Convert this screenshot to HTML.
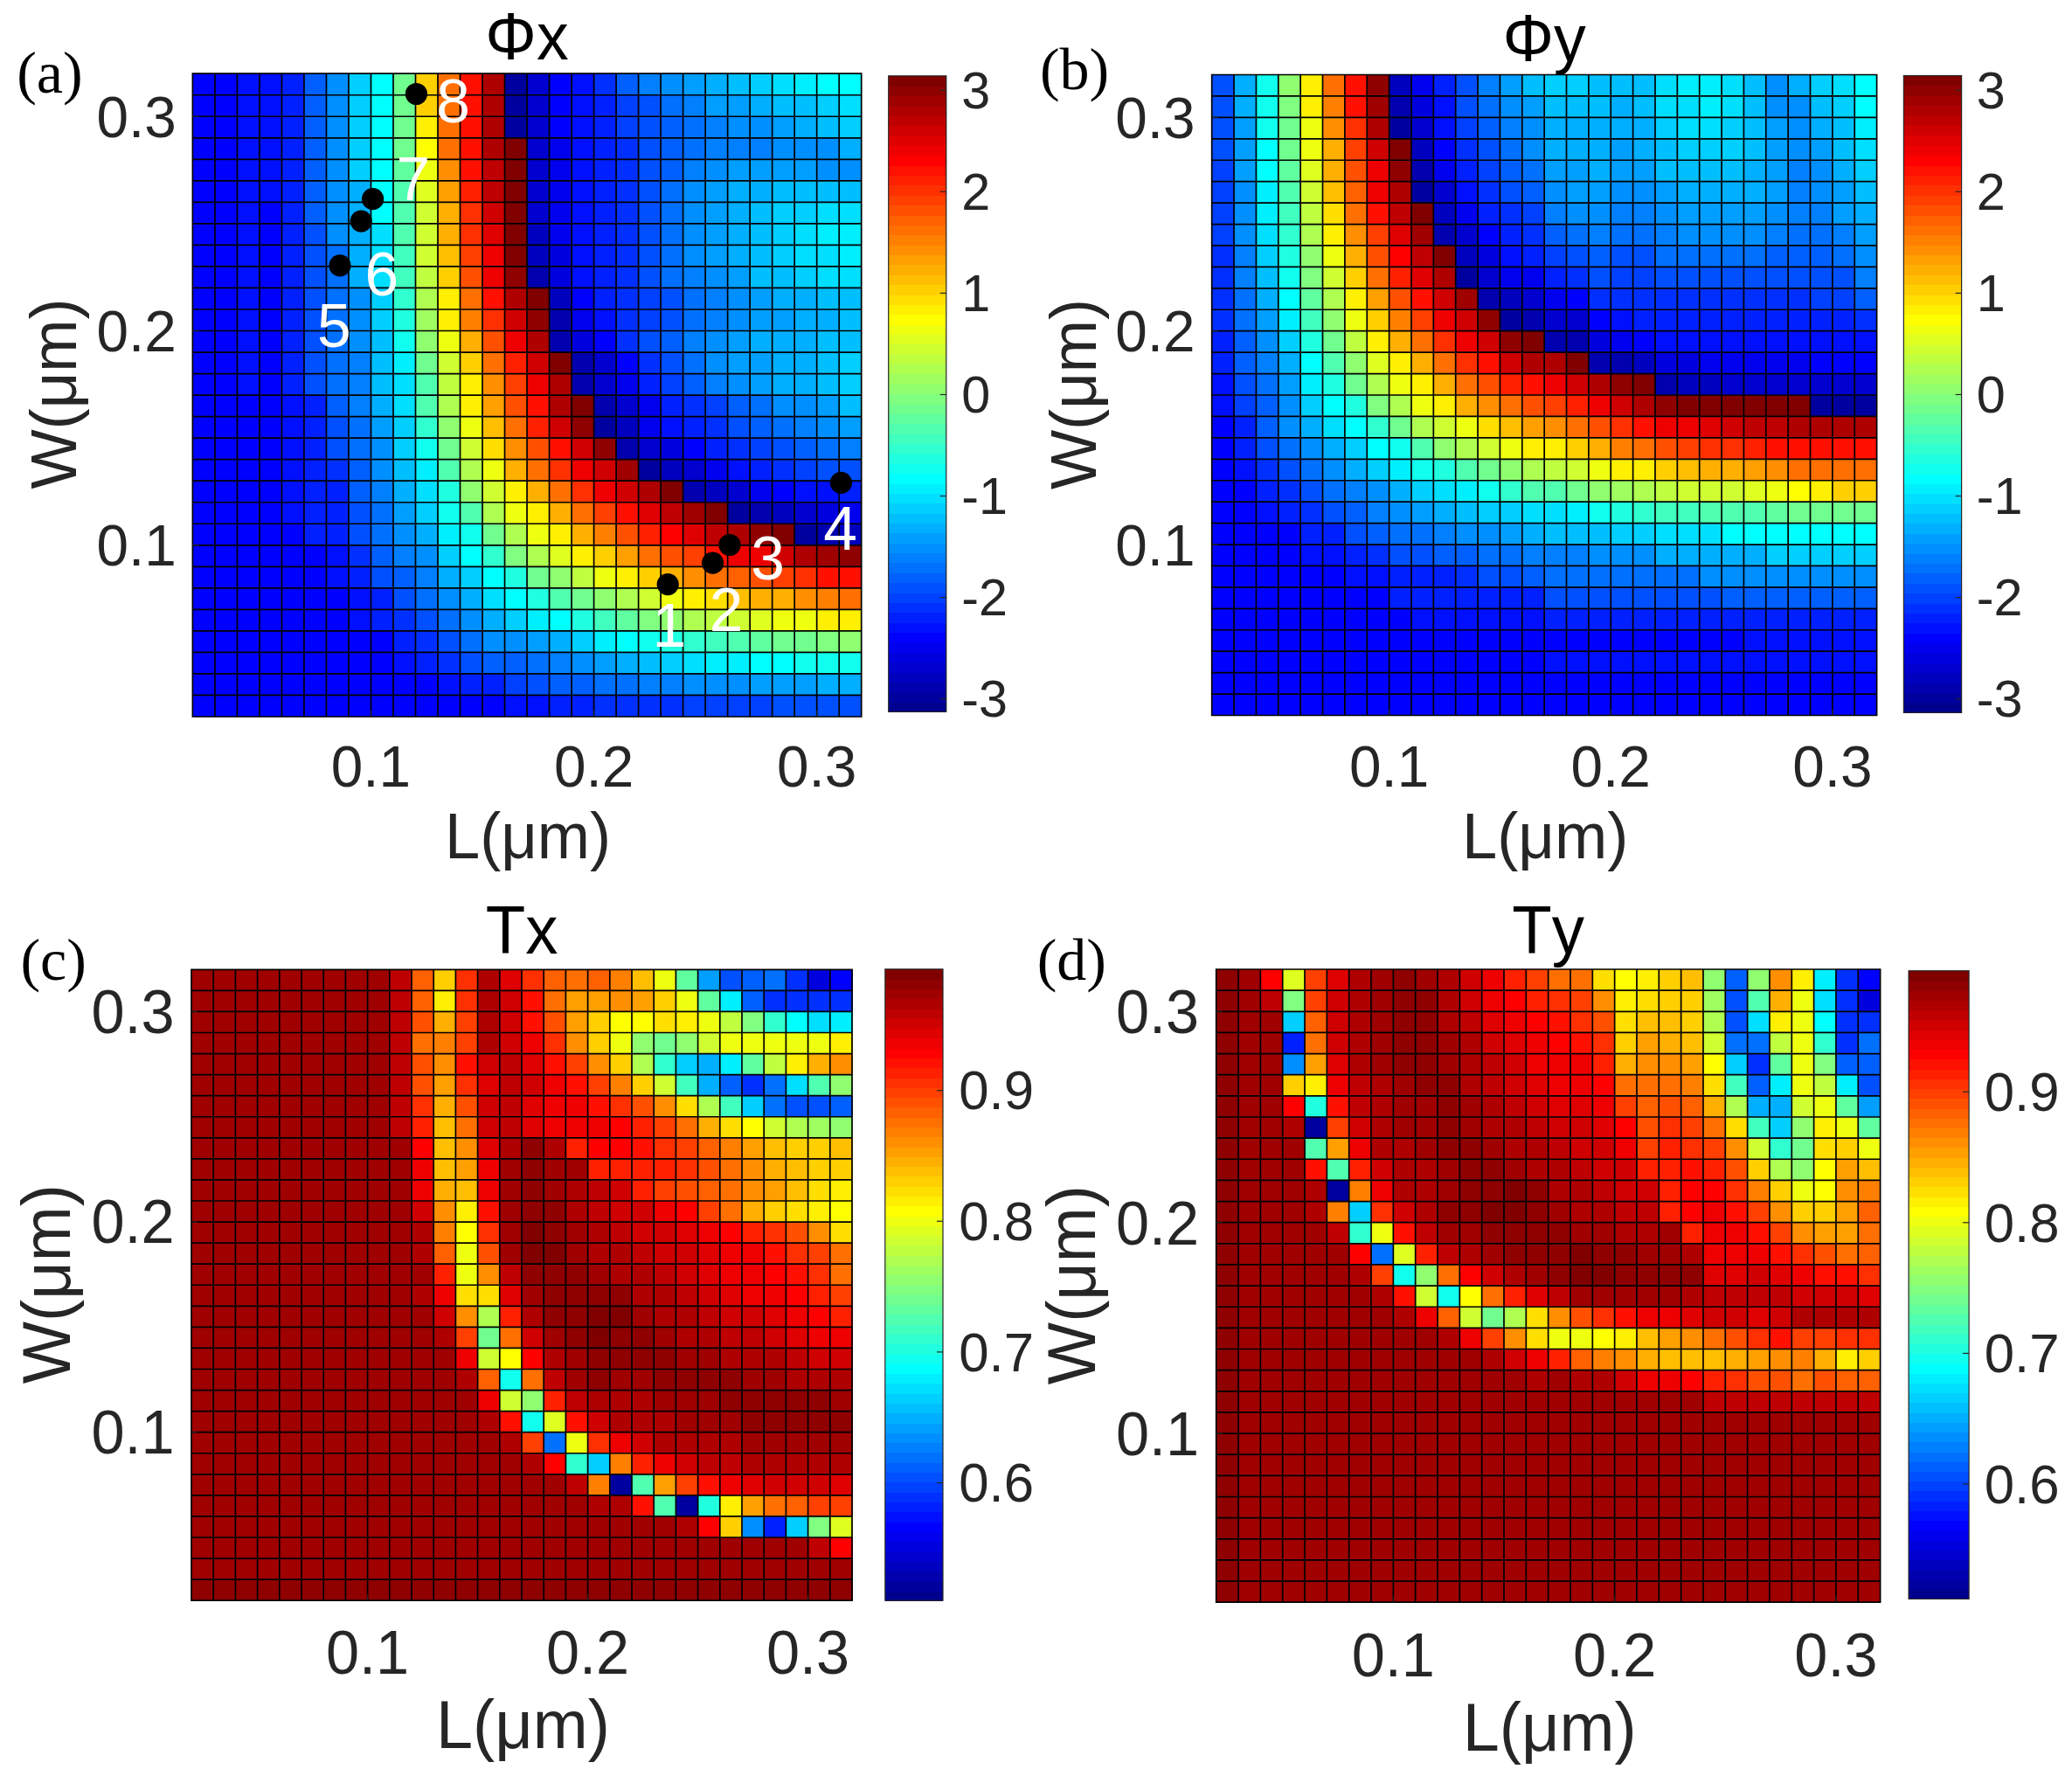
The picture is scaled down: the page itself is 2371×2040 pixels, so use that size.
<!DOCTYPE html><html><head><meta charset="utf-8"><title>Figure</title><style>html,body{margin:0;padding:0;background:#fff}svg{display:block}text{font-kerning:none}</style></head><body>
<svg width="2371" height="2040" viewBox="0 0 2371 2040">
<rect width="2371" height="2040" fill="#fff"/>
<g shape-rendering="crispEdges">
<g transform="translate(0,84.20)">
<rect x="220.40" width="51.52" height="25.03" fill="#0000ff"/>
<rect x="271.42" width="51.52" height="25.03" fill="#0010ff"/>
<rect x="322.44" width="26.01" height="25.03" fill="#0020ff"/>
<rect x="347.95" width="26.01" height="25.03" fill="#0060ff"/>
<rect x="373.46" width="26.01" height="25.03" fill="#008fff"/>
<rect x="398.97" width="26.01" height="25.03" fill="#00cfff"/>
<rect x="424.48" width="26.01" height="25.03" fill="#00ffff"/>
<rect x="449.99" width="26.01" height="25.03" fill="#70ff8f"/>
<rect x="475.50" width="26.01" height="25.03" fill="#ffcf00"/>
<rect x="501.01" width="26.01" height="25.03" fill="#ff7000"/>
<rect x="526.52" width="26.01" height="25.03" fill="#ff1000"/>
<rect x="552.03" width="26.01" height="25.03" fill="#af0000"/>
<rect x="577.54" width="26.01" height="25.03" fill="#00009f"/>
<rect x="603.05" width="26.01" height="25.03" fill="#0000cf"/>
<rect x="628.56" width="26.01" height="25.03" fill="#0000ff"/>
<rect x="654.07" width="26.01" height="25.03" fill="#0010ff"/>
<rect x="679.58" width="26.01" height="25.03" fill="#0030ff"/>
<rect x="705.09" width="26.01" height="25.03" fill="#0060ff"/>
<rect x="730.60" width="26.01" height="25.03" fill="#0080ff"/>
<rect x="756.11" width="26.01" height="25.03" fill="#008fff"/>
<rect x="781.62" width="26.01" height="25.03" fill="#009fff"/>
<rect x="807.13" width="26.01" height="25.03" fill="#00afff"/>
<rect x="832.64" width="26.01" height="25.03" fill="#00bfff"/>
<rect x="858.15" width="26.01" height="25.03" fill="#00cfff"/>
<rect x="883.66" width="26.01" height="25.03" fill="#00dfff"/>
<rect x="909.17" width="26.01" height="25.03" fill="#00efff"/>
<rect x="934.68" width="51.52" height="25.03" fill="#00ffff"/>
</g>
<g transform="translate(0,108.73)">
<rect x="220.40" width="51.52" height="25.03" fill="#0000ff"/>
<rect x="271.42" width="51.52" height="25.03" fill="#0010ff"/>
<rect x="322.44" width="26.01" height="25.03" fill="#0020ff"/>
<rect x="347.95" width="26.01" height="25.03" fill="#0060ff"/>
<rect x="373.46" width="26.01" height="25.03" fill="#008fff"/>
<rect x="398.97" width="26.01" height="25.03" fill="#00cfff"/>
<rect x="424.48" width="26.01" height="25.03" fill="#00ffff"/>
<rect x="449.99" width="26.01" height="25.03" fill="#70ff8f"/>
<rect x="475.50" width="26.01" height="25.03" fill="#ffcf00"/>
<rect x="501.01" width="26.01" height="25.03" fill="#ff7000"/>
<rect x="526.52" width="26.01" height="25.03" fill="#ff1000"/>
<rect x="552.03" width="26.01" height="25.03" fill="#af0000"/>
<rect x="577.54" width="26.01" height="25.03" fill="#00009f"/>
<rect x="603.05" width="26.01" height="25.03" fill="#0000cf"/>
<rect x="628.56" width="26.01" height="25.03" fill="#0000ff"/>
<rect x="654.07" width="26.01" height="25.03" fill="#0010ff"/>
<rect x="679.58" width="26.01" height="25.03" fill="#0020ff"/>
<rect x="705.09" width="26.01" height="25.03" fill="#0040ff"/>
<rect x="730.60" width="26.01" height="25.03" fill="#0050ff"/>
<rect x="756.11" width="26.01" height="25.03" fill="#0070ff"/>
<rect x="781.62" width="26.01" height="25.03" fill="#0080ff"/>
<rect x="807.13" width="51.52" height="25.03" fill="#009fff"/>
<rect x="858.15" width="26.01" height="25.03" fill="#00afff"/>
<rect x="883.66" width="51.52" height="25.03" fill="#00bfff"/>
<rect x="934.68" width="26.01" height="25.03" fill="#00cfff"/>
<rect x="960.19" width="26.01" height="25.03" fill="#00dfff"/>
</g>
<g transform="translate(0,133.25)">
<rect x="220.40" width="51.52" height="25.03" fill="#0000ff"/>
<rect x="271.42" width="51.52" height="25.03" fill="#0010ff"/>
<rect x="322.44" width="26.01" height="25.03" fill="#0020ff"/>
<rect x="347.95" width="26.01" height="25.03" fill="#0060ff"/>
<rect x="373.46" width="26.01" height="25.03" fill="#008fff"/>
<rect x="398.97" width="26.01" height="25.03" fill="#00cfff"/>
<rect x="424.48" width="26.01" height="25.03" fill="#00ffff"/>
<rect x="449.99" width="26.01" height="25.03" fill="#70ff8f"/>
<rect x="475.50" width="26.01" height="25.03" fill="#ffef00"/>
<rect x="501.01" width="26.01" height="25.03" fill="#ff7000"/>
<rect x="526.52" width="26.01" height="25.03" fill="#ff1000"/>
<rect x="552.03" width="26.01" height="25.03" fill="#af0000"/>
<rect x="577.54" width="26.01" height="25.03" fill="#00009f"/>
<rect x="603.05" width="26.01" height="25.03" fill="#0000cf"/>
<rect x="628.56" width="26.01" height="25.03" fill="#0000ff"/>
<rect x="654.07" width="26.01" height="25.03" fill="#0010ff"/>
<rect x="679.58" width="26.01" height="25.03" fill="#0020ff"/>
<rect x="705.09" width="26.01" height="25.03" fill="#0040ff"/>
<rect x="730.60" width="26.01" height="25.03" fill="#0050ff"/>
<rect x="756.11" width="26.01" height="25.03" fill="#0060ff"/>
<rect x="781.62" width="26.01" height="25.03" fill="#0070ff"/>
<rect x="807.13" width="26.01" height="25.03" fill="#0080ff"/>
<rect x="832.64" width="51.52" height="25.03" fill="#008fff"/>
<rect x="883.66" width="26.01" height="25.03" fill="#009fff"/>
<rect x="909.17" width="26.01" height="25.03" fill="#00afff"/>
<rect x="934.68" width="26.01" height="25.03" fill="#00bfff"/>
<rect x="960.19" width="26.01" height="25.03" fill="#00cfff"/>
</g>
<g transform="translate(0,157.78)">
<rect x="220.40" width="51.52" height="25.03" fill="#0000ff"/>
<rect x="271.42" width="51.52" height="25.03" fill="#0010ff"/>
<rect x="322.44" width="26.01" height="25.03" fill="#0020ff"/>
<rect x="347.95" width="26.01" height="25.03" fill="#0060ff"/>
<rect x="373.46" width="26.01" height="25.03" fill="#008fff"/>
<rect x="398.97" width="26.01" height="25.03" fill="#00cfff"/>
<rect x="424.48" width="26.01" height="25.03" fill="#00ffff"/>
<rect x="449.99" width="26.01" height="25.03" fill="#70ff8f"/>
<rect x="475.50" width="26.01" height="25.03" fill="#ffff00"/>
<rect x="501.01" width="26.01" height="25.03" fill="#ff7000"/>
<rect x="526.52" width="26.01" height="25.03" fill="#ff1000"/>
<rect x="552.03" width="26.01" height="25.03" fill="#af0000"/>
<rect x="577.54" width="26.01" height="25.03" fill="#800000"/>
<rect x="603.05" width="26.01" height="25.03" fill="#0000cf"/>
<rect x="628.56" width="26.01" height="25.03" fill="#0000ef"/>
<rect x="654.07" width="26.01" height="25.03" fill="#0010ff"/>
<rect x="679.58" width="26.01" height="25.03" fill="#0020ff"/>
<rect x="705.09" width="26.01" height="25.03" fill="#0030ff"/>
<rect x="730.60" width="26.01" height="25.03" fill="#0050ff"/>
<rect x="756.11" width="26.01" height="25.03" fill="#0060ff"/>
<rect x="781.62" width="26.01" height="25.03" fill="#0070ff"/>
<rect x="807.13" width="77.03" height="25.03" fill="#0080ff"/>
<rect x="883.66" width="77.03" height="25.03" fill="#008fff"/>
<rect x="960.19" width="26.01" height="25.03" fill="#00afff"/>
</g>
<g transform="translate(0,182.31)">
<rect x="220.40" width="51.52" height="25.03" fill="#0000ff"/>
<rect x="271.42" width="51.52" height="25.03" fill="#0010ff"/>
<rect x="322.44" width="26.01" height="25.03" fill="#0020ff"/>
<rect x="347.95" width="26.01" height="25.03" fill="#0060ff"/>
<rect x="373.46" width="26.01" height="25.03" fill="#008fff"/>
<rect x="398.97" width="26.01" height="25.03" fill="#00cfff"/>
<rect x="424.48" width="26.01" height="25.03" fill="#00ffff"/>
<rect x="449.99" width="26.01" height="25.03" fill="#60ff9f"/>
<rect x="475.50" width="26.01" height="25.03" fill="#efff10"/>
<rect x="501.01" width="26.01" height="25.03" fill="#ff8f00"/>
<rect x="526.52" width="26.01" height="25.03" fill="#ff1000"/>
<rect x="552.03" width="26.01" height="25.03" fill="#bf0000"/>
<rect x="577.54" width="26.01" height="25.03" fill="#800000"/>
<rect x="603.05" width="26.01" height="25.03" fill="#0000cf"/>
<rect x="628.56" width="26.01" height="25.03" fill="#0000ef"/>
<rect x="654.07" width="26.01" height="25.03" fill="#0010ff"/>
<rect x="679.58" width="26.01" height="25.03" fill="#0020ff"/>
<rect x="705.09" width="26.01" height="25.03" fill="#0030ff"/>
<rect x="730.60" width="26.01" height="25.03" fill="#0050ff"/>
<rect x="756.11" width="26.01" height="25.03" fill="#0060ff"/>
<rect x="781.62" width="26.01" height="25.03" fill="#0080ff"/>
<rect x="807.13" width="26.01" height="25.03" fill="#008fff"/>
<rect x="832.64" width="102.54" height="25.03" fill="#009fff"/>
<rect x="934.68" width="51.52" height="25.03" fill="#008fff"/>
</g>
<g transform="translate(0,206.83)">
<rect x="220.40" width="51.52" height="25.03" fill="#0000ff"/>
<rect x="271.42" width="51.52" height="25.03" fill="#0010ff"/>
<rect x="322.44" width="26.01" height="25.03" fill="#0020ff"/>
<rect x="347.95" width="26.01" height="25.03" fill="#0060ff"/>
<rect x="373.46" width="26.01" height="25.03" fill="#008fff"/>
<rect x="398.97" width="26.01" height="25.03" fill="#00afff"/>
<rect x="424.48" width="26.01" height="25.03" fill="#00ffff"/>
<rect x="449.99" width="26.01" height="25.03" fill="#50ffaf"/>
<rect x="475.50" width="26.01" height="25.03" fill="#dfff20"/>
<rect x="501.01" width="26.01" height="25.03" fill="#ff9f00"/>
<rect x="526.52" width="26.01" height="25.03" fill="#ff2000"/>
<rect x="552.03" width="26.01" height="25.03" fill="#bf0000"/>
<rect x="577.54" width="26.01" height="25.03" fill="#800000"/>
<rect x="603.05" width="26.01" height="25.03" fill="#0000cf"/>
<rect x="628.56" width="26.01" height="25.03" fill="#0000ef"/>
<rect x="654.07" width="26.01" height="25.03" fill="#0010ff"/>
<rect x="679.58" width="26.01" height="25.03" fill="#0020ff"/>
<rect x="705.09" width="26.01" height="25.03" fill="#0030ff"/>
<rect x="730.60" width="26.01" height="25.03" fill="#0050ff"/>
<rect x="756.11" width="26.01" height="25.03" fill="#0070ff"/>
<rect x="781.62" width="26.01" height="25.03" fill="#008fff"/>
<rect x="807.13" width="26.01" height="25.03" fill="#009fff"/>
<rect x="832.64" width="51.52" height="25.03" fill="#00afff"/>
<rect x="883.66" width="102.54" height="25.03" fill="#00bfff"/>
</g>
<g transform="translate(0,231.36)">
<rect x="220.40" width="51.52" height="25.03" fill="#0000ff"/>
<rect x="271.42" width="26.01" height="25.03" fill="#0010ff"/>
<rect x="296.93" width="26.01" height="25.03" fill="#0000ff"/>
<rect x="322.44" width="26.01" height="25.03" fill="#0020ff"/>
<rect x="347.95" width="26.01" height="25.03" fill="#0060ff"/>
<rect x="373.46" width="26.01" height="25.03" fill="#008fff"/>
<rect x="398.97" width="26.01" height="25.03" fill="#00afff"/>
<rect x="424.48" width="26.01" height="25.03" fill="#00ffff"/>
<rect x="449.99" width="26.01" height="25.03" fill="#50ffaf"/>
<rect x="475.50" width="26.01" height="25.03" fill="#cfff30"/>
<rect x="501.01" width="26.01" height="25.03" fill="#ffaf00"/>
<rect x="526.52" width="26.01" height="25.03" fill="#ff3000"/>
<rect x="552.03" width="26.01" height="25.03" fill="#cf0000"/>
<rect x="577.54" width="26.01" height="25.03" fill="#800000"/>
<rect x="603.05" width="26.01" height="25.03" fill="#0000cf"/>
<rect x="628.56" width="26.01" height="25.03" fill="#0000ef"/>
<rect x="654.07" width="26.01" height="25.03" fill="#0010ff"/>
<rect x="679.58" width="26.01" height="25.03" fill="#0020ff"/>
<rect x="705.09" width="26.01" height="25.03" fill="#0030ff"/>
<rect x="730.60" width="26.01" height="25.03" fill="#0050ff"/>
<rect x="756.11" width="26.01" height="25.03" fill="#0070ff"/>
<rect x="781.62" width="26.01" height="25.03" fill="#008fff"/>
<rect x="807.13" width="26.01" height="25.03" fill="#009fff"/>
<rect x="832.64" width="26.01" height="25.03" fill="#00afff"/>
<rect x="858.15" width="26.01" height="25.03" fill="#00bfff"/>
<rect x="883.66" width="51.52" height="25.03" fill="#00cfff"/>
<rect x="934.68" width="51.52" height="25.03" fill="#00dfff"/>
</g>
<g transform="translate(0,255.89)">
<rect x="220.40" width="51.52" height="25.03" fill="#0000ff"/>
<rect x="271.42" width="26.01" height="25.03" fill="#0010ff"/>
<rect x="296.93" width="26.01" height="25.03" fill="#0000ff"/>
<rect x="322.44" width="26.01" height="25.03" fill="#0020ff"/>
<rect x="347.95" width="26.01" height="25.03" fill="#0050ff"/>
<rect x="373.46" width="26.01" height="25.03" fill="#008fff"/>
<rect x="398.97" width="26.01" height="25.03" fill="#00afff"/>
<rect x="424.48" width="26.01" height="25.03" fill="#00dfff"/>
<rect x="449.99" width="26.01" height="25.03" fill="#50ffaf"/>
<rect x="475.50" width="26.01" height="25.03" fill="#cfff30"/>
<rect x="501.01" width="26.01" height="25.03" fill="#ffaf00"/>
<rect x="526.52" width="26.01" height="25.03" fill="#ff3000"/>
<rect x="552.03" width="26.01" height="25.03" fill="#df0000"/>
<rect x="577.54" width="26.01" height="25.03" fill="#800000"/>
<rect x="603.05" width="26.01" height="25.03" fill="#0000bf"/>
<rect x="628.56" width="26.01" height="25.03" fill="#0000ef"/>
<rect x="654.07" width="26.01" height="25.03" fill="#0010ff"/>
<rect x="679.58" width="26.01" height="25.03" fill="#0020ff"/>
<rect x="705.09" width="26.01" height="25.03" fill="#0030ff"/>
<rect x="730.60" width="26.01" height="25.03" fill="#0050ff"/>
<rect x="756.11" width="26.01" height="25.03" fill="#0070ff"/>
<rect x="781.62" width="26.01" height="25.03" fill="#008fff"/>
<rect x="807.13" width="26.01" height="25.03" fill="#009fff"/>
<rect x="832.64" width="26.01" height="25.03" fill="#00afff"/>
<rect x="858.15" width="26.01" height="25.03" fill="#00bfff"/>
<rect x="883.66" width="26.01" height="25.03" fill="#00cfff"/>
<rect x="909.17" width="26.01" height="25.03" fill="#00dfff"/>
<rect x="934.68" width="51.52" height="25.03" fill="#00efff"/>
</g>
<g transform="translate(0,280.41)">
<rect x="220.40" width="51.52" height="25.03" fill="#0000ff"/>
<rect x="271.42" width="26.01" height="25.03" fill="#0010ff"/>
<rect x="296.93" width="26.01" height="25.03" fill="#0000ff"/>
<rect x="322.44" width="26.01" height="25.03" fill="#0020ff"/>
<rect x="347.95" width="26.01" height="25.03" fill="#0050ff"/>
<rect x="373.46" width="26.01" height="25.03" fill="#0070ff"/>
<rect x="398.97" width="26.01" height="25.03" fill="#00afff"/>
<rect x="424.48" width="26.01" height="25.03" fill="#00dfff"/>
<rect x="449.99" width="26.01" height="25.03" fill="#40ffbf"/>
<rect x="475.50" width="26.01" height="25.03" fill="#cfff30"/>
<rect x="501.01" width="26.01" height="25.03" fill="#ffbf00"/>
<rect x="526.52" width="26.01" height="25.03" fill="#ff4000"/>
<rect x="552.03" width="26.01" height="25.03" fill="#ef0000"/>
<rect x="577.54" width="26.01" height="25.03" fill="#800000"/>
<rect x="603.05" width="26.01" height="25.03" fill="#0000bf"/>
<rect x="628.56" width="26.01" height="25.03" fill="#0000df"/>
<rect x="654.07" width="26.01" height="25.03" fill="#0010ff"/>
<rect x="679.58" width="26.01" height="25.03" fill="#0020ff"/>
<rect x="705.09" width="26.01" height="25.03" fill="#0030ff"/>
<rect x="730.60" width="26.01" height="25.03" fill="#0050ff"/>
<rect x="756.11" width="26.01" height="25.03" fill="#0070ff"/>
<rect x="781.62" width="26.01" height="25.03" fill="#008fff"/>
<rect x="807.13" width="26.01" height="25.03" fill="#009fff"/>
<rect x="832.64" width="26.01" height="25.03" fill="#00afff"/>
<rect x="858.15" width="26.01" height="25.03" fill="#00bfff"/>
<rect x="883.66" width="26.01" height="25.03" fill="#00cfff"/>
<rect x="909.17" width="51.52" height="25.03" fill="#00dfff"/>
<rect x="960.19" width="26.01" height="25.03" fill="#00efff"/>
</g>
<g transform="translate(0,304.94)">
<rect x="220.40" width="51.52" height="25.03" fill="#0000ff"/>
<rect x="271.42" width="26.01" height="25.03" fill="#0010ff"/>
<rect x="296.93" width="26.01" height="25.03" fill="#0000ff"/>
<rect x="322.44" width="26.01" height="25.03" fill="#0020ff"/>
<rect x="347.95" width="26.01" height="25.03" fill="#0050ff"/>
<rect x="373.46" width="26.01" height="25.03" fill="#0070ff"/>
<rect x="398.97" width="26.01" height="25.03" fill="#00afff"/>
<rect x="424.48" width="26.01" height="25.03" fill="#00dfff"/>
<rect x="449.99" width="26.01" height="25.03" fill="#40ffbf"/>
<rect x="475.50" width="26.01" height="25.03" fill="#bfff40"/>
<rect x="501.01" width="26.01" height="25.03" fill="#ffcf00"/>
<rect x="526.52" width="26.01" height="25.03" fill="#ff5000"/>
<rect x="552.03" width="26.01" height="25.03" fill="#ef0000"/>
<rect x="577.54" width="26.01" height="25.03" fill="#8f0000"/>
<rect x="603.05" width="26.01" height="25.03" fill="#0000af"/>
<rect x="628.56" width="26.01" height="25.03" fill="#0000df"/>
<rect x="654.07" width="26.01" height="25.03" fill="#0010ff"/>
<rect x="679.58" width="26.01" height="25.03" fill="#0020ff"/>
<rect x="705.09" width="26.01" height="25.03" fill="#0030ff"/>
<rect x="730.60" width="26.01" height="25.03" fill="#0050ff"/>
<rect x="756.11" width="26.01" height="25.03" fill="#0070ff"/>
<rect x="781.62" width="26.01" height="25.03" fill="#0080ff"/>
<rect x="807.13" width="26.01" height="25.03" fill="#008fff"/>
<rect x="832.64" width="26.01" height="25.03" fill="#009fff"/>
<rect x="858.15" width="51.52" height="25.03" fill="#00bfff"/>
<rect x="909.17" width="26.01" height="25.03" fill="#00cfff"/>
<rect x="934.68" width="51.52" height="25.03" fill="#00dfff"/>
</g>
<g transform="translate(0,329.47)">
<rect x="220.40" width="51.52" height="25.03" fill="#0000ff"/>
<rect x="271.42" width="26.01" height="25.03" fill="#0010ff"/>
<rect x="296.93" width="26.01" height="25.03" fill="#0000ff"/>
<rect x="322.44" width="26.01" height="25.03" fill="#0020ff"/>
<rect x="347.95" width="26.01" height="25.03" fill="#0050ff"/>
<rect x="373.46" width="26.01" height="25.03" fill="#0070ff"/>
<rect x="398.97" width="26.01" height="25.03" fill="#008fff"/>
<rect x="424.48" width="26.01" height="25.03" fill="#00cfff"/>
<rect x="449.99" width="26.01" height="25.03" fill="#30ffcf"/>
<rect x="475.50" width="26.01" height="25.03" fill="#afff50"/>
<rect x="501.01" width="26.01" height="25.03" fill="#ffef00"/>
<rect x="526.52" width="26.01" height="25.03" fill="#ff7000"/>
<rect x="552.03" width="26.01" height="25.03" fill="#ff1000"/>
<rect x="577.54" width="26.01" height="25.03" fill="#af0000"/>
<rect x="603.05" width="26.01" height="25.03" fill="#800000"/>
<rect x="628.56" width="26.01" height="25.03" fill="#0000bf"/>
<rect x="654.07" width="26.01" height="25.03" fill="#0000ff"/>
<rect x="679.58" width="26.01" height="25.03" fill="#0020ff"/>
<rect x="705.09" width="26.01" height="25.03" fill="#0030ff"/>
<rect x="730.60" width="26.01" height="25.03" fill="#0040ff"/>
<rect x="756.11" width="26.01" height="25.03" fill="#0050ff"/>
<rect x="781.62" width="26.01" height="25.03" fill="#0070ff"/>
<rect x="807.13" width="26.01" height="25.03" fill="#0080ff"/>
<rect x="832.64" width="26.01" height="25.03" fill="#008fff"/>
<rect x="858.15" width="26.01" height="25.03" fill="#009fff"/>
<rect x="883.66" width="51.52" height="25.03" fill="#00afff"/>
<rect x="934.68" width="51.52" height="25.03" fill="#00bfff"/>
</g>
<g transform="translate(0,353.99)">
<rect x="220.40" width="51.52" height="25.03" fill="#0000ff"/>
<rect x="271.42" width="26.01" height="25.03" fill="#0010ff"/>
<rect x="296.93" width="26.01" height="25.03" fill="#0000ff"/>
<rect x="322.44" width="26.01" height="25.03" fill="#0020ff"/>
<rect x="347.95" width="26.01" height="25.03" fill="#0050ff"/>
<rect x="373.46" width="26.01" height="25.03" fill="#0070ff"/>
<rect x="398.97" width="26.01" height="25.03" fill="#008fff"/>
<rect x="424.48" width="26.01" height="25.03" fill="#00cfff"/>
<rect x="449.99" width="26.01" height="25.03" fill="#20ffdf"/>
<rect x="475.50" width="26.01" height="25.03" fill="#9fff60"/>
<rect x="501.01" width="26.01" height="25.03" fill="#ffef00"/>
<rect x="526.52" width="26.01" height="25.03" fill="#ff8000"/>
<rect x="552.03" width="26.01" height="25.03" fill="#ff3000"/>
<rect x="577.54" width="26.01" height="25.03" fill="#cf0000"/>
<rect x="603.05" width="26.01" height="25.03" fill="#8f0000"/>
<rect x="628.56" width="26.01" height="25.03" fill="#0000af"/>
<rect x="654.07" width="26.01" height="25.03" fill="#0000ef"/>
<rect x="679.58" width="26.01" height="25.03" fill="#0010ff"/>
<rect x="705.09" width="26.01" height="25.03" fill="#0030ff"/>
<rect x="730.60" width="26.01" height="25.03" fill="#0040ff"/>
<rect x="756.11" width="26.01" height="25.03" fill="#0050ff"/>
<rect x="781.62" width="26.01" height="25.03" fill="#0070ff"/>
<rect x="807.13" width="26.01" height="25.03" fill="#0080ff"/>
<rect x="832.64" width="26.01" height="25.03" fill="#008fff"/>
<rect x="858.15" width="51.52" height="25.03" fill="#009fff"/>
<rect x="909.17" width="51.52" height="25.03" fill="#00afff"/>
<rect x="960.19" width="26.01" height="25.03" fill="#00bfff"/>
</g>
<g transform="translate(0,378.52)">
<rect x="220.40" width="51.52" height="25.03" fill="#0000ff"/>
<rect x="271.42" width="26.01" height="25.03" fill="#0010ff"/>
<rect x="296.93" width="26.01" height="25.03" fill="#0000ff"/>
<rect x="322.44" width="26.01" height="25.03" fill="#0020ff"/>
<rect x="347.95" width="26.01" height="25.03" fill="#0050ff"/>
<rect x="373.46" width="26.01" height="25.03" fill="#0070ff"/>
<rect x="398.97" width="26.01" height="25.03" fill="#008fff"/>
<rect x="424.48" width="26.01" height="25.03" fill="#00bfff"/>
<rect x="449.99" width="26.01" height="25.03" fill="#10ffef"/>
<rect x="475.50" width="26.01" height="25.03" fill="#8fff70"/>
<rect x="501.01" width="26.01" height="25.03" fill="#efff10"/>
<rect x="526.52" width="26.01" height="25.03" fill="#ffaf00"/>
<rect x="552.03" width="26.01" height="25.03" fill="#ff5000"/>
<rect x="577.54" width="26.01" height="25.03" fill="#ef0000"/>
<rect x="603.05" width="26.01" height="25.03" fill="#af0000"/>
<rect x="628.56" width="26.01" height="25.03" fill="#0000af"/>
<rect x="654.07" width="26.01" height="25.03" fill="#0000df"/>
<rect x="679.58" width="26.01" height="25.03" fill="#0000ff"/>
<rect x="705.09" width="26.01" height="25.03" fill="#0030ff"/>
<rect x="730.60" width="26.01" height="25.03" fill="#0050ff"/>
<rect x="756.11" width="26.01" height="25.03" fill="#0060ff"/>
<rect x="781.62" width="26.01" height="25.03" fill="#0080ff"/>
<rect x="807.13" width="26.01" height="25.03" fill="#008fff"/>
<rect x="832.64" width="26.01" height="25.03" fill="#009fff"/>
<rect x="858.15" width="77.03" height="25.03" fill="#00afff"/>
<rect x="934.68" width="51.52" height="25.03" fill="#00bfff"/>
</g>
<g transform="translate(0,403.05)">
<rect x="220.40" width="51.52" height="25.03" fill="#0000ff"/>
<rect x="271.42" width="26.01" height="25.03" fill="#0010ff"/>
<rect x="296.93" width="26.01" height="25.03" fill="#0000ff"/>
<rect x="322.44" width="26.01" height="25.03" fill="#0020ff"/>
<rect x="347.95" width="26.01" height="25.03" fill="#0050ff"/>
<rect x="373.46" width="26.01" height="25.03" fill="#0070ff"/>
<rect x="398.97" width="26.01" height="25.03" fill="#0080ff"/>
<rect x="424.48" width="26.01" height="25.03" fill="#00bfff"/>
<rect x="449.99" width="26.01" height="25.03" fill="#00efff"/>
<rect x="475.50" width="26.01" height="25.03" fill="#70ff8f"/>
<rect x="501.01" width="26.01" height="25.03" fill="#cfff30"/>
<rect x="526.52" width="26.01" height="25.03" fill="#ffcf00"/>
<rect x="552.03" width="26.01" height="25.03" fill="#ff7000"/>
<rect x="577.54" width="26.01" height="25.03" fill="#ff2000"/>
<rect x="603.05" width="26.01" height="25.03" fill="#cf0000"/>
<rect x="628.56" width="26.01" height="25.03" fill="#800000"/>
<rect x="654.07" width="26.01" height="25.03" fill="#0000af"/>
<rect x="679.58" width="26.01" height="25.03" fill="#0000cf"/>
<rect x="705.09" width="26.01" height="25.03" fill="#0000ff"/>
<rect x="730.60" width="26.01" height="25.03" fill="#0030ff"/>
<rect x="756.11" width="26.01" height="25.03" fill="#0050ff"/>
<rect x="781.62" width="26.01" height="25.03" fill="#0070ff"/>
<rect x="807.13" width="26.01" height="25.03" fill="#008fff"/>
<rect x="832.64" width="51.52" height="25.03" fill="#009fff"/>
<rect x="883.66" width="51.52" height="25.03" fill="#00afff"/>
<rect x="934.68" width="26.01" height="25.03" fill="#00bfff"/>
<rect x="960.19" width="26.01" height="25.03" fill="#00cfff"/>
</g>
<g transform="translate(0,427.57)">
<rect x="220.40" width="51.52" height="25.03" fill="#0000ff"/>
<rect x="271.42" width="26.01" height="25.03" fill="#0010ff"/>
<rect x="296.93" width="26.01" height="25.03" fill="#0000ff"/>
<rect x="322.44" width="26.01" height="25.03" fill="#0020ff"/>
<rect x="347.95" width="26.01" height="25.03" fill="#0050ff"/>
<rect x="373.46" width="26.01" height="25.03" fill="#0070ff"/>
<rect x="398.97" width="26.01" height="25.03" fill="#0080ff"/>
<rect x="424.48" width="26.01" height="25.03" fill="#00bfff"/>
<rect x="449.99" width="26.01" height="25.03" fill="#00dfff"/>
<rect x="475.50" width="26.01" height="25.03" fill="#50ffaf"/>
<rect x="501.01" width="26.01" height="25.03" fill="#bfff40"/>
<rect x="526.52" width="26.01" height="25.03" fill="#ffef00"/>
<rect x="552.03" width="26.01" height="25.03" fill="#ff8f00"/>
<rect x="577.54" width="26.01" height="25.03" fill="#ff4000"/>
<rect x="603.05" width="26.01" height="25.03" fill="#ef0000"/>
<rect x="628.56" width="26.01" height="25.03" fill="#af0000"/>
<rect x="654.07" width="26.01" height="25.03" fill="#0000af"/>
<rect x="679.58" width="26.01" height="25.03" fill="#0000cf"/>
<rect x="705.09" width="26.01" height="25.03" fill="#0000ef"/>
<rect x="730.60" width="26.01" height="25.03" fill="#0020ff"/>
<rect x="756.11" width="26.01" height="25.03" fill="#0040ff"/>
<rect x="781.62" width="26.01" height="25.03" fill="#0060ff"/>
<rect x="807.13" width="26.01" height="25.03" fill="#0080ff"/>
<rect x="832.64" width="26.01" height="25.03" fill="#008fff"/>
<rect x="858.15" width="26.01" height="25.03" fill="#009fff"/>
<rect x="883.66" width="51.52" height="25.03" fill="#00afff"/>
<rect x="934.68" width="26.01" height="25.03" fill="#00bfff"/>
<rect x="960.19" width="26.01" height="25.03" fill="#00cfff"/>
</g>
<g transform="translate(0,452.10)">
<rect x="220.40" width="102.54" height="25.03" fill="#0000ff"/>
<rect x="322.44" width="26.01" height="25.03" fill="#0010ff"/>
<rect x="347.95" width="26.01" height="25.03" fill="#0020ff"/>
<rect x="373.46" width="26.01" height="25.03" fill="#0060ff"/>
<rect x="398.97" width="26.01" height="25.03" fill="#0080ff"/>
<rect x="424.48" width="26.01" height="25.03" fill="#00afff"/>
<rect x="449.99" width="26.01" height="25.03" fill="#00dfff"/>
<rect x="475.50" width="26.01" height="25.03" fill="#50ffaf"/>
<rect x="501.01" width="26.01" height="25.03" fill="#afff50"/>
<rect x="526.52" width="26.01" height="25.03" fill="#ffef00"/>
<rect x="552.03" width="26.01" height="25.03" fill="#ff9f00"/>
<rect x="577.54" width="26.01" height="25.03" fill="#ff5000"/>
<rect x="603.05" width="26.01" height="25.03" fill="#ff1000"/>
<rect x="628.56" width="26.01" height="25.03" fill="#af0000"/>
<rect x="654.07" width="26.01" height="25.03" fill="#800000"/>
<rect x="679.58" width="26.01" height="25.03" fill="#0000af"/>
<rect x="705.09" width="26.01" height="25.03" fill="#0000cf"/>
<rect x="730.60" width="26.01" height="25.03" fill="#0000ef"/>
<rect x="756.11" width="26.01" height="25.03" fill="#0020ff"/>
<rect x="781.62" width="26.01" height="25.03" fill="#0030ff"/>
<rect x="807.13" width="26.01" height="25.03" fill="#0040ff"/>
<rect x="832.64" width="26.01" height="25.03" fill="#0060ff"/>
<rect x="858.15" width="26.01" height="25.03" fill="#0070ff"/>
<rect x="883.66" width="51.52" height="25.03" fill="#008fff"/>
<rect x="934.68" width="26.01" height="25.03" fill="#009fff"/>
<rect x="960.19" width="26.01" height="25.03" fill="#00bfff"/>
</g>
<g transform="translate(0,476.63)">
<rect x="220.40" width="102.54" height="25.03" fill="#0000ff"/>
<rect x="322.44" width="26.01" height="25.03" fill="#0010ff"/>
<rect x="347.95" width="26.01" height="25.03" fill="#0020ff"/>
<rect x="373.46" width="26.01" height="25.03" fill="#0050ff"/>
<rect x="398.97" width="26.01" height="25.03" fill="#0070ff"/>
<rect x="424.48" width="26.01" height="25.03" fill="#009fff"/>
<rect x="449.99" width="26.01" height="25.03" fill="#00cfff"/>
<rect x="475.50" width="26.01" height="25.03" fill="#30ffcf"/>
<rect x="501.01" width="26.01" height="25.03" fill="#8fff70"/>
<rect x="526.52" width="26.01" height="25.03" fill="#efff10"/>
<rect x="552.03" width="26.01" height="25.03" fill="#ffbf00"/>
<rect x="577.54" width="26.01" height="25.03" fill="#ff7000"/>
<rect x="603.05" width="26.01" height="25.03" fill="#ff2000"/>
<rect x="628.56" width="26.01" height="25.03" fill="#cf0000"/>
<rect x="654.07" width="26.01" height="25.03" fill="#8f0000"/>
<rect x="679.58" width="26.01" height="25.03" fill="#00009f"/>
<rect x="705.09" width="26.01" height="25.03" fill="#0000bf"/>
<rect x="730.60" width="26.01" height="25.03" fill="#0000ef"/>
<rect x="756.11" width="26.01" height="25.03" fill="#0010ff"/>
<rect x="781.62" width="26.01" height="25.03" fill="#0020ff"/>
<rect x="807.13" width="26.01" height="25.03" fill="#0030ff"/>
<rect x="832.64" width="26.01" height="25.03" fill="#0050ff"/>
<rect x="858.15" width="26.01" height="25.03" fill="#0060ff"/>
<rect x="883.66" width="26.01" height="25.03" fill="#0070ff"/>
<rect x="909.17" width="26.01" height="25.03" fill="#0080ff"/>
<rect x="934.68" width="26.01" height="25.03" fill="#008fff"/>
<rect x="960.19" width="26.01" height="25.03" fill="#009fff"/>
</g>
<g transform="translate(0,501.15)">
<rect x="220.40" width="102.54" height="25.03" fill="#0000ff"/>
<rect x="322.44" width="26.01" height="25.03" fill="#0010ff"/>
<rect x="347.95" width="26.01" height="25.03" fill="#0020ff"/>
<rect x="373.46" width="26.01" height="25.03" fill="#0050ff"/>
<rect x="398.97" width="26.01" height="25.03" fill="#0070ff"/>
<rect x="424.48" width="26.01" height="25.03" fill="#008fff"/>
<rect x="449.99" width="26.01" height="25.03" fill="#00cfff"/>
<rect x="475.50" width="26.01" height="25.03" fill="#10ffef"/>
<rect x="501.01" width="26.01" height="25.03" fill="#70ff8f"/>
<rect x="526.52" width="26.01" height="25.03" fill="#cfff30"/>
<rect x="552.03" width="26.01" height="25.03" fill="#ffdf00"/>
<rect x="577.54" width="26.01" height="25.03" fill="#ff8f00"/>
<rect x="603.05" width="26.01" height="25.03" fill="#ff5000"/>
<rect x="628.56" width="26.01" height="25.03" fill="#ff1000"/>
<rect x="654.07" width="26.01" height="25.03" fill="#cf0000"/>
<rect x="679.58" width="26.01" height="25.03" fill="#8f0000"/>
<rect x="705.09" width="26.01" height="25.03" fill="#0000af"/>
<rect x="730.60" width="26.01" height="25.03" fill="#0000cf"/>
<rect x="756.11" width="26.01" height="25.03" fill="#0000df"/>
<rect x="781.62" width="26.01" height="25.03" fill="#0000ff"/>
<rect x="807.13" width="26.01" height="25.03" fill="#0020ff"/>
<rect x="832.64" width="26.01" height="25.03" fill="#0030ff"/>
<rect x="858.15" width="26.01" height="25.03" fill="#0040ff"/>
<rect x="883.66" width="26.01" height="25.03" fill="#0050ff"/>
<rect x="909.17" width="26.01" height="25.03" fill="#0060ff"/>
<rect x="934.68" width="26.01" height="25.03" fill="#0070ff"/>
<rect x="960.19" width="26.01" height="25.03" fill="#0080ff"/>
</g>
<g transform="translate(0,525.68)">
<rect x="220.40" width="102.54" height="25.03" fill="#0000ff"/>
<rect x="322.44" width="26.01" height="25.03" fill="#0010ff"/>
<rect x="347.95" width="26.01" height="25.03" fill="#0020ff"/>
<rect x="373.46" width="26.01" height="25.03" fill="#0030ff"/>
<rect x="398.97" width="26.01" height="25.03" fill="#0060ff"/>
<rect x="424.48" width="26.01" height="25.03" fill="#008fff"/>
<rect x="449.99" width="26.01" height="25.03" fill="#00bfff"/>
<rect x="475.50" width="26.01" height="25.03" fill="#00efff"/>
<rect x="501.01" width="26.01" height="25.03" fill="#50ffaf"/>
<rect x="526.52" width="26.01" height="25.03" fill="#afff50"/>
<rect x="552.03" width="26.01" height="25.03" fill="#efff10"/>
<rect x="577.54" width="26.01" height="25.03" fill="#ffaf00"/>
<rect x="603.05" width="26.01" height="25.03" fill="#ff7000"/>
<rect x="628.56" width="26.01" height="25.03" fill="#ff3000"/>
<rect x="654.07" width="26.01" height="25.03" fill="#ef0000"/>
<rect x="679.58" width="26.01" height="25.03" fill="#cf0000"/>
<rect x="705.09" width="26.01" height="25.03" fill="#9f0000"/>
<rect x="730.60" width="26.01" height="25.03" fill="#00009f"/>
<rect x="756.11" width="26.01" height="25.03" fill="#0000bf"/>
<rect x="781.62" width="26.01" height="25.03" fill="#0000cf"/>
<rect x="807.13" width="26.01" height="25.03" fill="#0000ef"/>
<rect x="832.64" width="26.01" height="25.03" fill="#0010ff"/>
<rect x="858.15" width="26.01" height="25.03" fill="#0020ff"/>
<rect x="883.66" width="26.01" height="25.03" fill="#0030ff"/>
<rect x="909.17" width="26.01" height="25.03" fill="#0040ff"/>
<rect x="934.68" width="51.52" height="25.03" fill="#0050ff"/>
</g>
<g transform="translate(0,550.21)">
<rect x="220.40" width="102.54" height="25.03" fill="#0000ff"/>
<rect x="322.44" width="26.01" height="25.03" fill="#0010ff"/>
<rect x="347.95" width="51.52" height="25.03" fill="#0020ff"/>
<rect x="398.97" width="26.01" height="25.03" fill="#0060ff"/>
<rect x="424.48" width="26.01" height="25.03" fill="#0080ff"/>
<rect x="449.99" width="26.01" height="25.03" fill="#00afff"/>
<rect x="475.50" width="26.01" height="25.03" fill="#00dfff"/>
<rect x="501.01" width="26.01" height="25.03" fill="#20ffdf"/>
<rect x="526.52" width="26.01" height="25.03" fill="#8fff70"/>
<rect x="552.03" width="26.01" height="25.03" fill="#cfff30"/>
<rect x="577.54" width="26.01" height="25.03" fill="#ffef00"/>
<rect x="603.05" width="26.01" height="25.03" fill="#ffaf00"/>
<rect x="628.56" width="26.01" height="25.03" fill="#ff7000"/>
<rect x="654.07" width="26.01" height="25.03" fill="#ff3000"/>
<rect x="679.58" width="26.01" height="25.03" fill="#ef0000"/>
<rect x="705.09" width="26.01" height="25.03" fill="#cf0000"/>
<rect x="730.60" width="26.01" height="25.03" fill="#af0000"/>
<rect x="756.11" width="26.01" height="25.03" fill="#800000"/>
<rect x="781.62" width="26.01" height="25.03" fill="#0000af"/>
<rect x="807.13" width="26.01" height="25.03" fill="#0000bf"/>
<rect x="832.64" width="26.01" height="25.03" fill="#0000cf"/>
<rect x="858.15" width="26.01" height="25.03" fill="#0000ef"/>
<rect x="883.66" width="26.01" height="25.03" fill="#0000ff"/>
<rect x="909.17" width="51.52" height="25.03" fill="#0010ff"/>
<rect x="960.19" width="26.01" height="25.03" fill="#0020ff"/>
</g>
<g transform="translate(0,574.73)">
<rect x="220.40" width="102.54" height="25.03" fill="#0000ff"/>
<rect x="322.44" width="26.01" height="25.03" fill="#0010ff"/>
<rect x="347.95" width="51.52" height="25.03" fill="#0020ff"/>
<rect x="398.97" width="26.01" height="25.03" fill="#0050ff"/>
<rect x="424.48" width="26.01" height="25.03" fill="#0070ff"/>
<rect x="449.99" width="26.01" height="25.03" fill="#009fff"/>
<rect x="475.50" width="26.01" height="25.03" fill="#00cfff"/>
<rect x="501.01" width="26.01" height="25.03" fill="#10ffef"/>
<rect x="526.52" width="26.01" height="25.03" fill="#50ffaf"/>
<rect x="552.03" width="26.01" height="25.03" fill="#afff50"/>
<rect x="577.54" width="26.01" height="25.03" fill="#efff10"/>
<rect x="603.05" width="26.01" height="25.03" fill="#ffef00"/>
<rect x="628.56" width="26.01" height="25.03" fill="#ffaf00"/>
<rect x="654.07" width="26.01" height="25.03" fill="#ff7000"/>
<rect x="679.58" width="26.01" height="25.03" fill="#ff4000"/>
<rect x="705.09" width="26.01" height="25.03" fill="#ff1000"/>
<rect x="730.60" width="26.01" height="25.03" fill="#df0000"/>
<rect x="756.11" width="26.01" height="25.03" fill="#bf0000"/>
<rect x="781.62" width="26.01" height="25.03" fill="#9f0000"/>
<rect x="807.13" width="26.01" height="25.03" fill="#800000"/>
<rect x="832.64" width="26.01" height="25.03" fill="#00009f"/>
<rect x="858.15" width="26.01" height="25.03" fill="#0000af"/>
<rect x="883.66" width="26.01" height="25.03" fill="#0000bf"/>
<rect x="909.17" width="26.01" height="25.03" fill="#0000cf"/>
<rect x="934.68" width="26.01" height="25.03" fill="#0000df"/>
<rect x="960.19" width="26.01" height="25.03" fill="#0000ef"/>
</g>
<g transform="translate(0,599.26)">
<rect x="220.40" width="128.05" height="25.03" fill="#0000ff"/>
<rect x="347.95" width="51.52" height="25.03" fill="#0020ff"/>
<rect x="398.97" width="26.01" height="25.03" fill="#0050ff"/>
<rect x="424.48" width="26.01" height="25.03" fill="#0070ff"/>
<rect x="449.99" width="26.01" height="25.03" fill="#008fff"/>
<rect x="475.50" width="26.01" height="25.03" fill="#00afff"/>
<rect x="501.01" width="26.01" height="25.03" fill="#00efff"/>
<rect x="526.52" width="26.01" height="25.03" fill="#10ffef"/>
<rect x="552.03" width="26.01" height="25.03" fill="#70ff8f"/>
<rect x="577.54" width="26.01" height="25.03" fill="#afff50"/>
<rect x="603.05" width="26.01" height="25.03" fill="#efff10"/>
<rect x="628.56" width="26.01" height="25.03" fill="#ffef00"/>
<rect x="654.07" width="26.01" height="25.03" fill="#ffaf00"/>
<rect x="679.58" width="26.01" height="25.03" fill="#ff8000"/>
<rect x="705.09" width="26.01" height="25.03" fill="#ff5000"/>
<rect x="730.60" width="26.01" height="25.03" fill="#ff2000"/>
<rect x="756.11" width="26.01" height="25.03" fill="#ff0000"/>
<rect x="781.62" width="26.01" height="25.03" fill="#df0000"/>
<rect x="807.13" width="26.01" height="25.03" fill="#bf0000"/>
<rect x="832.64" width="26.01" height="25.03" fill="#af0000"/>
<rect x="858.15" width="26.01" height="25.03" fill="#8f0000"/>
<rect x="883.66" width="26.01" height="25.03" fill="#800000"/>
<rect x="909.17" width="26.01" height="25.03" fill="#00009f"/>
<rect x="934.68" width="26.01" height="25.03" fill="#0000af"/>
<rect x="960.19" width="26.01" height="25.03" fill="#0000bf"/>
</g>
<g transform="translate(0,623.79)">
<rect x="220.40" width="153.56" height="25.03" fill="#0000ff"/>
<rect x="373.46" width="26.01" height="25.03" fill="#0010ff"/>
<rect x="398.97" width="26.01" height="25.03" fill="#0030ff"/>
<rect x="424.48" width="26.01" height="25.03" fill="#0060ff"/>
<rect x="449.99" width="26.01" height="25.03" fill="#0080ff"/>
<rect x="475.50" width="26.01" height="25.03" fill="#008fff"/>
<rect x="501.01" width="26.01" height="25.03" fill="#00cfff"/>
<rect x="526.52" width="26.01" height="25.03" fill="#00ffff"/>
<rect x="552.03" width="26.01" height="25.03" fill="#30ffcf"/>
<rect x="577.54" width="26.01" height="25.03" fill="#80ff80"/>
<rect x="603.05" width="26.01" height="25.03" fill="#afff50"/>
<rect x="628.56" width="26.01" height="25.03" fill="#dfff20"/>
<rect x="654.07" width="26.01" height="25.03" fill="#ffef00"/>
<rect x="679.58" width="26.01" height="25.03" fill="#ffcf00"/>
<rect x="705.09" width="26.01" height="25.03" fill="#ff9f00"/>
<rect x="730.60" width="26.01" height="25.03" fill="#ff7000"/>
<rect x="756.11" width="26.01" height="25.03" fill="#ff5000"/>
<rect x="781.62" width="26.01" height="25.03" fill="#ff4000"/>
<rect x="807.13" width="26.01" height="25.03" fill="#ff1000"/>
<rect x="832.64" width="51.52" height="25.03" fill="#ef0000"/>
<rect x="883.66" width="26.01" height="25.03" fill="#cf0000"/>
<rect x="909.17" width="26.01" height="25.03" fill="#af0000"/>
<rect x="934.68" width="26.01" height="25.03" fill="#9f0000"/>
<rect x="960.19" width="26.01" height="25.03" fill="#8f0000"/>
</g>
<g transform="translate(0,648.31)">
<rect x="220.40" width="153.56" height="25.03" fill="#0000ff"/>
<rect x="373.46" width="26.01" height="25.03" fill="#0010ff"/>
<rect x="398.97" width="26.01" height="25.03" fill="#0020ff"/>
<rect x="424.48" width="26.01" height="25.03" fill="#0050ff"/>
<rect x="449.99" width="26.01" height="25.03" fill="#0060ff"/>
<rect x="475.50" width="26.01" height="25.03" fill="#0080ff"/>
<rect x="501.01" width="26.01" height="25.03" fill="#00afff"/>
<rect x="526.52" width="26.01" height="25.03" fill="#00cfff"/>
<rect x="552.03" width="26.01" height="25.03" fill="#00ffff"/>
<rect x="577.54" width="26.01" height="25.03" fill="#20ffdf"/>
<rect x="603.05" width="26.01" height="25.03" fill="#70ff8f"/>
<rect x="628.56" width="26.01" height="25.03" fill="#8fff70"/>
<rect x="654.07" width="26.01" height="25.03" fill="#bfff40"/>
<rect x="679.58" width="26.01" height="25.03" fill="#efff10"/>
<rect x="705.09" width="26.01" height="25.03" fill="#ffef00"/>
<rect x="730.60" width="26.01" height="25.03" fill="#ffcf00"/>
<rect x="756.11" width="26.01" height="25.03" fill="#ffaf00"/>
<rect x="781.62" width="26.01" height="25.03" fill="#ff8f00"/>
<rect x="807.13" width="26.01" height="25.03" fill="#ff7000"/>
<rect x="832.64" width="26.01" height="25.03" fill="#ff6000"/>
<rect x="858.15" width="26.01" height="25.03" fill="#ff5000"/>
<rect x="883.66" width="26.01" height="25.03" fill="#ff4000"/>
<rect x="909.17" width="26.01" height="25.03" fill="#ff3000"/>
<rect x="934.68" width="51.52" height="25.03" fill="#ff1000"/>
</g>
<g transform="translate(0,672.84)">
<rect x="220.40" width="179.07" height="25.03" fill="#0000ff"/>
<rect x="398.97" width="26.01" height="25.03" fill="#0010ff"/>
<rect x="424.48" width="26.01" height="25.03" fill="#0020ff"/>
<rect x="449.99" width="26.01" height="25.03" fill="#0050ff"/>
<rect x="475.50" width="26.01" height="25.03" fill="#0070ff"/>
<rect x="501.01" width="26.01" height="25.03" fill="#008fff"/>
<rect x="526.52" width="26.01" height="25.03" fill="#00afff"/>
<rect x="552.03" width="26.01" height="25.03" fill="#00dfff"/>
<rect x="577.54" width="26.01" height="25.03" fill="#00ffff"/>
<rect x="603.05" width="26.01" height="25.03" fill="#20ffdf"/>
<rect x="628.56" width="26.01" height="25.03" fill="#50ffaf"/>
<rect x="654.07" width="26.01" height="25.03" fill="#70ff8f"/>
<rect x="679.58" width="26.01" height="25.03" fill="#8fff70"/>
<rect x="705.09" width="26.01" height="25.03" fill="#afff50"/>
<rect x="730.60" width="26.01" height="25.03" fill="#cfff30"/>
<rect x="756.11" width="26.01" height="25.03" fill="#efff10"/>
<rect x="781.62" width="26.01" height="25.03" fill="#ffef00"/>
<rect x="807.13" width="26.01" height="25.03" fill="#ffdf00"/>
<rect x="832.64" width="26.01" height="25.03" fill="#ffbf00"/>
<rect x="858.15" width="51.52" height="25.03" fill="#ffaf00"/>
<rect x="909.17" width="26.01" height="25.03" fill="#ff8f00"/>
<rect x="934.68" width="26.01" height="25.03" fill="#ff8000"/>
<rect x="960.19" width="26.01" height="25.03" fill="#ff7000"/>
</g>
<g transform="translate(0,697.37)">
<rect x="220.40" width="179.07" height="25.03" fill="#0000ff"/>
<rect x="398.97" width="26.01" height="25.03" fill="#0010ff"/>
<rect x="424.48" width="26.01" height="25.03" fill="#0020ff"/>
<rect x="449.99" width="26.01" height="25.03" fill="#0030ff"/>
<rect x="475.50" width="26.01" height="25.03" fill="#0050ff"/>
<rect x="501.01" width="26.01" height="25.03" fill="#0070ff"/>
<rect x="526.52" width="26.01" height="25.03" fill="#008fff"/>
<rect x="552.03" width="26.01" height="25.03" fill="#00afff"/>
<rect x="577.54" width="26.01" height="25.03" fill="#00cfff"/>
<rect x="603.05" width="26.01" height="25.03" fill="#00efff"/>
<rect x="628.56" width="26.01" height="25.03" fill="#00ffff"/>
<rect x="654.07" width="26.01" height="25.03" fill="#20ffdf"/>
<rect x="679.58" width="26.01" height="25.03" fill="#40ffbf"/>
<rect x="705.09" width="26.01" height="25.03" fill="#60ff9f"/>
<rect x="730.60" width="26.01" height="25.03" fill="#80ff80"/>
<rect x="756.11" width="26.01" height="25.03" fill="#8fff70"/>
<rect x="781.62" width="26.01" height="25.03" fill="#afff50"/>
<rect x="807.13" width="26.01" height="25.03" fill="#bfff40"/>
<rect x="832.64" width="26.01" height="25.03" fill="#cfff30"/>
<rect x="858.15" width="26.01" height="25.03" fill="#dfff20"/>
<rect x="883.66" width="51.52" height="25.03" fill="#efff10"/>
<rect x="934.68" width="51.52" height="25.03" fill="#ffef00"/>
</g>
<g transform="translate(0,721.89)">
<rect x="220.40" width="230.09" height="25.03" fill="#0000ff"/>
<rect x="449.99" width="26.01" height="25.03" fill="#0020ff"/>
<rect x="475.50" width="26.01" height="25.03" fill="#0030ff"/>
<rect x="501.01" width="26.01" height="25.03" fill="#0050ff"/>
<rect x="526.52" width="26.01" height="25.03" fill="#0070ff"/>
<rect x="552.03" width="51.52" height="25.03" fill="#008fff"/>
<rect x="603.05" width="26.01" height="25.03" fill="#009fff"/>
<rect x="628.56" width="26.01" height="25.03" fill="#00afff"/>
<rect x="654.07" width="26.01" height="25.03" fill="#00cfff"/>
<rect x="679.58" width="26.01" height="25.03" fill="#00efff"/>
<rect x="705.09" width="26.01" height="25.03" fill="#00ffff"/>
<rect x="730.60" width="26.01" height="25.03" fill="#10ffef"/>
<rect x="756.11" width="26.01" height="25.03" fill="#20ffdf"/>
<rect x="781.62" width="26.01" height="25.03" fill="#30ffcf"/>
<rect x="807.13" width="26.01" height="25.03" fill="#40ffbf"/>
<rect x="832.64" width="26.01" height="25.03" fill="#50ffaf"/>
<rect x="858.15" width="26.01" height="25.03" fill="#60ff9f"/>
<rect x="883.66" width="51.52" height="25.03" fill="#70ff8f"/>
<rect x="934.68" width="26.01" height="25.03" fill="#80ff80"/>
<rect x="960.19" width="26.01" height="25.03" fill="#8fff70"/>
</g>
<g transform="translate(0,746.42)">
<rect x="220.40" width="230.09" height="25.03" fill="#0000ff"/>
<rect x="449.99" width="26.01" height="25.03" fill="#0010ff"/>
<rect x="475.50" width="26.01" height="25.03" fill="#0020ff"/>
<rect x="501.01" width="26.01" height="25.03" fill="#0030ff"/>
<rect x="526.52" width="26.01" height="25.03" fill="#0050ff"/>
<rect x="552.03" width="51.52" height="25.03" fill="#0060ff"/>
<rect x="603.05" width="26.01" height="25.03" fill="#0070ff"/>
<rect x="628.56" width="26.01" height="25.03" fill="#0080ff"/>
<rect x="654.07" width="26.01" height="25.03" fill="#008fff"/>
<rect x="679.58" width="26.01" height="25.03" fill="#009fff"/>
<rect x="705.09" width="26.01" height="25.03" fill="#00afff"/>
<rect x="730.60" width="26.01" height="25.03" fill="#00bfff"/>
<rect x="756.11" width="26.01" height="25.03" fill="#00cfff"/>
<rect x="781.62" width="26.01" height="25.03" fill="#00dfff"/>
<rect x="807.13" width="51.52" height="25.03" fill="#00efff"/>
<rect x="858.15" width="51.52" height="25.03" fill="#00ffff"/>
<rect x="909.17" width="77.03" height="25.03" fill="#10ffef"/>
</g>
<g transform="translate(0,770.95)">
<rect x="220.40" width="281.11" height="25.03" fill="#0000ff"/>
<rect x="501.01" width="26.01" height="25.03" fill="#0010ff"/>
<rect x="526.52" width="51.52" height="25.03" fill="#0020ff"/>
<rect x="577.54" width="26.01" height="25.03" fill="#0040ff"/>
<rect x="603.05" width="26.01" height="25.03" fill="#0050ff"/>
<rect x="628.56" width="51.52" height="25.03" fill="#0060ff"/>
<rect x="679.58" width="51.52" height="25.03" fill="#0070ff"/>
<rect x="730.60" width="51.52" height="25.03" fill="#0080ff"/>
<rect x="781.62" width="77.03" height="25.03" fill="#008fff"/>
<rect x="858.15" width="77.03" height="25.03" fill="#009fff"/>
<rect x="934.68" width="51.52" height="25.03" fill="#00afff"/>
</g>
<g transform="translate(0,795.47)">
<rect x="220.40" width="357.64" height="25.03" fill="#0000ff"/>
<rect x="577.54" width="51.52" height="25.03" fill="#0010ff"/>
<rect x="628.56" width="51.52" height="25.03" fill="#0020ff"/>
<rect x="679.58" width="102.54" height="25.03" fill="#0030ff"/>
<rect x="781.62" width="102.54" height="25.03" fill="#0040ff"/>
<rect x="883.66" width="102.54" height="25.03" fill="#0050ff"/>
</g>
</g>
<path d="M220.40 84.20V820.00M220.40 84.20H985.70M245.91 84.20V820.00M220.40 108.73H985.70M271.42 84.20V820.00M220.40 133.25H985.70M296.93 84.20V820.00M220.40 157.78H985.70M322.44 84.20V820.00M220.40 182.31H985.70M347.95 84.20V820.00M220.40 206.83H985.70M373.46 84.20V820.00M220.40 231.36H985.70M398.97 84.20V820.00M220.40 255.89H985.70M424.48 84.20V820.00M220.40 280.41H985.70M449.99 84.20V820.00M220.40 304.94H985.70M475.50 84.20V820.00M220.40 329.47H985.70M501.01 84.20V820.00M220.40 353.99H985.70M526.52 84.20V820.00M220.40 378.52H985.70M552.03 84.20V820.00M220.40 403.05H985.70M577.54 84.20V820.00M220.40 427.57H985.70M603.05 84.20V820.00M220.40 452.10H985.70M628.56 84.20V820.00M220.40 476.63H985.70M654.07 84.20V820.00M220.40 501.15H985.70M679.58 84.20V820.00M220.40 525.68H985.70M705.09 84.20V820.00M220.40 550.21H985.70M730.60 84.20V820.00M220.40 574.73H985.70M756.11 84.20V820.00M220.40 599.26H985.70M781.62 84.20V820.00M220.40 623.79H985.70M807.13 84.20V820.00M220.40 648.31H985.70M832.64 84.20V820.00M220.40 672.84H985.70M858.15 84.20V820.00M220.40 697.37H985.70M883.66 84.20V820.00M220.40 721.89H985.70M909.17 84.20V820.00M220.40 746.42H985.70M934.68 84.20V820.00M220.40 770.95H985.70M960.19 84.20V820.00M220.40 795.47H985.70M985.70 84.20V820.00M220.40 820.00H985.70" stroke="#000" stroke-width="1.70" fill="none" stroke-linecap="square"/>
<text transform="translate(424.48,900.40) scale(1,1.025)" font-size="65.70" text-anchor="middle" fill="#262626" font-family="Liberation Sans, Arial, sans-serif" >0.1</text>
<text transform="translate(201.90,647.39) scale(1,1.025)" font-size="65.70" text-anchor="end" fill="#262626" font-family="Liberation Sans, Arial, sans-serif" >0.1</text>
<path d="M424.48 820.00v-7M220.40 623.79h7" stroke="#262626" stroke-width="1.2"/>
<text transform="translate(679.58,900.40) scale(1,1.025)" font-size="65.70" text-anchor="middle" fill="#262626" font-family="Liberation Sans, Arial, sans-serif" >0.2</text>
<text transform="translate(201.90,402.12) scale(1,1.025)" font-size="65.70" text-anchor="end" fill="#262626" font-family="Liberation Sans, Arial, sans-serif" >0.2</text>
<path d="M679.58 820.00v-7M220.40 378.52h7" stroke="#262626" stroke-width="1.2"/>
<text transform="translate(934.68,900.40) scale(1,1.025)" font-size="65.70" text-anchor="middle" fill="#262626" font-family="Liberation Sans, Arial, sans-serif" >0.3</text>
<text transform="translate(201.90,156.85) scale(1,1.025)" font-size="65.70" text-anchor="end" fill="#262626" font-family="Liberation Sans, Arial, sans-serif" >0.3</text>
<path d="M934.68 820.00v-7M220.40 133.25h7" stroke="#262626" stroke-width="1.2"/>
<text transform="translate(604.05,982.40) scale(1,1.030)" font-size="72.30" text-anchor="middle" fill="#262626" font-family="Liberation Sans, Arial, sans-serif" >L(μm)</text>
<text transform="translate(87.40,450.50) rotate(-90) scale(1,1.03)" font-size="72.30" text-anchor="middle" fill="#262626" font-family="Liberation Sans, Arial, sans-serif">W(μm)</text>
<text transform="translate(603.05,68.00) scale(1,1.035)" font-size="73.50" text-anchor="middle" fill="#000" font-family="Liberation Sans, Arial, sans-serif" >Φx</text>
<text x="19.20" y="106.00" font-size="68.00" text-anchor="start" fill="#000" font-family="Liberation Serif, Times New Roman, serif" >(a)</text>
<g shape-rendering="crispEdges">
<rect x="1016.70" y="803.03" width="66.10" height="11.97" fill="#00008f"/>
<rect x="1016.70" y="791.66" width="66.10" height="11.97" fill="#00009f"/>
<rect x="1016.70" y="780.29" width="66.10" height="11.97" fill="#0000af"/>
<rect x="1016.70" y="768.92" width="66.10" height="11.97" fill="#0000bf"/>
<rect x="1016.70" y="757.56" width="66.10" height="11.97" fill="#0000cf"/>
<rect x="1016.70" y="746.19" width="66.10" height="11.97" fill="#0000df"/>
<rect x="1016.70" y="734.82" width="66.10" height="11.97" fill="#0000ef"/>
<rect x="1016.70" y="723.45" width="66.10" height="11.97" fill="#0000ff"/>
<rect x="1016.70" y="712.08" width="66.10" height="11.97" fill="#0010ff"/>
<rect x="1016.70" y="700.71" width="66.10" height="11.97" fill="#0020ff"/>
<rect x="1016.70" y="689.34" width="66.10" height="11.97" fill="#0030ff"/>
<rect x="1016.70" y="677.97" width="66.10" height="11.97" fill="#0040ff"/>
<rect x="1016.70" y="666.61" width="66.10" height="11.97" fill="#0050ff"/>
<rect x="1016.70" y="655.24" width="66.10" height="11.97" fill="#0060ff"/>
<rect x="1016.70" y="643.87" width="66.10" height="11.97" fill="#0070ff"/>
<rect x="1016.70" y="632.50" width="66.10" height="11.97" fill="#0080ff"/>
<rect x="1016.70" y="621.13" width="66.10" height="11.97" fill="#008fff"/>
<rect x="1016.70" y="609.76" width="66.10" height="11.97" fill="#009fff"/>
<rect x="1016.70" y="598.39" width="66.10" height="11.97" fill="#00afff"/>
<rect x="1016.70" y="587.02" width="66.10" height="11.97" fill="#00bfff"/>
<rect x="1016.70" y="575.66" width="66.10" height="11.97" fill="#00cfff"/>
<rect x="1016.70" y="564.29" width="66.10" height="11.97" fill="#00dfff"/>
<rect x="1016.70" y="552.92" width="66.10" height="11.97" fill="#00efff"/>
<rect x="1016.70" y="541.55" width="66.10" height="11.97" fill="#00ffff"/>
<rect x="1016.70" y="530.18" width="66.10" height="11.97" fill="#10ffef"/>
<rect x="1016.70" y="518.81" width="66.10" height="11.97" fill="#20ffdf"/>
<rect x="1016.70" y="507.44" width="66.10" height="11.97" fill="#30ffcf"/>
<rect x="1016.70" y="496.07" width="66.10" height="11.97" fill="#40ffbf"/>
<rect x="1016.70" y="484.71" width="66.10" height="11.97" fill="#50ffaf"/>
<rect x="1016.70" y="473.34" width="66.10" height="11.97" fill="#60ff9f"/>
<rect x="1016.70" y="461.97" width="66.10" height="11.97" fill="#70ff8f"/>
<rect x="1016.70" y="450.60" width="66.10" height="11.97" fill="#80ff80"/>
<rect x="1016.70" y="439.23" width="66.10" height="11.97" fill="#8fff70"/>
<rect x="1016.70" y="427.86" width="66.10" height="11.97" fill="#9fff60"/>
<rect x="1016.70" y="416.49" width="66.10" height="11.97" fill="#afff50"/>
<rect x="1016.70" y="405.12" width="66.10" height="11.97" fill="#bfff40"/>
<rect x="1016.70" y="393.76" width="66.10" height="11.97" fill="#cfff30"/>
<rect x="1016.70" y="382.39" width="66.10" height="11.97" fill="#dfff20"/>
<rect x="1016.70" y="371.02" width="66.10" height="11.97" fill="#efff10"/>
<rect x="1016.70" y="359.65" width="66.10" height="11.97" fill="#ffff00"/>
<rect x="1016.70" y="348.28" width="66.10" height="11.97" fill="#ffef00"/>
<rect x="1016.70" y="336.91" width="66.10" height="11.97" fill="#ffdf00"/>
<rect x="1016.70" y="325.54" width="66.10" height="11.97" fill="#ffcf00"/>
<rect x="1016.70" y="314.17" width="66.10" height="11.97" fill="#ffbf00"/>
<rect x="1016.70" y="302.81" width="66.10" height="11.97" fill="#ffaf00"/>
<rect x="1016.70" y="291.44" width="66.10" height="11.97" fill="#ff9f00"/>
<rect x="1016.70" y="280.07" width="66.10" height="11.97" fill="#ff8f00"/>
<rect x="1016.70" y="268.70" width="66.10" height="11.97" fill="#ff8000"/>
<rect x="1016.70" y="257.33" width="66.10" height="11.97" fill="#ff7000"/>
<rect x="1016.70" y="245.96" width="66.10" height="11.97" fill="#ff6000"/>
<rect x="1016.70" y="234.59" width="66.10" height="11.97" fill="#ff5000"/>
<rect x="1016.70" y="223.22" width="66.10" height="11.97" fill="#ff4000"/>
<rect x="1016.70" y="211.86" width="66.10" height="11.97" fill="#ff3000"/>
<rect x="1016.70" y="200.49" width="66.10" height="11.97" fill="#ff2000"/>
<rect x="1016.70" y="189.12" width="66.10" height="11.97" fill="#ff1000"/>
<rect x="1016.70" y="177.75" width="66.10" height="11.97" fill="#ff0000"/>
<rect x="1016.70" y="166.38" width="66.10" height="11.97" fill="#ef0000"/>
<rect x="1016.70" y="155.01" width="66.10" height="11.97" fill="#df0000"/>
<rect x="1016.70" y="143.64" width="66.10" height="11.97" fill="#cf0000"/>
<rect x="1016.70" y="132.27" width="66.10" height="11.97" fill="#bf0000"/>
<rect x="1016.70" y="120.91" width="66.10" height="11.97" fill="#af0000"/>
<rect x="1016.70" y="109.54" width="66.10" height="11.97" fill="#9f0000"/>
<rect x="1016.70" y="98.17" width="66.10" height="11.97" fill="#8f0000"/>
<rect x="1016.70" y="86.80" width="66.10" height="11.97" fill="#800000"/>
</g>
<rect x="1016.70" y="86.80" width="66.10" height="727.60" fill="none" stroke="#262626" stroke-width="1.2"/>
<path d="M1082.8 103.26h-7" stroke="#262626" stroke-width="1.2"/>
<path d="M1082.8 219.33h-7" stroke="#262626" stroke-width="1.2"/>
<path d="M1082.8 335.40h-7" stroke="#262626" stroke-width="1.2"/>
<path d="M1082.8 451.47h-7" stroke="#262626" stroke-width="1.2"/>
<path d="M1082.8 567.54h-7" stroke="#262626" stroke-width="1.2"/>
<path d="M1082.8 683.61h-7" stroke="#262626" stroke-width="1.2"/>
<path d="M1082.8 799.68h-7" stroke="#262626" stroke-width="1.2"/>
<text x="1100.30" y="123.78" font-size="59.30" text-anchor="start" fill="#262626" font-family="Liberation Sans, Arial, sans-serif" >3</text>
<text x="1100.30" y="239.85" font-size="59.30" text-anchor="start" fill="#262626" font-family="Liberation Sans, Arial, sans-serif" >2</text>
<text x="1100.30" y="355.92" font-size="59.30" text-anchor="start" fill="#262626" font-family="Liberation Sans, Arial, sans-serif" >1</text>
<text x="1100.30" y="471.99" font-size="59.30" text-anchor="start" fill="#262626" font-family="Liberation Sans, Arial, sans-serif" >0</text>
<text x="1100.30" y="588.06" font-size="59.30" text-anchor="start" fill="#262626" font-family="Liberation Sans, Arial, sans-serif" >-1</text>
<text x="1100.30" y="704.13" font-size="59.30" text-anchor="start" fill="#262626" font-family="Liberation Sans, Arial, sans-serif" >-2</text>
<text x="1100.30" y="820.20" font-size="59.30" text-anchor="start" fill="#262626" font-family="Liberation Sans, Arial, sans-serif" >-3</text>
<circle cx="476.4" cy="107.5" r="12.6" fill="#000"/>
<circle cx="426.6" cy="227.7" r="12.6" fill="#000"/>
<circle cx="413.2" cy="253.1" r="12.6" fill="#000"/>
<circle cx="389.0" cy="303.8" r="12.6" fill="#000"/>
<circle cx="764.2" cy="668.6" r="12.6" fill="#000"/>
<circle cx="815.6" cy="644.2" r="12.6" fill="#000"/>
<circle cx="835.0" cy="623.5" r="12.6" fill="#000"/>
<circle cx="962.4" cy="552.4" r="12.6" fill="#000"/>
<text transform="translate(518.60,139.50) scale(1,1.025)" font-size="69.50" text-anchor="middle" fill="#fff" font-family="Liberation Sans, Arial, sans-serif" >8</text>
<text transform="translate(472.80,229.00) scale(1,1.025)" font-size="69.50" text-anchor="middle" fill="#fff" font-family="Liberation Sans, Arial, sans-serif" >7</text>
<text transform="translate(436.70,338.00) scale(1,1.025)" font-size="69.50" text-anchor="middle" fill="#fff" font-family="Liberation Sans, Arial, sans-serif" >6</text>
<text transform="translate(382.40,396.50) scale(1,1.025)" font-size="69.50" text-anchor="middle" fill="#fff" font-family="Liberation Sans, Arial, sans-serif" >5</text>
<text transform="translate(765.70,739.60) scale(1,1.025)" font-size="69.50" text-anchor="middle" fill="#fff" font-family="Liberation Sans, Arial, sans-serif" >1</text>
<text transform="translate(831.10,722.20) scale(1,1.025)" font-size="69.50" text-anchor="middle" fill="#fff" font-family="Liberation Sans, Arial, sans-serif" >2</text>
<text transform="translate(878.60,663.00) scale(1,1.025)" font-size="69.50" text-anchor="middle" fill="#fff" font-family="Liberation Sans, Arial, sans-serif" >3</text>
<text transform="translate(961.60,629.20) scale(1,1.025)" font-size="69.50" text-anchor="middle" fill="#fff" font-family="Liberation Sans, Arial, sans-serif" >4</text>
<g shape-rendering="crispEdges">
<g transform="translate(0,85.50)">
<rect x="1386.70" width="25.86" height="24.93" fill="#0050ff"/>
<rect x="1412.06" width="25.86" height="24.93" fill="#00afff"/>
<rect x="1437.43" width="25.86" height="24.93" fill="#10ffef"/>
<rect x="1462.79" width="25.86" height="24.93" fill="#8fff70"/>
<rect x="1488.15" width="25.86" height="24.93" fill="#ffef00"/>
<rect x="1513.52" width="25.86" height="24.93" fill="#ff7000"/>
<rect x="1538.88" width="25.86" height="24.93" fill="#ff1000"/>
<rect x="1564.24" width="25.86" height="24.93" fill="#8f0000"/>
<rect x="1589.61" width="25.86" height="24.93" fill="#0000bf"/>
<rect x="1614.97" width="25.86" height="24.93" fill="#0000ef"/>
<rect x="1640.33" width="25.86" height="24.93" fill="#0020ff"/>
<rect x="1665.70" width="25.86" height="24.93" fill="#0050ff"/>
<rect x="1691.06" width="25.86" height="24.93" fill="#0080ff"/>
<rect x="1716.42" width="25.86" height="24.93" fill="#009fff"/>
<rect x="1741.79" width="25.86" height="24.93" fill="#00bfff"/>
<rect x="1767.15" width="51.23" height="24.93" fill="#00cfff"/>
<rect x="1817.88" width="76.59" height="24.93" fill="#00bfff"/>
<rect x="1893.97" width="25.86" height="24.93" fill="#00dfff"/>
<rect x="1919.33" width="51.23" height="24.93" fill="#00efff"/>
<rect x="1970.06" width="25.86" height="24.93" fill="#00dfff"/>
<rect x="1995.42" width="25.86" height="24.93" fill="#00bfff"/>
<rect x="2020.78" width="25.86" height="24.93" fill="#008fff"/>
<rect x="2046.15" width="25.86" height="24.93" fill="#00afff"/>
<rect x="2071.51" width="25.86" height="24.93" fill="#00cfff"/>
<rect x="2096.87" width="25.86" height="24.93" fill="#00dfff"/>
<rect x="2122.24" width="25.86" height="24.93" fill="#00ffff"/>
</g>
<g transform="translate(0,109.93)">
<rect x="1386.70" width="25.86" height="24.93" fill="#0050ff"/>
<rect x="1412.06" width="25.86" height="24.93" fill="#00afff"/>
<rect x="1437.43" width="25.86" height="24.93" fill="#10ffef"/>
<rect x="1462.79" width="25.86" height="24.93" fill="#80ff80"/>
<rect x="1488.15" width="25.86" height="24.93" fill="#ffef00"/>
<rect x="1513.52" width="25.86" height="24.93" fill="#ff8000"/>
<rect x="1538.88" width="25.86" height="24.93" fill="#ff1000"/>
<rect x="1564.24" width="25.86" height="24.93" fill="#9f0000"/>
<rect x="1589.61" width="25.86" height="24.93" fill="#0000af"/>
<rect x="1614.97" width="25.86" height="24.93" fill="#0000df"/>
<rect x="1640.33" width="25.86" height="24.93" fill="#0010ff"/>
<rect x="1665.70" width="25.86" height="24.93" fill="#0050ff"/>
<rect x="1691.06" width="25.86" height="24.93" fill="#0070ff"/>
<rect x="1716.42" width="25.86" height="24.93" fill="#008fff"/>
<rect x="1741.79" width="25.86" height="24.93" fill="#009fff"/>
<rect x="1767.15" width="76.59" height="24.93" fill="#00bfff"/>
<rect x="1843.24" width="25.86" height="24.93" fill="#00afff"/>
<rect x="1868.60" width="25.86" height="24.93" fill="#00bfff"/>
<rect x="1893.97" width="51.23" height="24.93" fill="#00dfff"/>
<rect x="1944.69" width="25.86" height="24.93" fill="#00efff"/>
<rect x="1970.06" width="25.86" height="24.93" fill="#00dfff"/>
<rect x="1995.42" width="25.86" height="24.93" fill="#00bfff"/>
<rect x="2020.78" width="51.23" height="24.93" fill="#008fff"/>
<rect x="2071.51" width="25.86" height="24.93" fill="#00bfff"/>
<rect x="2096.87" width="25.86" height="24.93" fill="#00cfff"/>
<rect x="2122.24" width="25.86" height="24.93" fill="#00ffff"/>
</g>
<g transform="translate(0,134.37)">
<rect x="1386.70" width="25.86" height="24.93" fill="#0050ff"/>
<rect x="1412.06" width="25.86" height="24.93" fill="#009fff"/>
<rect x="1437.43" width="25.86" height="24.93" fill="#10ffef"/>
<rect x="1462.79" width="25.86" height="24.93" fill="#70ff8f"/>
<rect x="1488.15" width="25.86" height="24.93" fill="#efff10"/>
<rect x="1513.52" width="25.86" height="24.93" fill="#ff8f00"/>
<rect x="1538.88" width="25.86" height="24.93" fill="#ff3000"/>
<rect x="1564.24" width="25.86" height="24.93" fill="#af0000"/>
<rect x="1589.61" width="25.86" height="24.93" fill="#00009f"/>
<rect x="1614.97" width="25.86" height="24.93" fill="#0000cf"/>
<rect x="1640.33" width="25.86" height="24.93" fill="#0010ff"/>
<rect x="1665.70" width="25.86" height="24.93" fill="#0040ff"/>
<rect x="1691.06" width="25.86" height="24.93" fill="#0060ff"/>
<rect x="1716.42" width="25.86" height="24.93" fill="#0080ff"/>
<rect x="1741.79" width="25.86" height="24.93" fill="#008fff"/>
<rect x="1767.15" width="127.32" height="24.93" fill="#00afff"/>
<rect x="1893.97" width="25.86" height="24.93" fill="#00cfff"/>
<rect x="1919.33" width="51.23" height="24.93" fill="#00dfff"/>
<rect x="1970.06" width="25.86" height="24.93" fill="#00cfff"/>
<rect x="1995.42" width="25.86" height="24.93" fill="#00bfff"/>
<rect x="2020.78" width="25.86" height="24.93" fill="#009fff"/>
<rect x="2046.15" width="25.86" height="24.93" fill="#008fff"/>
<rect x="2071.51" width="25.86" height="24.93" fill="#00afff"/>
<rect x="2096.87" width="25.86" height="24.93" fill="#00bfff"/>
<rect x="2122.24" width="25.86" height="24.93" fill="#00efff"/>
</g>
<g transform="translate(0,158.80)">
<rect x="1386.70" width="25.86" height="24.93" fill="#0050ff"/>
<rect x="1412.06" width="25.86" height="24.93" fill="#009fff"/>
<rect x="1437.43" width="25.86" height="24.93" fill="#00ffff"/>
<rect x="1462.79" width="25.86" height="24.93" fill="#70ff8f"/>
<rect x="1488.15" width="25.86" height="24.93" fill="#efff10"/>
<rect x="1513.52" width="25.86" height="24.93" fill="#ffaf00"/>
<rect x="1538.88" width="25.86" height="24.93" fill="#ff4000"/>
<rect x="1564.24" width="25.86" height="24.93" fill="#cf0000"/>
<rect x="1589.61" width="25.86" height="24.93" fill="#800000"/>
<rect x="1614.97" width="25.86" height="24.93" fill="#0000bf"/>
<rect x="1640.33" width="25.86" height="24.93" fill="#0000ff"/>
<rect x="1665.70" width="25.86" height="24.93" fill="#0030ff"/>
<rect x="1691.06" width="25.86" height="24.93" fill="#0050ff"/>
<rect x="1716.42" width="25.86" height="24.93" fill="#0070ff"/>
<rect x="1741.79" width="25.86" height="24.93" fill="#008fff"/>
<rect x="1767.15" width="76.59" height="24.93" fill="#00afff"/>
<rect x="1843.24" width="25.86" height="24.93" fill="#009fff"/>
<rect x="1868.60" width="25.86" height="24.93" fill="#00afff"/>
<rect x="1893.97" width="25.86" height="24.93" fill="#00bfff"/>
<rect x="1919.33" width="76.59" height="24.93" fill="#00cfff"/>
<rect x="1995.42" width="25.86" height="24.93" fill="#00bfff"/>
<rect x="2020.78" width="25.86" height="24.93" fill="#009fff"/>
<rect x="2046.15" width="25.86" height="24.93" fill="#008fff"/>
<rect x="2071.51" width="25.86" height="24.93" fill="#009fff"/>
<rect x="2096.87" width="25.86" height="24.93" fill="#00bfff"/>
<rect x="2122.24" width="25.86" height="24.93" fill="#00dfff"/>
</g>
<g transform="translate(0,183.23)">
<rect x="1386.70" width="25.86" height="24.93" fill="#0040ff"/>
<rect x="1412.06" width="25.86" height="24.93" fill="#009fff"/>
<rect x="1437.43" width="25.86" height="24.93" fill="#00ffff"/>
<rect x="1462.79" width="25.86" height="24.93" fill="#60ff9f"/>
<rect x="1488.15" width="25.86" height="24.93" fill="#dfff20"/>
<rect x="1513.52" width="25.86" height="24.93" fill="#ffaf00"/>
<rect x="1538.88" width="25.86" height="24.93" fill="#ff5000"/>
<rect x="1564.24" width="25.86" height="24.93" fill="#ef0000"/>
<rect x="1589.61" width="25.86" height="24.93" fill="#8f0000"/>
<rect x="1614.97" width="25.86" height="24.93" fill="#0000af"/>
<rect x="1640.33" width="25.86" height="24.93" fill="#0000ef"/>
<rect x="1665.70" width="25.86" height="24.93" fill="#0020ff"/>
<rect x="1691.06" width="25.86" height="24.93" fill="#0040ff"/>
<rect x="1716.42" width="25.86" height="24.93" fill="#0060ff"/>
<rect x="1741.79" width="25.86" height="24.93" fill="#0070ff"/>
<rect x="1767.15" width="51.23" height="24.93" fill="#009fff"/>
<rect x="1817.88" width="25.86" height="24.93" fill="#00afff"/>
<rect x="1843.24" width="51.23" height="24.93" fill="#009fff"/>
<rect x="1893.97" width="101.95" height="24.93" fill="#00bfff"/>
<rect x="1995.42" width="25.86" height="24.93" fill="#00afff"/>
<rect x="2020.78" width="25.86" height="24.93" fill="#009fff"/>
<rect x="2046.15" width="25.86" height="24.93" fill="#0080ff"/>
<rect x="2071.51" width="25.86" height="24.93" fill="#008fff"/>
<rect x="2096.87" width="25.86" height="24.93" fill="#00afff"/>
<rect x="2122.24" width="25.86" height="24.93" fill="#00cfff"/>
</g>
<g transform="translate(0,207.67)">
<rect x="1386.70" width="25.86" height="24.93" fill="#0040ff"/>
<rect x="1412.06" width="25.86" height="24.93" fill="#008fff"/>
<rect x="1437.43" width="25.86" height="24.93" fill="#00efff"/>
<rect x="1462.79" width="25.86" height="24.93" fill="#50ffaf"/>
<rect x="1488.15" width="25.86" height="24.93" fill="#cfff30"/>
<rect x="1513.52" width="25.86" height="24.93" fill="#ffbf00"/>
<rect x="1538.88" width="25.86" height="24.93" fill="#ff6000"/>
<rect x="1564.24" width="25.86" height="24.93" fill="#ef0000"/>
<rect x="1589.61" width="25.86" height="24.93" fill="#af0000"/>
<rect x="1614.97" width="25.86" height="24.93" fill="#00009f"/>
<rect x="1640.33" width="25.86" height="24.93" fill="#0000cf"/>
<rect x="1665.70" width="25.86" height="24.93" fill="#0010ff"/>
<rect x="1691.06" width="25.86" height="24.93" fill="#0030ff"/>
<rect x="1716.42" width="25.86" height="24.93" fill="#0050ff"/>
<rect x="1741.79" width="25.86" height="24.93" fill="#0060ff"/>
<rect x="1767.15" width="25.86" height="24.93" fill="#008fff"/>
<rect x="1792.51" width="51.23" height="24.93" fill="#009fff"/>
<rect x="1843.24" width="51.23" height="24.93" fill="#008fff"/>
<rect x="1893.97" width="25.86" height="24.93" fill="#009fff"/>
<rect x="1919.33" width="101.95" height="24.93" fill="#00afff"/>
<rect x="2020.78" width="25.86" height="24.93" fill="#009fff"/>
<rect x="2046.15" width="25.86" height="24.93" fill="#0080ff"/>
<rect x="2071.51" width="25.86" height="24.93" fill="#008fff"/>
<rect x="2096.87" width="25.86" height="24.93" fill="#009fff"/>
<rect x="2122.24" width="25.86" height="24.93" fill="#00bfff"/>
</g>
<g transform="translate(0,232.10)">
<rect x="1386.70" width="25.86" height="24.93" fill="#0040ff"/>
<rect x="1412.06" width="25.86" height="24.93" fill="#008fff"/>
<rect x="1437.43" width="25.86" height="24.93" fill="#00efff"/>
<rect x="1462.79" width="25.86" height="24.93" fill="#40ffbf"/>
<rect x="1488.15" width="25.86" height="24.93" fill="#bfff40"/>
<rect x="1513.52" width="25.86" height="24.93" fill="#ffdf00"/>
<rect x="1538.88" width="25.86" height="24.93" fill="#ff7000"/>
<rect x="1564.24" width="25.86" height="24.93" fill="#ff1000"/>
<rect x="1589.61" width="25.86" height="24.93" fill="#bf0000"/>
<rect x="1614.97" width="25.86" height="24.93" fill="#800000"/>
<rect x="1640.33" width="25.86" height="24.93" fill="#0000bf"/>
<rect x="1665.70" width="25.86" height="24.93" fill="#0000ef"/>
<rect x="1691.06" width="25.86" height="24.93" fill="#0020ff"/>
<rect x="1716.42" width="25.86" height="24.93" fill="#0030ff"/>
<rect x="1741.79" width="25.86" height="24.93" fill="#0040ff"/>
<rect x="1767.15" width="25.86" height="24.93" fill="#0080ff"/>
<rect x="1792.51" width="51.23" height="24.93" fill="#008fff"/>
<rect x="1843.24" width="51.23" height="24.93" fill="#0080ff"/>
<rect x="1893.97" width="25.86" height="24.93" fill="#008fff"/>
<rect x="1919.33" width="101.95" height="24.93" fill="#009fff"/>
<rect x="2020.78" width="25.86" height="24.93" fill="#008fff"/>
<rect x="2046.15" width="51.23" height="24.93" fill="#0080ff"/>
<rect x="2096.87" width="25.86" height="24.93" fill="#009fff"/>
<rect x="2122.24" width="25.86" height="24.93" fill="#00afff"/>
</g>
<g transform="translate(0,256.53)">
<rect x="1386.70" width="25.86" height="24.93" fill="#0040ff"/>
<rect x="1412.06" width="25.86" height="24.93" fill="#008fff"/>
<rect x="1437.43" width="25.86" height="24.93" fill="#00dfff"/>
<rect x="1462.79" width="25.86" height="24.93" fill="#30ffcf"/>
<rect x="1488.15" width="25.86" height="24.93" fill="#afff50"/>
<rect x="1513.52" width="25.86" height="24.93" fill="#ffef00"/>
<rect x="1538.88" width="25.86" height="24.93" fill="#ff8f00"/>
<rect x="1564.24" width="25.86" height="24.93" fill="#ff4000"/>
<rect x="1589.61" width="25.86" height="24.93" fill="#df0000"/>
<rect x="1614.97" width="25.86" height="24.93" fill="#9f0000"/>
<rect x="1640.33" width="25.86" height="24.93" fill="#0000af"/>
<rect x="1665.70" width="25.86" height="24.93" fill="#0000cf"/>
<rect x="1691.06" width="25.86" height="24.93" fill="#0000ff"/>
<rect x="1716.42" width="25.86" height="24.93" fill="#0020ff"/>
<rect x="1741.79" width="25.86" height="24.93" fill="#0030ff"/>
<rect x="1767.15" width="25.86" height="24.93" fill="#0060ff"/>
<rect x="1792.51" width="25.86" height="24.93" fill="#0070ff"/>
<rect x="1817.88" width="25.86" height="24.93" fill="#0080ff"/>
<rect x="1843.24" width="51.23" height="24.93" fill="#0070ff"/>
<rect x="1893.97" width="25.86" height="24.93" fill="#0080ff"/>
<rect x="1919.33" width="101.95" height="24.93" fill="#008fff"/>
<rect x="2020.78" width="25.86" height="24.93" fill="#0080ff"/>
<rect x="2046.15" width="51.23" height="24.93" fill="#0070ff"/>
<rect x="2096.87" width="25.86" height="24.93" fill="#0080ff"/>
<rect x="2122.24" width="25.86" height="24.93" fill="#009fff"/>
</g>
<g transform="translate(0,280.97)">
<rect x="1386.70" width="25.86" height="24.93" fill="#0030ff"/>
<rect x="1412.06" width="25.86" height="24.93" fill="#0080ff"/>
<rect x="1437.43" width="25.86" height="24.93" fill="#00cfff"/>
<rect x="1462.79" width="25.86" height="24.93" fill="#20ffdf"/>
<rect x="1488.15" width="25.86" height="24.93" fill="#8fff70"/>
<rect x="1513.52" width="25.86" height="24.93" fill="#efff10"/>
<rect x="1538.88" width="25.86" height="24.93" fill="#ffaf00"/>
<rect x="1564.24" width="25.86" height="24.93" fill="#ff5000"/>
<rect x="1589.61" width="25.86" height="24.93" fill="#ff0000"/>
<rect x="1614.97" width="25.86" height="24.93" fill="#bf0000"/>
<rect x="1640.33" width="25.86" height="24.93" fill="#800000"/>
<rect x="1665.70" width="25.86" height="24.93" fill="#0000bf"/>
<rect x="1691.06" width="25.86" height="24.93" fill="#0000df"/>
<rect x="1716.42" width="25.86" height="24.93" fill="#0010ff"/>
<rect x="1741.79" width="25.86" height="24.93" fill="#0020ff"/>
<rect x="1767.15" width="25.86" height="24.93" fill="#0040ff"/>
<rect x="1792.51" width="25.86" height="24.93" fill="#0050ff"/>
<rect x="1817.88" width="25.86" height="24.93" fill="#0060ff"/>
<rect x="1843.24" width="51.23" height="24.93" fill="#0050ff"/>
<rect x="1893.97" width="127.32" height="24.93" fill="#0070ff"/>
<rect x="2020.78" width="76.59" height="24.93" fill="#0060ff"/>
<rect x="2096.87" width="25.86" height="24.93" fill="#0070ff"/>
<rect x="2122.24" width="25.86" height="24.93" fill="#008fff"/>
</g>
<g transform="translate(0,305.40)">
<rect x="1386.70" width="25.86" height="24.93" fill="#0030ff"/>
<rect x="1412.06" width="25.86" height="24.93" fill="#0080ff"/>
<rect x="1437.43" width="25.86" height="24.93" fill="#00bfff"/>
<rect x="1462.79" width="25.86" height="24.93" fill="#10ffef"/>
<rect x="1488.15" width="25.86" height="24.93" fill="#80ff80"/>
<rect x="1513.52" width="25.86" height="24.93" fill="#cfff30"/>
<rect x="1538.88" width="25.86" height="24.93" fill="#ffcf00"/>
<rect x="1564.24" width="25.86" height="24.93" fill="#ff7000"/>
<rect x="1589.61" width="25.86" height="24.93" fill="#ff2000"/>
<rect x="1614.97" width="25.86" height="24.93" fill="#df0000"/>
<rect x="1640.33" width="25.86" height="24.93" fill="#af0000"/>
<rect x="1665.70" width="25.86" height="24.93" fill="#00009f"/>
<rect x="1691.06" width="25.86" height="24.93" fill="#0000cf"/>
<rect x="1716.42" width="51.23" height="24.93" fill="#0000ef"/>
<rect x="1767.15" width="25.86" height="24.93" fill="#0020ff"/>
<rect x="1792.51" width="25.86" height="24.93" fill="#0030ff"/>
<rect x="1817.88" width="25.86" height="24.93" fill="#0050ff"/>
<rect x="1843.24" width="51.23" height="24.93" fill="#0040ff"/>
<rect x="1893.97" width="228.77" height="24.93" fill="#0050ff"/>
<rect x="2122.24" width="25.86" height="24.93" fill="#0080ff"/>
</g>
<g transform="translate(0,329.83)">
<rect x="1386.70" width="25.86" height="24.93" fill="#0030ff"/>
<rect x="1412.06" width="25.86" height="24.93" fill="#0070ff"/>
<rect x="1437.43" width="25.86" height="24.93" fill="#00afff"/>
<rect x="1462.79" width="25.86" height="24.93" fill="#00ffff"/>
<rect x="1488.15" width="25.86" height="24.93" fill="#60ff9f"/>
<rect x="1513.52" width="25.86" height="24.93" fill="#afff50"/>
<rect x="1538.88" width="25.86" height="24.93" fill="#ffef00"/>
<rect x="1564.24" width="25.86" height="24.93" fill="#ff9f00"/>
<rect x="1589.61" width="25.86" height="24.93" fill="#ff5000"/>
<rect x="1614.97" width="25.86" height="24.93" fill="#ff1000"/>
<rect x="1640.33" width="25.86" height="24.93" fill="#cf0000"/>
<rect x="1665.70" width="25.86" height="24.93" fill="#9f0000"/>
<rect x="1691.06" width="25.86" height="24.93" fill="#0000af"/>
<rect x="1716.42" width="25.86" height="24.93" fill="#0000bf"/>
<rect x="1741.79" width="25.86" height="24.93" fill="#0000cf"/>
<rect x="1767.15" width="25.86" height="24.93" fill="#0000ef"/>
<rect x="1792.51" width="25.86" height="24.93" fill="#0000ff"/>
<rect x="1817.88" width="254.13" height="24.93" fill="#0030ff"/>
<rect x="2071.51" width="51.23" height="24.93" fill="#0040ff"/>
<rect x="2122.24" width="25.86" height="24.93" fill="#0060ff"/>
</g>
<g transform="translate(0,354.27)">
<rect x="1386.70" width="25.86" height="24.93" fill="#0030ff"/>
<rect x="1412.06" width="25.86" height="24.93" fill="#0070ff"/>
<rect x="1437.43" width="25.86" height="24.93" fill="#009fff"/>
<rect x="1462.79" width="25.86" height="24.93" fill="#00efff"/>
<rect x="1488.15" width="25.86" height="24.93" fill="#40ffbf"/>
<rect x="1513.52" width="25.86" height="24.93" fill="#8fff70"/>
<rect x="1538.88" width="25.86" height="24.93" fill="#efff10"/>
<rect x="1564.24" width="25.86" height="24.93" fill="#ffcf00"/>
<rect x="1589.61" width="25.86" height="24.93" fill="#ff8000"/>
<rect x="1614.97" width="25.86" height="24.93" fill="#ff4000"/>
<rect x="1640.33" width="25.86" height="24.93" fill="#ef0000"/>
<rect x="1665.70" width="25.86" height="24.93" fill="#cf0000"/>
<rect x="1691.06" width="25.86" height="24.93" fill="#8f0000"/>
<rect x="1716.42" width="25.86" height="24.93" fill="#00009f"/>
<rect x="1741.79" width="25.86" height="24.93" fill="#0000af"/>
<rect x="1767.15" width="51.23" height="24.93" fill="#0000cf"/>
<rect x="1817.88" width="25.86" height="24.93" fill="#0000ff"/>
<rect x="1843.24" width="25.86" height="24.93" fill="#0010ff"/>
<rect x="1868.60" width="254.13" height="24.93" fill="#0020ff"/>
<rect x="2122.24" width="25.86" height="24.93" fill="#0030ff"/>
</g>
<g transform="translate(0,378.70)">
<rect x="1386.70" width="25.86" height="24.93" fill="#0020ff"/>
<rect x="1412.06" width="25.86" height="24.93" fill="#0060ff"/>
<rect x="1437.43" width="25.86" height="24.93" fill="#008fff"/>
<rect x="1462.79" width="25.86" height="24.93" fill="#00cfff"/>
<rect x="1488.15" width="25.86" height="24.93" fill="#20ffdf"/>
<rect x="1513.52" width="25.86" height="24.93" fill="#70ff8f"/>
<rect x="1538.88" width="25.86" height="24.93" fill="#bfff40"/>
<rect x="1564.24" width="25.86" height="24.93" fill="#ffef00"/>
<rect x="1589.61" width="25.86" height="24.93" fill="#ffaf00"/>
<rect x="1614.97" width="25.86" height="24.93" fill="#ff7000"/>
<rect x="1640.33" width="25.86" height="24.93" fill="#ff3000"/>
<rect x="1665.70" width="25.86" height="24.93" fill="#ef0000"/>
<rect x="1691.06" width="25.86" height="24.93" fill="#cf0000"/>
<rect x="1716.42" width="25.86" height="24.93" fill="#8f0000"/>
<rect x="1741.79" width="25.86" height="24.93" fill="#800000"/>
<rect x="1767.15" width="51.23" height="24.93" fill="#0000af"/>
<rect x="1817.88" width="25.86" height="24.93" fill="#0000df"/>
<rect x="1843.24" width="25.86" height="24.93" fill="#0000ef"/>
<rect x="1868.60" width="25.86" height="24.93" fill="#0000ff"/>
<rect x="1893.97" width="254.13" height="24.93" fill="#0010ff"/>
</g>
<g transform="translate(0,403.13)">
<rect x="1386.70" width="25.86" height="24.93" fill="#0020ff"/>
<rect x="1412.06" width="25.86" height="24.93" fill="#0060ff"/>
<rect x="1437.43" width="25.86" height="24.93" fill="#0080ff"/>
<rect x="1462.79" width="25.86" height="24.93" fill="#00afff"/>
<rect x="1488.15" width="25.86" height="24.93" fill="#00ffff"/>
<rect x="1513.52" width="25.86" height="24.93" fill="#50ffaf"/>
<rect x="1538.88" width="25.86" height="24.93" fill="#8fff70"/>
<rect x="1564.24" width="25.86" height="24.93" fill="#dfff20"/>
<rect x="1589.61" width="25.86" height="24.93" fill="#ffef00"/>
<rect x="1614.97" width="25.86" height="24.93" fill="#ffaf00"/>
<rect x="1640.33" width="25.86" height="24.93" fill="#ff7000"/>
<rect x="1665.70" width="25.86" height="24.93" fill="#ff3000"/>
<rect x="1691.06" width="25.86" height="24.93" fill="#ff1000"/>
<rect x="1716.42" width="25.86" height="24.93" fill="#cf0000"/>
<rect x="1741.79" width="51.23" height="24.93" fill="#af0000"/>
<rect x="1792.51" width="25.86" height="24.93" fill="#800000"/>
<rect x="1817.88" width="51.23" height="24.93" fill="#0000af"/>
<rect x="1868.60" width="25.86" height="24.93" fill="#0000bf"/>
<rect x="1893.97" width="51.23" height="24.93" fill="#0000df"/>
<rect x="1944.69" width="127.32" height="24.93" fill="#0000ef"/>
<rect x="2071.51" width="76.59" height="24.93" fill="#0000ff"/>
</g>
<g transform="translate(0,427.57)">
<rect x="1386.70" width="25.86" height="24.93" fill="#0010ff"/>
<rect x="1412.06" width="25.86" height="24.93" fill="#0050ff"/>
<rect x="1437.43" width="25.86" height="24.93" fill="#0070ff"/>
<rect x="1462.79" width="25.86" height="24.93" fill="#009fff"/>
<rect x="1488.15" width="25.86" height="24.93" fill="#00efff"/>
<rect x="1513.52" width="25.86" height="24.93" fill="#20ffdf"/>
<rect x="1538.88" width="25.86" height="24.93" fill="#70ff8f"/>
<rect x="1564.24" width="25.86" height="24.93" fill="#afff50"/>
<rect x="1589.61" width="25.86" height="24.93" fill="#efff10"/>
<rect x="1614.97" width="25.86" height="24.93" fill="#ffef00"/>
<rect x="1640.33" width="25.86" height="24.93" fill="#ffaf00"/>
<rect x="1665.70" width="25.86" height="24.93" fill="#ff7000"/>
<rect x="1691.06" width="25.86" height="24.93" fill="#ff5000"/>
<rect x="1716.42" width="25.86" height="24.93" fill="#ff2000"/>
<rect x="1741.79" width="25.86" height="24.93" fill="#ff1000"/>
<rect x="1767.15" width="25.86" height="24.93" fill="#ef0000"/>
<rect x="1792.51" width="25.86" height="24.93" fill="#cf0000"/>
<rect x="1817.88" width="25.86" height="24.93" fill="#af0000"/>
<rect x="1843.24" width="25.86" height="24.93" fill="#8f0000"/>
<rect x="1868.60" width="25.86" height="24.93" fill="#800000"/>
<rect x="1893.97" width="25.86" height="24.93" fill="#0000af"/>
<rect x="1919.33" width="51.23" height="24.93" fill="#0000bf"/>
<rect x="1970.06" width="178.04" height="24.93" fill="#0000cf"/>
</g>
<g transform="translate(0,452.00)">
<rect x="1386.70" width="25.86" height="24.93" fill="#0010ff"/>
<rect x="1412.06" width="25.86" height="24.93" fill="#0040ff"/>
<rect x="1437.43" width="25.86" height="24.93" fill="#0060ff"/>
<rect x="1462.79" width="25.86" height="24.93" fill="#008fff"/>
<rect x="1488.15" width="25.86" height="24.93" fill="#00cfff"/>
<rect x="1513.52" width="25.86" height="24.93" fill="#00ffff"/>
<rect x="1538.88" width="25.86" height="24.93" fill="#20ffdf"/>
<rect x="1564.24" width="25.86" height="24.93" fill="#80ff80"/>
<rect x="1589.61" width="25.86" height="24.93" fill="#afff50"/>
<rect x="1614.97" width="25.86" height="24.93" fill="#efff10"/>
<rect x="1640.33" width="25.86" height="24.93" fill="#ffef00"/>
<rect x="1665.70" width="25.86" height="24.93" fill="#ffaf00"/>
<rect x="1691.06" width="25.86" height="24.93" fill="#ff8f00"/>
<rect x="1716.42" width="25.86" height="24.93" fill="#ff7000"/>
<rect x="1741.79" width="25.86" height="24.93" fill="#ff5000"/>
<rect x="1767.15" width="25.86" height="24.93" fill="#ff4000"/>
<rect x="1792.51" width="25.86" height="24.93" fill="#ff2000"/>
<rect x="1817.88" width="25.86" height="24.93" fill="#ef0000"/>
<rect x="1843.24" width="25.86" height="24.93" fill="#cf0000"/>
<rect x="1868.60" width="25.86" height="24.93" fill="#af0000"/>
<rect x="1893.97" width="25.86" height="24.93" fill="#8f0000"/>
<rect x="1919.33" width="152.68" height="24.93" fill="#800000"/>
<rect x="2071.51" width="76.59" height="24.93" fill="#00009f"/>
</g>
<g transform="translate(0,476.43)">
<rect x="1386.70" width="25.86" height="24.93" fill="#0000ff"/>
<rect x="1412.06" width="25.86" height="24.93" fill="#0020ff"/>
<rect x="1437.43" width="25.86" height="24.93" fill="#0060ff"/>
<rect x="1462.79" width="25.86" height="24.93" fill="#008fff"/>
<rect x="1488.15" width="25.86" height="24.93" fill="#00afff"/>
<rect x="1513.52" width="25.86" height="24.93" fill="#00dfff"/>
<rect x="1538.88" width="25.86" height="24.93" fill="#00ffff"/>
<rect x="1564.24" width="25.86" height="24.93" fill="#30ffcf"/>
<rect x="1589.61" width="25.86" height="24.93" fill="#70ff8f"/>
<rect x="1614.97" width="25.86" height="24.93" fill="#afff50"/>
<rect x="1640.33" width="25.86" height="24.93" fill="#cfff30"/>
<rect x="1665.70" width="25.86" height="24.93" fill="#efff10"/>
<rect x="1691.06" width="25.86" height="24.93" fill="#ffdf00"/>
<rect x="1716.42" width="25.86" height="24.93" fill="#ffbf00"/>
<rect x="1741.79" width="25.86" height="24.93" fill="#ff9f00"/>
<rect x="1767.15" width="25.86" height="24.93" fill="#ff8f00"/>
<rect x="1792.51" width="25.86" height="24.93" fill="#ff7000"/>
<rect x="1817.88" width="25.86" height="24.93" fill="#ff5000"/>
<rect x="1843.24" width="25.86" height="24.93" fill="#ff3000"/>
<rect x="1868.60" width="25.86" height="24.93" fill="#ff1000"/>
<rect x="1893.97" width="51.23" height="24.93" fill="#ef0000"/>
<rect x="1944.69" width="25.86" height="24.93" fill="#df0000"/>
<rect x="1970.06" width="25.86" height="24.93" fill="#cf0000"/>
<rect x="1995.42" width="51.23" height="24.93" fill="#bf0000"/>
<rect x="2046.15" width="101.95" height="24.93" fill="#af0000"/>
</g>
<g transform="translate(0,500.87)">
<rect x="1386.70" width="25.86" height="24.93" fill="#0000ff"/>
<rect x="1412.06" width="25.86" height="24.93" fill="#0020ff"/>
<rect x="1437.43" width="25.86" height="24.93" fill="#0050ff"/>
<rect x="1462.79" width="25.86" height="24.93" fill="#0070ff"/>
<rect x="1488.15" width="25.86" height="24.93" fill="#008fff"/>
<rect x="1513.52" width="25.86" height="24.93" fill="#00afff"/>
<rect x="1538.88" width="25.86" height="24.93" fill="#00cfff"/>
<rect x="1564.24" width="25.86" height="24.93" fill="#00ffff"/>
<rect x="1589.61" width="25.86" height="24.93" fill="#10ffef"/>
<rect x="1614.97" width="25.86" height="24.93" fill="#50ffaf"/>
<rect x="1640.33" width="25.86" height="24.93" fill="#8fff70"/>
<rect x="1665.70" width="25.86" height="24.93" fill="#afff50"/>
<rect x="1691.06" width="25.86" height="24.93" fill="#cfff30"/>
<rect x="1716.42" width="25.86" height="24.93" fill="#efff10"/>
<rect x="1741.79" width="51.23" height="24.93" fill="#ffef00"/>
<rect x="1792.51" width="25.86" height="24.93" fill="#ffcf00"/>
<rect x="1817.88" width="25.86" height="24.93" fill="#ffaf00"/>
<rect x="1843.24" width="25.86" height="24.93" fill="#ff8000"/>
<rect x="1868.60" width="25.86" height="24.93" fill="#ff7000"/>
<rect x="1893.97" width="25.86" height="24.93" fill="#ff5000"/>
<rect x="1919.33" width="25.86" height="24.93" fill="#ff4000"/>
<rect x="1944.69" width="51.23" height="24.93" fill="#ff3000"/>
<rect x="1995.42" width="25.86" height="24.93" fill="#ff2000"/>
<rect x="2020.78" width="127.32" height="24.93" fill="#ff1000"/>
</g>
<g transform="translate(0,525.30)">
<rect x="1386.70" width="25.86" height="24.93" fill="#0000ff"/>
<rect x="1412.06" width="25.86" height="24.93" fill="#0010ff"/>
<rect x="1437.43" width="25.86" height="24.93" fill="#0030ff"/>
<rect x="1462.79" width="25.86" height="24.93" fill="#0050ff"/>
<rect x="1488.15" width="25.86" height="24.93" fill="#0070ff"/>
<rect x="1513.52" width="25.86" height="24.93" fill="#008fff"/>
<rect x="1538.88" width="25.86" height="24.93" fill="#00afff"/>
<rect x="1564.24" width="25.86" height="24.93" fill="#00cfff"/>
<rect x="1589.61" width="25.86" height="24.93" fill="#00efff"/>
<rect x="1614.97" width="25.86" height="24.93" fill="#10ffef"/>
<rect x="1640.33" width="25.86" height="24.93" fill="#20ffdf"/>
<rect x="1665.70" width="25.86" height="24.93" fill="#50ffaf"/>
<rect x="1691.06" width="25.86" height="24.93" fill="#70ff8f"/>
<rect x="1716.42" width="25.86" height="24.93" fill="#8fff70"/>
<rect x="1741.79" width="25.86" height="24.93" fill="#afff50"/>
<rect x="1767.15" width="25.86" height="24.93" fill="#bfff40"/>
<rect x="1792.51" width="25.86" height="24.93" fill="#cfff30"/>
<rect x="1817.88" width="25.86" height="24.93" fill="#efff10"/>
<rect x="1843.24" width="51.23" height="24.93" fill="#ffef00"/>
<rect x="1893.97" width="25.86" height="24.93" fill="#ffcf00"/>
<rect x="1919.33" width="25.86" height="24.93" fill="#ffbf00"/>
<rect x="1944.69" width="51.23" height="24.93" fill="#ffaf00"/>
<rect x="1995.42" width="25.86" height="24.93" fill="#ff9f00"/>
<rect x="2020.78" width="25.86" height="24.93" fill="#ff8f00"/>
<rect x="2046.15" width="101.95" height="24.93" fill="#ff7000"/>
</g>
<g transform="translate(0,549.73)">
<rect x="1386.70" width="51.23" height="24.93" fill="#0000ff"/>
<rect x="1437.43" width="25.86" height="24.93" fill="#0020ff"/>
<rect x="1462.79" width="25.86" height="24.93" fill="#0030ff"/>
<rect x="1488.15" width="25.86" height="24.93" fill="#0050ff"/>
<rect x="1513.52" width="25.86" height="24.93" fill="#0070ff"/>
<rect x="1538.88" width="25.86" height="24.93" fill="#0080ff"/>
<rect x="1564.24" width="25.86" height="24.93" fill="#008fff"/>
<rect x="1589.61" width="25.86" height="24.93" fill="#00afff"/>
<rect x="1614.97" width="25.86" height="24.93" fill="#00cfff"/>
<rect x="1640.33" width="25.86" height="24.93" fill="#00dfff"/>
<rect x="1665.70" width="25.86" height="24.93" fill="#00efff"/>
<rect x="1691.06" width="25.86" height="24.93" fill="#10ffef"/>
<rect x="1716.42" width="25.86" height="24.93" fill="#30ffcf"/>
<rect x="1741.79" width="51.23" height="24.93" fill="#50ffaf"/>
<rect x="1792.51" width="25.86" height="24.93" fill="#70ff8f"/>
<rect x="1817.88" width="25.86" height="24.93" fill="#8fff70"/>
<rect x="1843.24" width="25.86" height="24.93" fill="#9fff60"/>
<rect x="1868.60" width="25.86" height="24.93" fill="#afff50"/>
<rect x="1893.97" width="25.86" height="24.93" fill="#bfff40"/>
<rect x="1919.33" width="76.59" height="24.93" fill="#cfff30"/>
<rect x="1995.42" width="25.86" height="24.93" fill="#dfff20"/>
<rect x="2020.78" width="25.86" height="24.93" fill="#efff10"/>
<rect x="2046.15" width="25.86" height="24.93" fill="#ffff00"/>
<rect x="2071.51" width="25.86" height="24.93" fill="#ffef00"/>
<rect x="2096.87" width="51.23" height="24.93" fill="#ffcf00"/>
</g>
<g transform="translate(0,574.17)">
<rect x="1386.70" width="51.23" height="24.93" fill="#0000ff"/>
<rect x="1437.43" width="25.86" height="24.93" fill="#0010ff"/>
<rect x="1462.79" width="25.86" height="24.93" fill="#0020ff"/>
<rect x="1488.15" width="25.86" height="24.93" fill="#0030ff"/>
<rect x="1513.52" width="25.86" height="24.93" fill="#0050ff"/>
<rect x="1538.88" width="25.86" height="24.93" fill="#0060ff"/>
<rect x="1564.24" width="25.86" height="24.93" fill="#0080ff"/>
<rect x="1589.61" width="25.86" height="24.93" fill="#008fff"/>
<rect x="1614.97" width="25.86" height="24.93" fill="#009fff"/>
<rect x="1640.33" width="25.86" height="24.93" fill="#00afff"/>
<rect x="1665.70" width="25.86" height="24.93" fill="#00bfff"/>
<rect x="1691.06" width="51.23" height="24.93" fill="#00cfff"/>
<rect x="1741.79" width="51.23" height="24.93" fill="#00dfff"/>
<rect x="1792.51" width="25.86" height="24.93" fill="#00efff"/>
<rect x="1817.88" width="25.86" height="24.93" fill="#10ffef"/>
<rect x="1843.24" width="25.86" height="24.93" fill="#20ffdf"/>
<rect x="1868.60" width="25.86" height="24.93" fill="#30ffcf"/>
<rect x="1893.97" width="51.23" height="24.93" fill="#40ffbf"/>
<rect x="1944.69" width="76.59" height="24.93" fill="#50ffaf"/>
<rect x="2020.78" width="25.86" height="24.93" fill="#60ff9f"/>
<rect x="2046.15" width="101.95" height="24.93" fill="#70ff8f"/>
</g>
<g transform="translate(0,598.60)">
<rect x="1386.70" width="101.95" height="24.93" fill="#0000ff"/>
<rect x="1488.15" width="51.23" height="24.93" fill="#0020ff"/>
<rect x="1538.88" width="25.86" height="24.93" fill="#0050ff"/>
<rect x="1564.24" width="25.86" height="24.93" fill="#0060ff"/>
<rect x="1589.61" width="51.23" height="24.93" fill="#0070ff"/>
<rect x="1640.33" width="25.86" height="24.93" fill="#0080ff"/>
<rect x="1665.70" width="51.23" height="24.93" fill="#008fff"/>
<rect x="1716.42" width="25.86" height="24.93" fill="#009fff"/>
<rect x="1741.79" width="25.86" height="24.93" fill="#00afff"/>
<rect x="1767.15" width="76.59" height="24.93" fill="#00bfff"/>
<rect x="1843.24" width="51.23" height="24.93" fill="#00cfff"/>
<rect x="1893.97" width="76.59" height="24.93" fill="#00dfff"/>
<rect x="1970.06" width="178.04" height="24.93" fill="#00ffff"/>
</g>
<g transform="translate(0,623.03)">
<rect x="1386.70" width="101.95" height="24.93" fill="#0000ff"/>
<rect x="1488.15" width="51.23" height="24.93" fill="#0010ff"/>
<rect x="1538.88" width="25.86" height="24.93" fill="#0020ff"/>
<rect x="1564.24" width="25.86" height="24.93" fill="#0030ff"/>
<rect x="1589.61" width="51.23" height="24.93" fill="#0050ff"/>
<rect x="1640.33" width="51.23" height="24.93" fill="#0060ff"/>
<rect x="1691.06" width="51.23" height="24.93" fill="#0070ff"/>
<rect x="1741.79" width="76.59" height="24.93" fill="#0080ff"/>
<rect x="1817.88" width="76.59" height="24.93" fill="#008fff"/>
<rect x="1893.97" width="127.32" height="24.93" fill="#00afff"/>
<rect x="2020.78" width="127.32" height="24.93" fill="#00cfff"/>
</g>
<g transform="translate(0,647.47)">
<rect x="1386.70" width="152.68" height="24.93" fill="#0000ff"/>
<rect x="1538.88" width="51.23" height="24.93" fill="#0010ff"/>
<rect x="1589.61" width="76.59" height="24.93" fill="#0020ff"/>
<rect x="1665.70" width="25.86" height="24.93" fill="#0030ff"/>
<rect x="1691.06" width="51.23" height="24.93" fill="#0050ff"/>
<rect x="1741.79" width="25.86" height="24.93" fill="#0060ff"/>
<rect x="1767.15" width="178.04" height="24.93" fill="#0070ff"/>
<rect x="1944.69" width="203.41" height="24.93" fill="#008fff"/>
</g>
<g transform="translate(0,671.90)">
<rect x="1386.70" width="203.41" height="24.93" fill="#0000ff"/>
<rect x="1589.61" width="178.04" height="24.93" fill="#0020ff"/>
<rect x="1767.15" width="203.41" height="24.93" fill="#0050ff"/>
<rect x="1970.06" width="178.04" height="24.93" fill="#0060ff"/>
</g>
<g transform="translate(0,696.33)">
<rect x="1386.70" width="228.77" height="24.93" fill="#0000ff"/>
<rect x="1614.97" width="152.68" height="24.93" fill="#0010ff"/>
<rect x="1767.15" width="380.95" height="24.93" fill="#0020ff"/>
</g>
<g transform="translate(0,720.77)">
<rect x="1386.70" width="609.22" height="24.93" fill="#0000ff"/>
<rect x="1995.42" width="152.68" height="24.93" fill="#0010ff"/>
</g>
<g transform="translate(0,745.20)">
<rect x="1386.70" width="380.95" height="24.93" fill="#0000ff"/>
<rect x="1767.15" width="380.95" height="24.93" fill="#0010ff"/>
</g>
<g transform="translate(0,769.63)">
<rect x="1386.70" width="761.40" height="24.93" fill="#0000ff"/>
</g>
<g transform="translate(0,794.07)">
<rect x="1386.70" width="761.40" height="24.93" fill="#0000ff"/>
</g>
</g>
<path d="M1386.70 85.50V818.50M1386.70 85.50H2147.60M1412.06 85.50V818.50M1386.70 109.93H2147.60M1437.43 85.50V818.50M1386.70 134.37H2147.60M1462.79 85.50V818.50M1386.70 158.80H2147.60M1488.15 85.50V818.50M1386.70 183.23H2147.60M1513.52 85.50V818.50M1386.70 207.67H2147.60M1538.88 85.50V818.50M1386.70 232.10H2147.60M1564.24 85.50V818.50M1386.70 256.53H2147.60M1589.61 85.50V818.50M1386.70 280.97H2147.60M1614.97 85.50V818.50M1386.70 305.40H2147.60M1640.33 85.50V818.50M1386.70 329.83H2147.60M1665.70 85.50V818.50M1386.70 354.27H2147.60M1691.06 85.50V818.50M1386.70 378.70H2147.60M1716.42 85.50V818.50M1386.70 403.13H2147.60M1741.79 85.50V818.50M1386.70 427.57H2147.60M1767.15 85.50V818.50M1386.70 452.00H2147.60M1792.51 85.50V818.50M1386.70 476.43H2147.60M1817.88 85.50V818.50M1386.70 500.87H2147.60M1843.24 85.50V818.50M1386.70 525.30H2147.60M1868.60 85.50V818.50M1386.70 549.73H2147.60M1893.97 85.50V818.50M1386.70 574.17H2147.60M1919.33 85.50V818.50M1386.70 598.60H2147.60M1944.69 85.50V818.50M1386.70 623.03H2147.60M1970.06 85.50V818.50M1386.70 647.47H2147.60M1995.42 85.50V818.50M1386.70 671.90H2147.60M2020.78 85.50V818.50M1386.70 696.33H2147.60M2046.15 85.50V818.50M1386.70 720.77H2147.60M2071.51 85.50V818.50M1386.70 745.20H2147.60M2096.87 85.50V818.50M1386.70 769.63H2147.60M2122.24 85.50V818.50M1386.70 794.07H2147.60M2147.60 85.50V818.50M1386.70 818.50H2147.60" stroke="#000" stroke-width="1.70" fill="none" stroke-linecap="square"/>
<text transform="translate(1589.61,899.60) scale(1,1.025)" font-size="65.70" text-anchor="middle" fill="#262626" font-family="Liberation Sans, Arial, sans-serif" >0.1</text>
<text transform="translate(1367.60,646.63) scale(1,1.025)" font-size="65.70" text-anchor="end" fill="#262626" font-family="Liberation Sans, Arial, sans-serif" >0.1</text>
<path d="M1589.61 818.50v-7M1386.70 623.03h7" stroke="#262626" stroke-width="1.2"/>
<text transform="translate(1843.24,899.60) scale(1,1.025)" font-size="65.70" text-anchor="middle" fill="#262626" font-family="Liberation Sans, Arial, sans-serif" >0.2</text>
<text transform="translate(1367.60,402.30) scale(1,1.025)" font-size="65.70" text-anchor="end" fill="#262626" font-family="Liberation Sans, Arial, sans-serif" >0.2</text>
<path d="M1843.24 818.50v-7M1386.70 378.70h7" stroke="#262626" stroke-width="1.2"/>
<text transform="translate(2096.87,899.60) scale(1,1.025)" font-size="65.70" text-anchor="middle" fill="#262626" font-family="Liberation Sans, Arial, sans-serif" >0.3</text>
<text transform="translate(1367.60,157.97) scale(1,1.025)" font-size="65.70" text-anchor="end" fill="#262626" font-family="Liberation Sans, Arial, sans-serif" >0.3</text>
<path d="M2096.87 818.50v-7M1386.70 134.37h7" stroke="#262626" stroke-width="1.2"/>
<text transform="translate(1768.15,982.40) scale(1,1.030)" font-size="72.30" text-anchor="middle" fill="#262626" font-family="Liberation Sans, Arial, sans-serif" >L(μm)</text>
<text transform="translate(1253.50,451.00) rotate(-90) scale(1,1.03)" font-size="72.30" text-anchor="middle" fill="#262626" font-family="Liberation Sans, Arial, sans-serif">W(μm)</text>
<text transform="translate(1767.15,69.50) scale(1,1.035)" font-size="73.50" text-anchor="middle" fill="#000" font-family="Liberation Sans, Arial, sans-serif" >Φy</text>
<text x="1189.90" y="102.30" font-size="68.00" text-anchor="start" fill="#000" font-family="Liberation Serif, Times New Roman, serif" >(b)</text>
<g shape-rendering="crispEdges">
<rect x="2178.40" y="803.81" width="66.20" height="11.99" fill="#00008f"/>
<rect x="2178.40" y="792.43" width="66.20" height="11.99" fill="#00009f"/>
<rect x="2178.40" y="781.04" width="66.20" height="11.99" fill="#0000af"/>
<rect x="2178.40" y="769.66" width="66.20" height="11.99" fill="#0000bf"/>
<rect x="2178.40" y="758.27" width="66.20" height="11.99" fill="#0000cf"/>
<rect x="2178.40" y="746.88" width="66.20" height="11.99" fill="#0000df"/>
<rect x="2178.40" y="735.50" width="66.20" height="11.99" fill="#0000ef"/>
<rect x="2178.40" y="724.11" width="66.20" height="11.99" fill="#0000ff"/>
<rect x="2178.40" y="712.73" width="66.20" height="11.99" fill="#0010ff"/>
<rect x="2178.40" y="701.34" width="66.20" height="11.99" fill="#0020ff"/>
<rect x="2178.40" y="689.95" width="66.20" height="11.99" fill="#0030ff"/>
<rect x="2178.40" y="678.57" width="66.20" height="11.99" fill="#0040ff"/>
<rect x="2178.40" y="667.18" width="66.20" height="11.99" fill="#0050ff"/>
<rect x="2178.40" y="655.80" width="66.20" height="11.99" fill="#0060ff"/>
<rect x="2178.40" y="644.41" width="66.20" height="11.99" fill="#0070ff"/>
<rect x="2178.40" y="633.03" width="66.20" height="11.99" fill="#0080ff"/>
<rect x="2178.40" y="621.64" width="66.20" height="11.99" fill="#008fff"/>
<rect x="2178.40" y="610.25" width="66.20" height="11.99" fill="#009fff"/>
<rect x="2178.40" y="598.87" width="66.20" height="11.99" fill="#00afff"/>
<rect x="2178.40" y="587.48" width="66.20" height="11.99" fill="#00bfff"/>
<rect x="2178.40" y="576.10" width="66.20" height="11.99" fill="#00cfff"/>
<rect x="2178.40" y="564.71" width="66.20" height="11.99" fill="#00dfff"/>
<rect x="2178.40" y="553.32" width="66.20" height="11.99" fill="#00efff"/>
<rect x="2178.40" y="541.94" width="66.20" height="11.99" fill="#00ffff"/>
<rect x="2178.40" y="530.55" width="66.20" height="11.99" fill="#10ffef"/>
<rect x="2178.40" y="519.17" width="66.20" height="11.99" fill="#20ffdf"/>
<rect x="2178.40" y="507.78" width="66.20" height="11.99" fill="#30ffcf"/>
<rect x="2178.40" y="496.39" width="66.20" height="11.99" fill="#40ffbf"/>
<rect x="2178.40" y="485.01" width="66.20" height="11.99" fill="#50ffaf"/>
<rect x="2178.40" y="473.62" width="66.20" height="11.99" fill="#60ff9f"/>
<rect x="2178.40" y="462.24" width="66.20" height="11.99" fill="#70ff8f"/>
<rect x="2178.40" y="450.85" width="66.20" height="11.99" fill="#80ff80"/>
<rect x="2178.40" y="439.46" width="66.20" height="11.99" fill="#8fff70"/>
<rect x="2178.40" y="428.08" width="66.20" height="11.99" fill="#9fff60"/>
<rect x="2178.40" y="416.69" width="66.20" height="11.99" fill="#afff50"/>
<rect x="2178.40" y="405.31" width="66.20" height="11.99" fill="#bfff40"/>
<rect x="2178.40" y="393.92" width="66.20" height="11.99" fill="#cfff30"/>
<rect x="2178.40" y="382.53" width="66.20" height="11.99" fill="#dfff20"/>
<rect x="2178.40" y="371.15" width="66.20" height="11.99" fill="#efff10"/>
<rect x="2178.40" y="359.76" width="66.20" height="11.99" fill="#ffff00"/>
<rect x="2178.40" y="348.38" width="66.20" height="11.99" fill="#ffef00"/>
<rect x="2178.40" y="336.99" width="66.20" height="11.99" fill="#ffdf00"/>
<rect x="2178.40" y="325.60" width="66.20" height="11.99" fill="#ffcf00"/>
<rect x="2178.40" y="314.22" width="66.20" height="11.99" fill="#ffbf00"/>
<rect x="2178.40" y="302.83" width="66.20" height="11.99" fill="#ffaf00"/>
<rect x="2178.40" y="291.45" width="66.20" height="11.99" fill="#ff9f00"/>
<rect x="2178.40" y="280.06" width="66.20" height="11.99" fill="#ff8f00"/>
<rect x="2178.40" y="268.67" width="66.20" height="11.99" fill="#ff8000"/>
<rect x="2178.40" y="257.29" width="66.20" height="11.99" fill="#ff7000"/>
<rect x="2178.40" y="245.90" width="66.20" height="11.99" fill="#ff6000"/>
<rect x="2178.40" y="234.52" width="66.20" height="11.99" fill="#ff5000"/>
<rect x="2178.40" y="223.13" width="66.20" height="11.99" fill="#ff4000"/>
<rect x="2178.40" y="211.75" width="66.20" height="11.99" fill="#ff3000"/>
<rect x="2178.40" y="200.36" width="66.20" height="11.99" fill="#ff2000"/>
<rect x="2178.40" y="188.97" width="66.20" height="11.99" fill="#ff1000"/>
<rect x="2178.40" y="177.59" width="66.20" height="11.99" fill="#ff0000"/>
<rect x="2178.40" y="166.20" width="66.20" height="11.99" fill="#ef0000"/>
<rect x="2178.40" y="154.82" width="66.20" height="11.99" fill="#df0000"/>
<rect x="2178.40" y="143.43" width="66.20" height="11.99" fill="#cf0000"/>
<rect x="2178.40" y="132.04" width="66.20" height="11.99" fill="#bf0000"/>
<rect x="2178.40" y="120.66" width="66.20" height="11.99" fill="#af0000"/>
<rect x="2178.40" y="109.27" width="66.20" height="11.99" fill="#9f0000"/>
<rect x="2178.40" y="97.89" width="66.20" height="11.99" fill="#8f0000"/>
<rect x="2178.40" y="86.50" width="66.20" height="11.99" fill="#800000"/>
</g>
<rect x="2178.40" y="86.50" width="66.20" height="728.70" fill="none" stroke="#262626" stroke-width="1.2"/>
<path d="M2244.6 103.26h-7" stroke="#262626" stroke-width="1.2"/>
<path d="M2244.6 219.33h-7" stroke="#262626" stroke-width="1.2"/>
<path d="M2244.6 335.40h-7" stroke="#262626" stroke-width="1.2"/>
<path d="M2244.6 451.47h-7" stroke="#262626" stroke-width="1.2"/>
<path d="M2244.6 567.54h-7" stroke="#262626" stroke-width="1.2"/>
<path d="M2244.6 683.61h-7" stroke="#262626" stroke-width="1.2"/>
<path d="M2244.6 799.68h-7" stroke="#262626" stroke-width="1.2"/>
<text x="2261.80" y="123.78" font-size="59.30" text-anchor="start" fill="#262626" font-family="Liberation Sans, Arial, sans-serif" >3</text>
<text x="2261.80" y="239.85" font-size="59.30" text-anchor="start" fill="#262626" font-family="Liberation Sans, Arial, sans-serif" >2</text>
<text x="2261.80" y="355.92" font-size="59.30" text-anchor="start" fill="#262626" font-family="Liberation Sans, Arial, sans-serif" >1</text>
<text x="2261.80" y="471.99" font-size="59.30" text-anchor="start" fill="#262626" font-family="Liberation Sans, Arial, sans-serif" >0</text>
<text x="2261.80" y="588.06" font-size="59.30" text-anchor="start" fill="#262626" font-family="Liberation Sans, Arial, sans-serif" >-1</text>
<text x="2261.80" y="704.13" font-size="59.30" text-anchor="start" fill="#262626" font-family="Liberation Sans, Arial, sans-serif" >-2</text>
<text x="2261.80" y="820.20" font-size="59.30" text-anchor="start" fill="#262626" font-family="Liberation Sans, Arial, sans-serif" >-3</text>
<g shape-rendering="crispEdges">
<g transform="translate(0,1109.30)">
<rect x="219.00" width="227.30" height="24.56" fill="#9f0000"/>
<rect x="445.80" width="25.70" height="24.56" fill="#bf0000"/>
<rect x="471.00" width="25.70" height="24.56" fill="#ff6000"/>
<rect x="496.20" width="25.70" height="24.56" fill="#ffcf00"/>
<rect x="521.40" width="25.70" height="24.56" fill="#ff3000"/>
<rect x="546.60" width="25.70" height="24.56" fill="#af0000"/>
<rect x="571.80" width="25.70" height="24.56" fill="#df0000"/>
<rect x="597.00" width="25.70" height="24.56" fill="#ff3000"/>
<rect x="622.20" width="25.70" height="24.56" fill="#ff6000"/>
<rect x="647.40" width="25.70" height="24.56" fill="#ff7000"/>
<rect x="672.60" width="25.70" height="24.56" fill="#ff6000"/>
<rect x="697.80" width="25.70" height="24.56" fill="#ff8000"/>
<rect x="723.00" width="25.70" height="24.56" fill="#ffbf00"/>
<rect x="748.20" width="25.70" height="24.56" fill="#efff10"/>
<rect x="773.40" width="25.70" height="24.56" fill="#60ff9f"/>
<rect x="798.60" width="25.70" height="24.56" fill="#009fff"/>
<rect x="823.80" width="25.70" height="24.56" fill="#0050ff"/>
<rect x="849.00" width="25.70" height="24.56" fill="#0060ff"/>
<rect x="874.20" width="25.70" height="24.56" fill="#0070ff"/>
<rect x="899.40" width="25.70" height="24.56" fill="#0030ff"/>
<rect x="924.60" width="25.70" height="24.56" fill="#0000df"/>
<rect x="949.80" width="25.70" height="24.56" fill="#0000ff"/>
</g>
<g transform="translate(0,1133.36)">
<rect x="219.00" width="227.30" height="24.56" fill="#9f0000"/>
<rect x="445.80" width="25.70" height="24.56" fill="#bf0000"/>
<rect x="471.00" width="25.70" height="24.56" fill="#ff6000"/>
<rect x="496.20" width="25.70" height="24.56" fill="#ffef00"/>
<rect x="521.40" width="25.70" height="24.56" fill="#ff3000"/>
<rect x="546.60" width="25.70" height="24.56" fill="#af0000"/>
<rect x="571.80" width="25.70" height="24.56" fill="#cf0000"/>
<rect x="597.00" width="25.70" height="24.56" fill="#ff1000"/>
<rect x="622.20" width="25.70" height="24.56" fill="#ff7000"/>
<rect x="647.40" width="50.90" height="24.56" fill="#ff9f00"/>
<rect x="697.80" width="25.70" height="24.56" fill="#ff8f00"/>
<rect x="723.00" width="25.70" height="24.56" fill="#ff9f00"/>
<rect x="748.20" width="25.70" height="24.56" fill="#ffcf00"/>
<rect x="773.40" width="25.70" height="24.56" fill="#efff10"/>
<rect x="798.60" width="25.70" height="24.56" fill="#60ff9f"/>
<rect x="823.80" width="25.70" height="24.56" fill="#00efff"/>
<rect x="849.00" width="25.70" height="24.56" fill="#0060ff"/>
<rect x="874.20" width="101.30" height="24.56" fill="#0030ff"/>
</g>
<g transform="translate(0,1157.43)">
<rect x="219.00" width="227.30" height="24.56" fill="#9f0000"/>
<rect x="445.80" width="25.70" height="24.56" fill="#bf0000"/>
<rect x="471.00" width="25.70" height="24.56" fill="#ff5000"/>
<rect x="496.20" width="25.70" height="24.56" fill="#ffaf00"/>
<rect x="521.40" width="25.70" height="24.56" fill="#ff4000"/>
<rect x="546.60" width="25.70" height="24.56" fill="#af0000"/>
<rect x="571.80" width="25.70" height="24.56" fill="#cf0000"/>
<rect x="597.00" width="25.70" height="24.56" fill="#ff1000"/>
<rect x="622.20" width="25.70" height="24.56" fill="#ff5000"/>
<rect x="647.40" width="25.70" height="24.56" fill="#ff9f00"/>
<rect x="672.60" width="25.70" height="24.56" fill="#ffcf00"/>
<rect x="697.80" width="50.90" height="24.56" fill="#ffff00"/>
<rect x="748.20" width="25.70" height="24.56" fill="#ffdf00"/>
<rect x="773.40" width="25.70" height="24.56" fill="#ffef00"/>
<rect x="798.60" width="25.70" height="24.56" fill="#efff10"/>
<rect x="823.80" width="25.70" height="24.56" fill="#bfff40"/>
<rect x="849.00" width="25.70" height="24.56" fill="#80ff80"/>
<rect x="874.20" width="25.70" height="24.56" fill="#30ffcf"/>
<rect x="899.40" width="25.70" height="24.56" fill="#00ffff"/>
<rect x="924.60" width="25.70" height="24.56" fill="#00dfff"/>
<rect x="949.80" width="25.70" height="24.56" fill="#00efff"/>
</g>
<g transform="translate(0,1181.49)">
<rect x="219.00" width="227.30" height="24.56" fill="#9f0000"/>
<rect x="445.80" width="25.70" height="24.56" fill="#bf0000"/>
<rect x="471.00" width="25.70" height="24.56" fill="#ff7000"/>
<rect x="496.20" width="25.70" height="24.56" fill="#ff8000"/>
<rect x="521.40" width="25.70" height="24.56" fill="#ff4000"/>
<rect x="546.60" width="25.70" height="24.56" fill="#af0000"/>
<rect x="571.80" width="25.70" height="24.56" fill="#cf0000"/>
<rect x="597.00" width="25.70" height="24.56" fill="#ef0000"/>
<rect x="622.20" width="25.70" height="24.56" fill="#ff3000"/>
<rect x="647.40" width="25.70" height="24.56" fill="#ff8f00"/>
<rect x="672.60" width="25.70" height="24.56" fill="#ffcf00"/>
<rect x="697.80" width="25.70" height="24.56" fill="#efff10"/>
<rect x="723.00" width="25.70" height="24.56" fill="#8fff70"/>
<rect x="748.20" width="25.70" height="24.56" fill="#70ff8f"/>
<rect x="773.40" width="25.70" height="24.56" fill="#8fff70"/>
<rect x="798.60" width="25.70" height="24.56" fill="#cfff30"/>
<rect x="823.80" width="126.50" height="24.56" fill="#efff10"/>
<rect x="949.80" width="25.70" height="24.56" fill="#ffef00"/>
</g>
<g transform="translate(0,1205.55)">
<rect x="219.00" width="227.30" height="24.56" fill="#9f0000"/>
<rect x="445.80" width="25.70" height="24.56" fill="#bf0000"/>
<rect x="471.00" width="25.70" height="24.56" fill="#ff5000"/>
<rect x="496.20" width="25.70" height="24.56" fill="#ff8f00"/>
<rect x="521.40" width="25.70" height="24.56" fill="#ff1000"/>
<rect x="546.60" width="25.70" height="24.56" fill="#cf0000"/>
<rect x="571.80" width="25.70" height="24.56" fill="#bf0000"/>
<rect x="597.00" width="25.70" height="24.56" fill="#df0000"/>
<rect x="622.20" width="25.70" height="24.56" fill="#ff1000"/>
<rect x="647.40" width="25.70" height="24.56" fill="#ff4000"/>
<rect x="672.60" width="25.70" height="24.56" fill="#ff8f00"/>
<rect x="697.80" width="25.70" height="24.56" fill="#ffcf00"/>
<rect x="723.00" width="25.70" height="24.56" fill="#afff50"/>
<rect x="748.20" width="25.70" height="24.56" fill="#30ffcf"/>
<rect x="773.40" width="25.70" height="24.56" fill="#00cfff"/>
<rect x="798.60" width="25.70" height="24.56" fill="#00afff"/>
<rect x="823.80" width="25.70" height="24.56" fill="#00efff"/>
<rect x="849.00" width="25.70" height="24.56" fill="#60ff9f"/>
<rect x="874.20" width="25.70" height="24.56" fill="#bfff40"/>
<rect x="899.40" width="25.70" height="24.56" fill="#ffef00"/>
<rect x="924.60" width="25.70" height="24.56" fill="#ffaf00"/>
<rect x="949.80" width="25.70" height="24.56" fill="#ff8f00"/>
</g>
<g transform="translate(0,1229.62)">
<rect x="219.00" width="227.30" height="24.56" fill="#9f0000"/>
<rect x="445.80" width="25.70" height="24.56" fill="#bf0000"/>
<rect x="471.00" width="25.70" height="24.56" fill="#ff5000"/>
<rect x="496.20" width="25.70" height="24.56" fill="#ff9f00"/>
<rect x="521.40" width="25.70" height="24.56" fill="#ff3000"/>
<rect x="546.60" width="25.70" height="24.56" fill="#df0000"/>
<rect x="571.80" width="25.70" height="24.56" fill="#bf0000"/>
<rect x="597.00" width="25.70" height="24.56" fill="#cf0000"/>
<rect x="622.20" width="25.70" height="24.56" fill="#ef0000"/>
<rect x="647.40" width="25.70" height="24.56" fill="#ff1000"/>
<rect x="672.60" width="25.70" height="24.56" fill="#ff4000"/>
<rect x="697.80" width="25.70" height="24.56" fill="#ff8000"/>
<rect x="723.00" width="25.70" height="24.56" fill="#ffcf00"/>
<rect x="748.20" width="25.70" height="24.56" fill="#cfff30"/>
<rect x="773.40" width="25.70" height="24.56" fill="#40ffbf"/>
<rect x="798.60" width="25.70" height="24.56" fill="#00afff"/>
<rect x="823.80" width="25.70" height="24.56" fill="#0060ff"/>
<rect x="849.00" width="25.70" height="24.56" fill="#0030ff"/>
<rect x="874.20" width="25.70" height="24.56" fill="#0070ff"/>
<rect x="899.40" width="25.70" height="24.56" fill="#00dfff"/>
<rect x="924.60" width="25.70" height="24.56" fill="#50ffaf"/>
<rect x="949.80" width="25.70" height="24.56" fill="#8fff70"/>
</g>
<g transform="translate(0,1253.68)">
<rect x="219.00" width="227.30" height="24.56" fill="#9f0000"/>
<rect x="445.80" width="25.70" height="24.56" fill="#bf0000"/>
<rect x="471.00" width="25.70" height="24.56" fill="#ff3000"/>
<rect x="496.20" width="25.70" height="24.56" fill="#ffaf00"/>
<rect x="521.40" width="25.70" height="24.56" fill="#ff5000"/>
<rect x="546.60" width="25.70" height="24.56" fill="#cf0000"/>
<rect x="571.80" width="25.70" height="24.56" fill="#bf0000"/>
<rect x="597.00" width="25.70" height="24.56" fill="#df0000"/>
<rect x="622.20" width="50.90" height="24.56" fill="#ef0000"/>
<rect x="672.60" width="25.70" height="24.56" fill="#ff1000"/>
<rect x="697.80" width="25.70" height="24.56" fill="#ff3000"/>
<rect x="723.00" width="25.70" height="24.56" fill="#ff5000"/>
<rect x="748.20" width="25.70" height="24.56" fill="#ff8f00"/>
<rect x="773.40" width="25.70" height="24.56" fill="#ffdf00"/>
<rect x="798.60" width="25.70" height="24.56" fill="#afff50"/>
<rect x="823.80" width="25.70" height="24.56" fill="#40ffbf"/>
<rect x="849.00" width="25.70" height="24.56" fill="#00cfff"/>
<rect x="874.20" width="25.70" height="24.56" fill="#0070ff"/>
<rect x="899.40" width="50.90" height="24.56" fill="#0050ff"/>
<rect x="949.80" width="25.70" height="24.56" fill="#0060ff"/>
</g>
<g transform="translate(0,1277.74)">
<rect x="219.00" width="227.30" height="24.56" fill="#9f0000"/>
<rect x="445.80" width="25.70" height="24.56" fill="#bf0000"/>
<rect x="471.00" width="25.70" height="24.56" fill="#ff2000"/>
<rect x="496.20" width="25.70" height="24.56" fill="#ffbf00"/>
<rect x="521.40" width="25.70" height="24.56" fill="#ff7000"/>
<rect x="546.60" width="25.70" height="24.56" fill="#cf0000"/>
<rect x="571.80" width="25.70" height="24.56" fill="#bf0000"/>
<rect x="597.00" width="25.70" height="24.56" fill="#df0000"/>
<rect x="622.20" width="76.10" height="24.56" fill="#ef0000"/>
<rect x="697.80" width="25.70" height="24.56" fill="#ff0000"/>
<rect x="723.00" width="25.70" height="24.56" fill="#ff2000"/>
<rect x="748.20" width="25.70" height="24.56" fill="#ff4000"/>
<rect x="773.40" width="25.70" height="24.56" fill="#ff7000"/>
<rect x="798.60" width="25.70" height="24.56" fill="#ffaf00"/>
<rect x="823.80" width="25.70" height="24.56" fill="#ffdf00"/>
<rect x="849.00" width="25.70" height="24.56" fill="#ffff00"/>
<rect x="874.20" width="25.70" height="24.56" fill="#cfff30"/>
<rect x="899.40" width="25.70" height="24.56" fill="#afff50"/>
<rect x="924.60" width="25.70" height="24.56" fill="#9fff60"/>
<rect x="949.80" width="25.70" height="24.56" fill="#8fff70"/>
</g>
<g transform="translate(0,1301.81)">
<rect x="219.00" width="252.50" height="24.56" fill="#9f0000"/>
<rect x="471.00" width="25.70" height="24.56" fill="#ff0000"/>
<rect x="496.20" width="25.70" height="24.56" fill="#ffbf00"/>
<rect x="521.40" width="25.70" height="24.56" fill="#ff8f00"/>
<rect x="546.60" width="25.70" height="24.56" fill="#df0000"/>
<rect x="571.80" width="25.70" height="24.56" fill="#af0000"/>
<rect x="597.00" width="25.70" height="24.56" fill="#8f0000"/>
<rect x="622.20" width="25.70" height="24.56" fill="#af0000"/>
<rect x="647.40" width="25.70" height="24.56" fill="#ff2000"/>
<rect x="672.60" width="50.90" height="24.56" fill="#ff0000"/>
<rect x="723.00" width="25.70" height="24.56" fill="#ff1000"/>
<rect x="748.20" width="25.70" height="24.56" fill="#ff3000"/>
<rect x="773.40" width="25.70" height="24.56" fill="#ff4000"/>
<rect x="798.60" width="25.70" height="24.56" fill="#ff6000"/>
<rect x="823.80" width="25.70" height="24.56" fill="#ff8000"/>
<rect x="849.00" width="25.70" height="24.56" fill="#ff9f00"/>
<rect x="874.20" width="25.70" height="24.56" fill="#ffbf00"/>
<rect x="899.40" width="50.90" height="24.56" fill="#ffcf00"/>
<rect x="949.80" width="25.70" height="24.56" fill="#ffbf00"/>
</g>
<g transform="translate(0,1325.87)">
<rect x="219.00" width="252.50" height="24.56" fill="#9f0000"/>
<rect x="471.00" width="25.70" height="24.56" fill="#ef0000"/>
<rect x="496.20" width="25.70" height="24.56" fill="#ffbf00"/>
<rect x="521.40" width="25.70" height="24.56" fill="#ff9f00"/>
<rect x="546.60" width="25.70" height="24.56" fill="#ef0000"/>
<rect x="571.80" width="25.70" height="24.56" fill="#9f0000"/>
<rect x="597.00" width="25.70" height="24.56" fill="#8f0000"/>
<rect x="622.20" width="50.90" height="24.56" fill="#9f0000"/>
<rect x="672.60" width="101.30" height="24.56" fill="#ff2000"/>
<rect x="773.40" width="25.70" height="24.56" fill="#ff3000"/>
<rect x="798.60" width="25.70" height="24.56" fill="#ff5000"/>
<rect x="823.80" width="25.70" height="24.56" fill="#ff7000"/>
<rect x="849.00" width="25.70" height="24.56" fill="#ff8f00"/>
<rect x="874.20" width="25.70" height="24.56" fill="#ffaf00"/>
<rect x="899.40" width="25.70" height="24.56" fill="#ffbf00"/>
<rect x="924.60" width="50.90" height="24.56" fill="#ffcf00"/>
</g>
<g transform="translate(0,1349.93)">
<rect x="219.00" width="252.50" height="24.56" fill="#9f0000"/>
<rect x="471.00" width="25.70" height="24.56" fill="#ef0000"/>
<rect x="496.20" width="25.70" height="24.56" fill="#ffaf00"/>
<rect x="521.40" width="25.70" height="24.56" fill="#ffbf00"/>
<rect x="546.60" width="25.70" height="24.56" fill="#ef0000"/>
<rect x="571.80" width="25.70" height="24.56" fill="#9f0000"/>
<rect x="597.00" width="25.70" height="24.56" fill="#8f0000"/>
<rect x="622.20" width="25.70" height="24.56" fill="#9f0000"/>
<rect x="647.40" width="25.70" height="24.56" fill="#af0000"/>
<rect x="672.60" width="25.70" height="24.56" fill="#bf0000"/>
<rect x="697.80" width="25.70" height="24.56" fill="#cf0000"/>
<rect x="723.00" width="25.70" height="24.56" fill="#ff2000"/>
<rect x="748.20" width="25.70" height="24.56" fill="#ff4000"/>
<rect x="773.40" width="25.70" height="24.56" fill="#ff5000"/>
<rect x="798.60" width="25.70" height="24.56" fill="#ff6000"/>
<rect x="823.80" width="25.70" height="24.56" fill="#ff7000"/>
<rect x="849.00" width="25.70" height="24.56" fill="#ff8f00"/>
<rect x="874.20" width="25.70" height="24.56" fill="#ff9f00"/>
<rect x="899.40" width="25.70" height="24.56" fill="#ffbf00"/>
<rect x="924.60" width="25.70" height="24.56" fill="#ffdf00"/>
<rect x="949.80" width="25.70" height="24.56" fill="#ffef00"/>
</g>
<g transform="translate(0,1374.00)">
<rect x="219.00" width="252.50" height="24.56" fill="#9f0000"/>
<rect x="471.00" width="25.70" height="24.56" fill="#cf0000"/>
<rect x="496.20" width="25.70" height="24.56" fill="#ff8f00"/>
<rect x="521.40" width="25.70" height="24.56" fill="#ffef00"/>
<rect x="546.60" width="25.70" height="24.56" fill="#ff1000"/>
<rect x="571.80" width="25.70" height="24.56" fill="#9f0000"/>
<rect x="597.00" width="50.90" height="24.56" fill="#8f0000"/>
<rect x="647.40" width="25.70" height="24.56" fill="#af0000"/>
<rect x="672.60" width="25.70" height="24.56" fill="#bf0000"/>
<rect x="697.80" width="50.90" height="24.56" fill="#cf0000"/>
<rect x="748.20" width="25.70" height="24.56" fill="#ef0000"/>
<rect x="773.40" width="25.70" height="24.56" fill="#ff0000"/>
<rect x="798.60" width="25.70" height="24.56" fill="#ff4000"/>
<rect x="823.80" width="25.70" height="24.56" fill="#ff7000"/>
<rect x="849.00" width="25.70" height="24.56" fill="#ffaf00"/>
<rect x="874.20" width="25.70" height="24.56" fill="#ffcf00"/>
<rect x="899.40" width="25.70" height="24.56" fill="#ffdf00"/>
<rect x="924.60" width="25.70" height="24.56" fill="#ffef00"/>
<rect x="949.80" width="25.70" height="24.56" fill="#ffff00"/>
</g>
<g transform="translate(0,1398.06)">
<rect x="219.00" width="252.50" height="24.56" fill="#9f0000"/>
<rect x="471.00" width="25.70" height="24.56" fill="#af0000"/>
<rect x="496.20" width="25.70" height="24.56" fill="#ff8000"/>
<rect x="521.40" width="25.70" height="24.56" fill="#ffff00"/>
<rect x="546.60" width="25.70" height="24.56" fill="#ff3000"/>
<rect x="571.80" width="25.70" height="24.56" fill="#9f0000"/>
<rect x="597.00" width="25.70" height="24.56" fill="#800000"/>
<rect x="622.20" width="25.70" height="24.56" fill="#8f0000"/>
<rect x="647.40" width="25.70" height="24.56" fill="#9f0000"/>
<rect x="672.60" width="25.70" height="24.56" fill="#af0000"/>
<rect x="697.80" width="25.70" height="24.56" fill="#bf0000"/>
<rect x="723.00" width="50.90" height="24.56" fill="#cf0000"/>
<rect x="773.40" width="25.70" height="24.56" fill="#df0000"/>
<rect x="798.60" width="25.70" height="24.56" fill="#ef0000"/>
<rect x="823.80" width="25.70" height="24.56" fill="#ff0000"/>
<rect x="849.00" width="25.70" height="24.56" fill="#ff2000"/>
<rect x="874.20" width="25.70" height="24.56" fill="#ff3000"/>
<rect x="899.40" width="25.70" height="24.56" fill="#ff5000"/>
<rect x="924.60" width="25.70" height="24.56" fill="#ff8f00"/>
<rect x="949.80" width="25.70" height="24.56" fill="#ffdf00"/>
</g>
<g transform="translate(0,1422.12)">
<rect x="219.00" width="252.50" height="24.56" fill="#9f0000"/>
<rect x="471.00" width="25.70" height="24.56" fill="#af0000"/>
<rect x="496.20" width="25.70" height="24.56" fill="#ff6000"/>
<rect x="521.40" width="25.70" height="24.56" fill="#efff10"/>
<rect x="546.60" width="25.70" height="24.56" fill="#ff5000"/>
<rect x="571.80" width="25.70" height="24.56" fill="#9f0000"/>
<rect x="597.00" width="50.90" height="24.56" fill="#800000"/>
<rect x="647.40" width="25.70" height="24.56" fill="#9f0000"/>
<rect x="672.60" width="50.90" height="24.56" fill="#af0000"/>
<rect x="723.00" width="25.70" height="24.56" fill="#bf0000"/>
<rect x="748.20" width="50.90" height="24.56" fill="#cf0000"/>
<rect x="798.60" width="25.70" height="24.56" fill="#df0000"/>
<rect x="823.80" width="50.90" height="24.56" fill="#ef0000"/>
<rect x="874.20" width="25.70" height="24.56" fill="#ff1000"/>
<rect x="899.40" width="25.70" height="24.56" fill="#ff3000"/>
<rect x="924.60" width="25.70" height="24.56" fill="#ff4000"/>
<rect x="949.80" width="25.70" height="24.56" fill="#ff7000"/>
</g>
<g transform="translate(0,1446.19)">
<rect x="219.00" width="277.70" height="24.56" fill="#9f0000"/>
<rect x="496.20" width="25.70" height="24.56" fill="#ff2000"/>
<rect x="521.40" width="25.70" height="24.56" fill="#efff10"/>
<rect x="546.60" width="25.70" height="24.56" fill="#ff8f00"/>
<rect x="571.80" width="25.70" height="24.56" fill="#bf0000"/>
<rect x="597.00" width="76.10" height="24.56" fill="#8f0000"/>
<rect x="672.60" width="25.70" height="24.56" fill="#9f0000"/>
<rect x="697.80" width="50.90" height="24.56" fill="#af0000"/>
<rect x="748.20" width="25.70" height="24.56" fill="#bf0000"/>
<rect x="773.40" width="25.70" height="24.56" fill="#cf0000"/>
<rect x="798.60" width="25.70" height="24.56" fill="#df0000"/>
<rect x="823.80" width="50.90" height="24.56" fill="#ef0000"/>
<rect x="874.20" width="25.70" height="24.56" fill="#ff0000"/>
<rect x="899.40" width="25.70" height="24.56" fill="#ff1000"/>
<rect x="924.60" width="25.70" height="24.56" fill="#ff3000"/>
<rect x="949.80" width="25.70" height="24.56" fill="#ff7000"/>
</g>
<g transform="translate(0,1470.25)">
<rect x="219.00" width="252.50" height="24.56" fill="#9f0000"/>
<rect x="471.00" width="25.70" height="24.56" fill="#af0000"/>
<rect x="496.20" width="25.70" height="24.56" fill="#ef0000"/>
<rect x="521.40" width="50.90" height="24.56" fill="#ffdf00"/>
<rect x="571.80" width="25.70" height="24.56" fill="#df0000"/>
<rect x="597.00" width="25.70" height="24.56" fill="#9f0000"/>
<rect x="622.20" width="101.30" height="24.56" fill="#8f0000"/>
<rect x="723.00" width="50.90" height="24.56" fill="#af0000"/>
<rect x="773.40" width="25.70" height="24.56" fill="#bf0000"/>
<rect x="798.60" width="25.70" height="24.56" fill="#cf0000"/>
<rect x="823.80" width="25.70" height="24.56" fill="#df0000"/>
<rect x="849.00" width="50.90" height="24.56" fill="#ef0000"/>
<rect x="899.40" width="25.70" height="24.56" fill="#ff0000"/>
<rect x="924.60" width="25.70" height="24.56" fill="#ff2000"/>
<rect x="949.80" width="25.70" height="24.56" fill="#ff4000"/>
</g>
<g transform="translate(0,1494.31)">
<rect x="219.00" width="277.70" height="24.56" fill="#9f0000"/>
<rect x="496.20" width="25.70" height="24.56" fill="#cf0000"/>
<rect x="521.40" width="25.70" height="24.56" fill="#ff8f00"/>
<rect x="546.60" width="25.70" height="24.56" fill="#afff50"/>
<rect x="571.80" width="25.70" height="24.56" fill="#ff2000"/>
<rect x="597.00" width="25.70" height="24.56" fill="#af0000"/>
<rect x="622.20" width="50.90" height="24.56" fill="#8f0000"/>
<rect x="672.60" width="50.90" height="24.56" fill="#800000"/>
<rect x="723.00" width="25.70" height="24.56" fill="#9f0000"/>
<rect x="748.20" width="50.90" height="24.56" fill="#af0000"/>
<rect x="798.60" width="25.70" height="24.56" fill="#bf0000"/>
<rect x="823.80" width="50.90" height="24.56" fill="#cf0000"/>
<rect x="874.20" width="25.70" height="24.56" fill="#df0000"/>
<rect x="899.40" width="25.70" height="24.56" fill="#ef0000"/>
<rect x="924.60" width="25.70" height="24.56" fill="#ff0000"/>
<rect x="949.80" width="25.70" height="24.56" fill="#ff2000"/>
</g>
<g transform="translate(0,1518.38)">
<rect x="219.00" width="277.70" height="24.56" fill="#9f0000"/>
<rect x="496.20" width="25.70" height="24.56" fill="#af0000"/>
<rect x="521.40" width="25.70" height="24.56" fill="#ff4000"/>
<rect x="546.60" width="25.70" height="24.56" fill="#70ff8f"/>
<rect x="571.80" width="25.70" height="24.56" fill="#ff7000"/>
<rect x="597.00" width="25.70" height="24.56" fill="#cf0000"/>
<rect x="622.20" width="25.70" height="24.56" fill="#9f0000"/>
<rect x="647.40" width="25.70" height="24.56" fill="#8f0000"/>
<rect x="672.60" width="25.70" height="24.56" fill="#800000"/>
<rect x="697.80" width="50.90" height="24.56" fill="#8f0000"/>
<rect x="748.20" width="25.70" height="24.56" fill="#9f0000"/>
<rect x="773.40" width="50.90" height="24.56" fill="#af0000"/>
<rect x="823.80" width="50.90" height="24.56" fill="#bf0000"/>
<rect x="874.20" width="25.70" height="24.56" fill="#cf0000"/>
<rect x="899.40" width="25.70" height="24.56" fill="#df0000"/>
<rect x="924.60" width="50.90" height="24.56" fill="#ef0000"/>
</g>
<g transform="translate(0,1542.44)">
<rect x="219.00" width="302.90" height="24.56" fill="#9f0000"/>
<rect x="521.40" width="25.70" height="24.56" fill="#ef0000"/>
<rect x="546.60" width="25.70" height="24.56" fill="#cfff30"/>
<rect x="571.80" width="25.70" height="24.56" fill="#ffff00"/>
<rect x="597.00" width="25.70" height="24.56" fill="#ff0000"/>
<rect x="622.20" width="25.70" height="24.56" fill="#af0000"/>
<rect x="647.40" width="25.70" height="24.56" fill="#9f0000"/>
<rect x="672.60" width="101.30" height="24.56" fill="#8f0000"/>
<rect x="773.40" width="50.90" height="24.56" fill="#9f0000"/>
<rect x="823.80" width="76.10" height="24.56" fill="#af0000"/>
<rect x="899.40" width="25.70" height="24.56" fill="#bf0000"/>
<rect x="924.60" width="50.90" height="24.56" fill="#cf0000"/>
</g>
<g transform="translate(0,1566.50)">
<rect x="219.00" width="302.90" height="24.56" fill="#9f0000"/>
<rect x="521.40" width="25.70" height="24.56" fill="#af0000"/>
<rect x="546.60" width="25.70" height="24.56" fill="#ff6000"/>
<rect x="571.80" width="25.70" height="24.56" fill="#10ffef"/>
<rect x="597.00" width="25.70" height="24.56" fill="#ff7000"/>
<rect x="622.20" width="25.70" height="24.56" fill="#bf0000"/>
<rect x="647.40" width="25.70" height="24.56" fill="#9f0000"/>
<rect x="672.60" width="25.70" height="24.56" fill="#8f0000"/>
<rect x="697.80" width="50.90" height="24.56" fill="#9f0000"/>
<rect x="748.20" width="101.30" height="24.56" fill="#8f0000"/>
<rect x="849.00" width="50.90" height="24.56" fill="#9f0000"/>
<rect x="899.40" width="76.10" height="24.56" fill="#af0000"/>
</g>
<g transform="translate(0,1590.57)">
<rect x="219.00" width="328.10" height="24.56" fill="#9f0000"/>
<rect x="546.60" width="25.70" height="24.56" fill="#ef0000"/>
<rect x="571.80" width="25.70" height="24.56" fill="#cfff30"/>
<rect x="597.00" width="25.70" height="24.56" fill="#8fff70"/>
<rect x="622.20" width="25.70" height="24.56" fill="#ff2000"/>
<rect x="647.40" width="25.70" height="24.56" fill="#bf0000"/>
<rect x="672.60" width="76.10" height="24.56" fill="#af0000"/>
<rect x="748.20" width="76.10" height="24.56" fill="#9f0000"/>
<rect x="823.80" width="126.50" height="24.56" fill="#8f0000"/>
<rect x="949.80" width="25.70" height="24.56" fill="#9f0000"/>
</g>
<g transform="translate(0,1614.63)">
<rect x="219.00" width="328.10" height="24.56" fill="#9f0000"/>
<rect x="546.60" width="25.70" height="24.56" fill="#af0000"/>
<rect x="571.80" width="25.70" height="24.56" fill="#ff1000"/>
<rect x="597.00" width="25.70" height="24.56" fill="#10ffef"/>
<rect x="622.20" width="25.70" height="24.56" fill="#dfff20"/>
<rect x="647.40" width="25.70" height="24.56" fill="#ff1000"/>
<rect x="672.60" width="25.70" height="24.56" fill="#cf0000"/>
<rect x="697.80" width="76.10" height="24.56" fill="#af0000"/>
<rect x="773.40" width="76.10" height="24.56" fill="#9f0000"/>
<rect x="849.00" width="126.50" height="24.56" fill="#8f0000"/>
</g>
<g transform="translate(0,1638.69)">
<rect x="219.00" width="353.30" height="24.56" fill="#9f0000"/>
<rect x="571.80" width="25.70" height="24.56" fill="#af0000"/>
<rect x="597.00" width="25.70" height="24.56" fill="#ff4000"/>
<rect x="622.20" width="25.70" height="24.56" fill="#0070ff"/>
<rect x="647.40" width="25.70" height="24.56" fill="#efff10"/>
<rect x="672.60" width="25.70" height="24.56" fill="#ff3000"/>
<rect x="697.80" width="25.70" height="24.56" fill="#ef0000"/>
<rect x="723.00" width="25.70" height="24.56" fill="#cf0000"/>
<rect x="748.20" width="101.30" height="24.56" fill="#af0000"/>
<rect x="849.00" width="126.50" height="24.56" fill="#9f0000"/>
</g>
<g transform="translate(0,1662.76)">
<rect x="219.00" width="378.50" height="24.56" fill="#9f0000"/>
<rect x="597.00" width="25.70" height="24.56" fill="#af0000"/>
<rect x="622.20" width="25.70" height="24.56" fill="#ff0000"/>
<rect x="647.40" width="25.70" height="24.56" fill="#30ffcf"/>
<rect x="672.60" width="25.70" height="24.56" fill="#00cfff"/>
<rect x="697.80" width="25.70" height="24.56" fill="#ff8000"/>
<rect x="723.00" width="25.70" height="24.56" fill="#ff2000"/>
<rect x="748.20" width="25.70" height="24.56" fill="#ef0000"/>
<rect x="773.40" width="25.70" height="24.56" fill="#cf0000"/>
<rect x="798.60" width="50.90" height="24.56" fill="#bf0000"/>
<rect x="849.00" width="126.50" height="24.56" fill="#af0000"/>
</g>
<g transform="translate(0,1686.82)">
<rect x="219.00" width="428.90" height="24.56" fill="#9f0000"/>
<rect x="647.40" width="25.70" height="24.56" fill="#bf0000"/>
<rect x="672.60" width="25.70" height="24.56" fill="#ff8000"/>
<rect x="697.80" width="25.70" height="24.56" fill="#00009f"/>
<rect x="723.00" width="25.70" height="24.56" fill="#50ffaf"/>
<rect x="748.20" width="25.70" height="24.56" fill="#ff9f00"/>
<rect x="773.40" width="25.70" height="24.56" fill="#ff4000"/>
<rect x="798.60" width="25.70" height="24.56" fill="#ff1000"/>
<rect x="823.80" width="25.70" height="24.56" fill="#ef0000"/>
<rect x="849.00" width="25.70" height="24.56" fill="#df0000"/>
<rect x="874.20" width="76.10" height="24.56" fill="#cf0000"/>
<rect x="949.80" width="25.70" height="24.56" fill="#df0000"/>
</g>
<g transform="translate(0,1710.88)">
<rect x="219.00" width="454.10" height="24.56" fill="#9f0000"/>
<rect x="672.60" width="50.90" height="24.56" fill="#af0000"/>
<rect x="723.00" width="25.70" height="24.56" fill="#ff1000"/>
<rect x="748.20" width="25.70" height="24.56" fill="#50ffaf"/>
<rect x="773.40" width="25.70" height="24.56" fill="#00009f"/>
<rect x="798.60" width="25.70" height="24.56" fill="#20ffdf"/>
<rect x="823.80" width="25.70" height="24.56" fill="#ffef00"/>
<rect x="849.00" width="25.70" height="24.56" fill="#ff9f00"/>
<rect x="874.20" width="25.70" height="24.56" fill="#ff7000"/>
<rect x="899.40" width="25.70" height="24.56" fill="#ff6000"/>
<rect x="924.60" width="50.90" height="24.56" fill="#ff4000"/>
</g>
<g transform="translate(0,1734.95)">
<rect x="219.00" width="554.90" height="24.56" fill="#9f0000"/>
<rect x="773.40" width="25.70" height="24.56" fill="#af0000"/>
<rect x="798.60" width="25.70" height="24.56" fill="#ff0000"/>
<rect x="823.80" width="25.70" height="24.56" fill="#ffcf00"/>
<rect x="849.00" width="25.70" height="24.56" fill="#008fff"/>
<rect x="874.20" width="25.70" height="24.56" fill="#0020ff"/>
<rect x="899.40" width="25.70" height="24.56" fill="#00cfff"/>
<rect x="924.60" width="25.70" height="24.56" fill="#80ff80"/>
<rect x="949.80" width="25.70" height="24.56" fill="#dfff20"/>
</g>
<g transform="translate(0,1759.01)">
<rect x="219.00" width="706.10" height="24.56" fill="#9f0000"/>
<rect x="924.60" width="25.70" height="24.56" fill="#bf0000"/>
<rect x="949.80" width="25.70" height="24.56" fill="#ff0000"/>
</g>
<g transform="translate(0,1783.07)">
<rect x="219.00" width="756.50" height="24.56" fill="#9f0000"/>
</g>
<g transform="translate(0,1807.14)">
<rect x="219.00" width="756.50" height="24.56" fill="#8f0000"/>
</g>
</g>
<path d="M219.00 1109.30V1831.20M219.00 1109.30H975.00M244.20 1109.30V1831.20M219.00 1133.36H975.00M269.40 1109.30V1831.20M219.00 1157.43H975.00M294.60 1109.30V1831.20M219.00 1181.49H975.00M319.80 1109.30V1831.20M219.00 1205.55H975.00M345.00 1109.30V1831.20M219.00 1229.62H975.00M370.20 1109.30V1831.20M219.00 1253.68H975.00M395.40 1109.30V1831.20M219.00 1277.74H975.00M420.60 1109.30V1831.20M219.00 1301.81H975.00M445.80 1109.30V1831.20M219.00 1325.87H975.00M471.00 1109.30V1831.20M219.00 1349.93H975.00M496.20 1109.30V1831.20M219.00 1374.00H975.00M521.40 1109.30V1831.20M219.00 1398.06H975.00M546.60 1109.30V1831.20M219.00 1422.12H975.00M571.80 1109.30V1831.20M219.00 1446.19H975.00M597.00 1109.30V1831.20M219.00 1470.25H975.00M622.20 1109.30V1831.20M219.00 1494.31H975.00M647.40 1109.30V1831.20M219.00 1518.38H975.00M672.60 1109.30V1831.20M219.00 1542.44H975.00M697.80 1109.30V1831.20M219.00 1566.50H975.00M723.00 1109.30V1831.20M219.00 1590.57H975.00M748.20 1109.30V1831.20M219.00 1614.63H975.00M773.40 1109.30V1831.20M219.00 1638.69H975.00M798.60 1109.30V1831.20M219.00 1662.76H975.00M823.80 1109.30V1831.20M219.00 1686.82H975.00M849.00 1109.30V1831.20M219.00 1710.88H975.00M874.20 1109.30V1831.20M219.00 1734.95H975.00M899.40 1109.30V1831.20M219.00 1759.01H975.00M924.60 1109.30V1831.20M219.00 1783.07H975.00M949.80 1109.30V1831.20M219.00 1807.14H975.00M975.00 1109.30V1831.20M219.00 1831.20H975.00" stroke="#000" stroke-width="1.70" fill="none" stroke-linecap="square"/>
<text transform="translate(420.60,1915.00) scale(1,1.025)" font-size="68.50" text-anchor="middle" fill="#262626" font-family="Liberation Sans, Arial, sans-serif" >0.1</text>
<text transform="translate(199.60,1662.99) scale(1,1.025)" font-size="68.50" text-anchor="end" fill="#262626" font-family="Liberation Sans, Arial, sans-serif" >0.1</text>
<path d="M420.60 1831.20v-7M219.00 1638.69h7" stroke="#262626" stroke-width="1.2"/>
<text transform="translate(672.60,1915.00) scale(1,1.025)" font-size="68.50" text-anchor="middle" fill="#262626" font-family="Liberation Sans, Arial, sans-serif" >0.2</text>
<text transform="translate(199.60,1422.36) scale(1,1.025)" font-size="68.50" text-anchor="end" fill="#262626" font-family="Liberation Sans, Arial, sans-serif" >0.2</text>
<path d="M672.60 1831.20v-7M219.00 1398.06h7" stroke="#262626" stroke-width="1.2"/>
<text transform="translate(924.60,1915.00) scale(1,1.025)" font-size="68.50" text-anchor="middle" fill="#262626" font-family="Liberation Sans, Arial, sans-serif" >0.3</text>
<text transform="translate(199.60,1181.73) scale(1,1.025)" font-size="68.50" text-anchor="end" fill="#262626" font-family="Liberation Sans, Arial, sans-serif" >0.3</text>
<path d="M924.60 1831.20v-7M219.00 1157.43h7" stroke="#262626" stroke-width="1.2"/>
<text transform="translate(598.50,2000.10) scale(1,1.030)" font-size="75.60" text-anchor="middle" fill="#262626" font-family="Liberation Sans, Arial, sans-serif" >L(μm)</text>
<text transform="translate(79.90,1469.25) rotate(-90) scale(1,1.03)" font-size="75.60" text-anchor="middle" fill="#262626" font-family="Liberation Sans, Arial, sans-serif">W(μm)</text>
<text transform="translate(597.00,1091.40) scale(1,1.035)" font-size="74.50" text-anchor="middle" fill="#000" font-family="Liberation Sans, Arial, sans-serif" >Tx</text>
<text x="23.40" y="1121.00" font-size="68.00" text-anchor="start" fill="#000" font-family="Liberation Serif, Times New Roman, serif" >(c)</text>
<g shape-rendering="crispEdges">
<rect x="1012.80" y="1819.91" width="66.20" height="11.89" fill="#00008f"/>
<rect x="1012.80" y="1808.62" width="66.20" height="11.89" fill="#00009f"/>
<rect x="1012.80" y="1797.34" width="66.20" height="11.89" fill="#0000af"/>
<rect x="1012.80" y="1786.05" width="66.20" height="11.89" fill="#0000bf"/>
<rect x="1012.80" y="1774.76" width="66.20" height="11.89" fill="#0000cf"/>
<rect x="1012.80" y="1763.48" width="66.20" height="11.89" fill="#0000df"/>
<rect x="1012.80" y="1752.19" width="66.20" height="11.89" fill="#0000ef"/>
<rect x="1012.80" y="1740.90" width="66.20" height="11.89" fill="#0000ff"/>
<rect x="1012.80" y="1729.61" width="66.20" height="11.89" fill="#0010ff"/>
<rect x="1012.80" y="1718.33" width="66.20" height="11.89" fill="#0020ff"/>
<rect x="1012.80" y="1707.04" width="66.20" height="11.89" fill="#0030ff"/>
<rect x="1012.80" y="1695.75" width="66.20" height="11.89" fill="#0040ff"/>
<rect x="1012.80" y="1684.46" width="66.20" height="11.89" fill="#0050ff"/>
<rect x="1012.80" y="1673.17" width="66.20" height="11.89" fill="#0060ff"/>
<rect x="1012.80" y="1661.89" width="66.20" height="11.89" fill="#0070ff"/>
<rect x="1012.80" y="1650.60" width="66.20" height="11.89" fill="#0080ff"/>
<rect x="1012.80" y="1639.31" width="66.20" height="11.89" fill="#008fff"/>
<rect x="1012.80" y="1628.03" width="66.20" height="11.89" fill="#009fff"/>
<rect x="1012.80" y="1616.74" width="66.20" height="11.89" fill="#00afff"/>
<rect x="1012.80" y="1605.45" width="66.20" height="11.89" fill="#00bfff"/>
<rect x="1012.80" y="1594.16" width="66.20" height="11.89" fill="#00cfff"/>
<rect x="1012.80" y="1582.88" width="66.20" height="11.89" fill="#00dfff"/>
<rect x="1012.80" y="1571.59" width="66.20" height="11.89" fill="#00efff"/>
<rect x="1012.80" y="1560.30" width="66.20" height="11.89" fill="#00ffff"/>
<rect x="1012.80" y="1549.01" width="66.20" height="11.89" fill="#10ffef"/>
<rect x="1012.80" y="1537.72" width="66.20" height="11.89" fill="#20ffdf"/>
<rect x="1012.80" y="1526.44" width="66.20" height="11.89" fill="#30ffcf"/>
<rect x="1012.80" y="1515.15" width="66.20" height="11.89" fill="#40ffbf"/>
<rect x="1012.80" y="1503.86" width="66.20" height="11.89" fill="#50ffaf"/>
<rect x="1012.80" y="1492.58" width="66.20" height="11.89" fill="#60ff9f"/>
<rect x="1012.80" y="1481.29" width="66.20" height="11.89" fill="#70ff8f"/>
<rect x="1012.80" y="1470.00" width="66.20" height="11.89" fill="#80ff80"/>
<rect x="1012.80" y="1458.71" width="66.20" height="11.89" fill="#8fff70"/>
<rect x="1012.80" y="1447.42" width="66.20" height="11.89" fill="#9fff60"/>
<rect x="1012.80" y="1436.14" width="66.20" height="11.89" fill="#afff50"/>
<rect x="1012.80" y="1424.85" width="66.20" height="11.89" fill="#bfff40"/>
<rect x="1012.80" y="1413.56" width="66.20" height="11.89" fill="#cfff30"/>
<rect x="1012.80" y="1402.28" width="66.20" height="11.89" fill="#dfff20"/>
<rect x="1012.80" y="1390.99" width="66.20" height="11.89" fill="#efff10"/>
<rect x="1012.80" y="1379.70" width="66.20" height="11.89" fill="#ffff00"/>
<rect x="1012.80" y="1368.41" width="66.20" height="11.89" fill="#ffef00"/>
<rect x="1012.80" y="1357.12" width="66.20" height="11.89" fill="#ffdf00"/>
<rect x="1012.80" y="1345.84" width="66.20" height="11.89" fill="#ffcf00"/>
<rect x="1012.80" y="1334.55" width="66.20" height="11.89" fill="#ffbf00"/>
<rect x="1012.80" y="1323.26" width="66.20" height="11.89" fill="#ffaf00"/>
<rect x="1012.80" y="1311.97" width="66.20" height="11.89" fill="#ff9f00"/>
<rect x="1012.80" y="1300.69" width="66.20" height="11.89" fill="#ff8f00"/>
<rect x="1012.80" y="1289.40" width="66.20" height="11.89" fill="#ff8000"/>
<rect x="1012.80" y="1278.11" width="66.20" height="11.89" fill="#ff7000"/>
<rect x="1012.80" y="1266.82" width="66.20" height="11.89" fill="#ff6000"/>
<rect x="1012.80" y="1255.54" width="66.20" height="11.89" fill="#ff5000"/>
<rect x="1012.80" y="1244.25" width="66.20" height="11.89" fill="#ff4000"/>
<rect x="1012.80" y="1232.96" width="66.20" height="11.89" fill="#ff3000"/>
<rect x="1012.80" y="1221.67" width="66.20" height="11.89" fill="#ff2000"/>
<rect x="1012.80" y="1210.39" width="66.20" height="11.89" fill="#ff1000"/>
<rect x="1012.80" y="1199.10" width="66.20" height="11.89" fill="#ff0000"/>
<rect x="1012.80" y="1187.81" width="66.20" height="11.89" fill="#ef0000"/>
<rect x="1012.80" y="1176.53" width="66.20" height="11.89" fill="#df0000"/>
<rect x="1012.80" y="1165.24" width="66.20" height="11.89" fill="#cf0000"/>
<rect x="1012.80" y="1153.95" width="66.20" height="11.89" fill="#bf0000"/>
<rect x="1012.80" y="1142.66" width="66.20" height="11.89" fill="#af0000"/>
<rect x="1012.80" y="1131.38" width="66.20" height="11.89" fill="#9f0000"/>
<rect x="1012.80" y="1120.09" width="66.20" height="11.89" fill="#8f0000"/>
<rect x="1012.80" y="1108.80" width="66.20" height="11.89" fill="#800000"/>
</g>
<rect x="1012.80" y="1108.80" width="66.20" height="722.40" fill="none" stroke="#262626" stroke-width="1.2"/>
<path d="M1079 1247.70h-7" stroke="#262626" stroke-width="1.2"/>
<path d="M1079 1397.30h-7" stroke="#262626" stroke-width="1.2"/>
<path d="M1079 1546.90h-7" stroke="#262626" stroke-width="1.2"/>
<path d="M1079 1696.50h-7" stroke="#262626" stroke-width="1.2"/>
<text transform="translate(1097.20,1269.48) scale(1,1.020)" font-size="61.70" text-anchor="start" fill="#262626" font-family="Liberation Sans, Arial, sans-serif" >0.9</text>
<text transform="translate(1097.20,1419.08) scale(1,1.020)" font-size="61.70" text-anchor="start" fill="#262626" font-family="Liberation Sans, Arial, sans-serif" >0.8</text>
<text transform="translate(1097.20,1568.68) scale(1,1.020)" font-size="61.70" text-anchor="start" fill="#262626" font-family="Liberation Sans, Arial, sans-serif" >0.7</text>
<text transform="translate(1097.20,1718.28) scale(1,1.020)" font-size="61.70" text-anchor="start" fill="#262626" font-family="Liberation Sans, Arial, sans-serif" >0.6</text>
<g shape-rendering="crispEdges">
<g transform="translate(0,1109.00)">
<rect x="1391.70" width="25.83" height="24.64" fill="#8f0000"/>
<rect x="1417.03" width="25.83" height="24.64" fill="#9f0000"/>
<rect x="1442.36" width="25.83" height="24.64" fill="#ff0000"/>
<rect x="1467.69" width="25.83" height="24.64" fill="#dfff20"/>
<rect x="1493.02" width="25.83" height="24.64" fill="#ff4000"/>
<rect x="1518.35" width="25.83" height="24.64" fill="#df0000"/>
<rect x="1543.68" width="25.83" height="24.64" fill="#af0000"/>
<rect x="1569.01" width="25.83" height="24.64" fill="#9f0000"/>
<rect x="1594.34" width="25.83" height="24.64" fill="#8f0000"/>
<rect x="1619.67" width="25.83" height="24.64" fill="#9f0000"/>
<rect x="1645.00" width="25.83" height="24.64" fill="#af0000"/>
<rect x="1670.33" width="25.83" height="24.64" fill="#cf0000"/>
<rect x="1695.66" width="25.83" height="24.64" fill="#ef0000"/>
<rect x="1720.99" width="25.83" height="24.64" fill="#ff2000"/>
<rect x="1746.32" width="25.83" height="24.64" fill="#ff4000"/>
<rect x="1771.65" width="51.16" height="24.64" fill="#ff7000"/>
<rect x="1822.31" width="25.83" height="24.64" fill="#ffdf00"/>
<rect x="1847.64" width="25.83" height="24.64" fill="#ffff00"/>
<rect x="1872.97" width="25.83" height="24.64" fill="#ffef00"/>
<rect x="1898.30" width="25.83" height="24.64" fill="#ffcf00"/>
<rect x="1923.63" width="25.83" height="24.64" fill="#ffbf00"/>
<rect x="1948.96" width="25.83" height="24.64" fill="#8fff70"/>
<rect x="1974.29" width="25.83" height="24.64" fill="#0060ff"/>
<rect x="1999.62" width="25.83" height="24.64" fill="#8fff70"/>
<rect x="2024.95" width="25.83" height="24.64" fill="#ff8f00"/>
<rect x="2050.28" width="25.83" height="24.64" fill="#ffef00"/>
<rect x="2075.61" width="25.83" height="24.64" fill="#00efff"/>
<rect x="2100.94" width="25.83" height="24.64" fill="#0030ff"/>
<rect x="2126.27" width="25.83" height="24.64" fill="#0000ff"/>
</g>
<g transform="translate(0,1133.14)">
<rect x="1391.70" width="25.83" height="24.64" fill="#8f0000"/>
<rect x="1417.03" width="25.83" height="24.64" fill="#9f0000"/>
<rect x="1442.36" width="25.83" height="24.64" fill="#bf0000"/>
<rect x="1467.69" width="25.83" height="24.64" fill="#80ff80"/>
<rect x="1493.02" width="25.83" height="24.64" fill="#ff4000"/>
<rect x="1518.35" width="25.83" height="24.64" fill="#cf0000"/>
<rect x="1543.68" width="25.83" height="24.64" fill="#af0000"/>
<rect x="1569.01" width="25.83" height="24.64" fill="#9f0000"/>
<rect x="1594.34" width="51.16" height="24.64" fill="#8f0000"/>
<rect x="1645.00" width="25.83" height="24.64" fill="#af0000"/>
<rect x="1670.33" width="25.83" height="24.64" fill="#cf0000"/>
<rect x="1695.66" width="25.83" height="24.64" fill="#ef0000"/>
<rect x="1720.99" width="25.83" height="24.64" fill="#ff0000"/>
<rect x="1746.32" width="25.83" height="24.64" fill="#ff2000"/>
<rect x="1771.65" width="25.83" height="24.64" fill="#ff3000"/>
<rect x="1796.98" width="25.83" height="24.64" fill="#ff4000"/>
<rect x="1822.31" width="25.83" height="24.64" fill="#ff8f00"/>
<rect x="1847.64" width="25.83" height="24.64" fill="#ffef00"/>
<rect x="1872.97" width="25.83" height="24.64" fill="#ffdf00"/>
<rect x="1898.30" width="51.16" height="24.64" fill="#ffcf00"/>
<rect x="1948.96" width="25.83" height="24.64" fill="#9fff60"/>
<rect x="1974.29" width="25.83" height="24.64" fill="#0050ff"/>
<rect x="1999.62" width="25.83" height="24.64" fill="#50ffaf"/>
<rect x="2024.95" width="25.83" height="24.64" fill="#ffaf00"/>
<rect x="2050.28" width="25.83" height="24.64" fill="#efff10"/>
<rect x="2075.61" width="25.83" height="24.64" fill="#00dfff"/>
<rect x="2100.94" width="25.83" height="24.64" fill="#0030ff"/>
<rect x="2126.27" width="25.83" height="24.64" fill="#0000df"/>
</g>
<g transform="translate(0,1157.28)">
<rect x="1391.70" width="25.83" height="24.64" fill="#8f0000"/>
<rect x="1417.03" width="51.16" height="24.64" fill="#9f0000"/>
<rect x="1467.69" width="25.83" height="24.64" fill="#00cfff"/>
<rect x="1493.02" width="25.83" height="24.64" fill="#ff6000"/>
<rect x="1518.35" width="25.83" height="24.64" fill="#cf0000"/>
<rect x="1543.68" width="25.83" height="24.64" fill="#af0000"/>
<rect x="1569.01" width="25.83" height="24.64" fill="#9f0000"/>
<rect x="1594.34" width="51.16" height="24.64" fill="#8f0000"/>
<rect x="1645.00" width="25.83" height="24.64" fill="#af0000"/>
<rect x="1670.33" width="25.83" height="24.64" fill="#bf0000"/>
<rect x="1695.66" width="25.83" height="24.64" fill="#df0000"/>
<rect x="1720.99" width="25.83" height="24.64" fill="#ef0000"/>
<rect x="1746.32" width="25.83" height="24.64" fill="#ff0000"/>
<rect x="1771.65" width="25.83" height="24.64" fill="#ff1000"/>
<rect x="1796.98" width="25.83" height="24.64" fill="#ff3000"/>
<rect x="1822.31" width="25.83" height="24.64" fill="#ff5000"/>
<rect x="1847.64" width="25.83" height="24.64" fill="#ffdf00"/>
<rect x="1872.97" width="51.16" height="24.64" fill="#ffbf00"/>
<rect x="1923.63" width="25.83" height="24.64" fill="#ffcf00"/>
<rect x="1948.96" width="25.83" height="24.64" fill="#afff50"/>
<rect x="1974.29" width="25.83" height="24.64" fill="#0050ff"/>
<rect x="1999.62" width="25.83" height="24.64" fill="#00dfff"/>
<rect x="2024.95" width="25.83" height="24.64" fill="#ffef00"/>
<rect x="2050.28" width="25.83" height="24.64" fill="#efff10"/>
<rect x="2075.61" width="25.83" height="24.64" fill="#00ffff"/>
<rect x="2100.94" width="51.16" height="24.64" fill="#0030ff"/>
</g>
<g transform="translate(0,1181.42)">
<rect x="1391.70" width="25.83" height="24.64" fill="#8f0000"/>
<rect x="1417.03" width="51.16" height="24.64" fill="#9f0000"/>
<rect x="1467.69" width="25.83" height="24.64" fill="#0020ff"/>
<rect x="1493.02" width="25.83" height="24.64" fill="#ff7000"/>
<rect x="1518.35" width="25.83" height="24.64" fill="#cf0000"/>
<rect x="1543.68" width="25.83" height="24.64" fill="#af0000"/>
<rect x="1569.01" width="25.83" height="24.64" fill="#9f0000"/>
<rect x="1594.34" width="51.16" height="24.64" fill="#8f0000"/>
<rect x="1645.00" width="25.83" height="24.64" fill="#9f0000"/>
<rect x="1670.33" width="25.83" height="24.64" fill="#af0000"/>
<rect x="1695.66" width="25.83" height="24.64" fill="#cf0000"/>
<rect x="1720.99" width="25.83" height="24.64" fill="#df0000"/>
<rect x="1746.32" width="25.83" height="24.64" fill="#ef0000"/>
<rect x="1771.65" width="25.83" height="24.64" fill="#ff0000"/>
<rect x="1796.98" width="25.83" height="24.64" fill="#ff1000"/>
<rect x="1822.31" width="25.83" height="24.64" fill="#ff3000"/>
<rect x="1847.64" width="25.83" height="24.64" fill="#ffcf00"/>
<rect x="1872.97" width="25.83" height="24.64" fill="#ff9f00"/>
<rect x="1898.30" width="25.83" height="24.64" fill="#ffaf00"/>
<rect x="1923.63" width="25.83" height="24.64" fill="#ffbf00"/>
<rect x="1948.96" width="25.83" height="24.64" fill="#cfff30"/>
<rect x="1974.29" width="51.16" height="24.64" fill="#0070ff"/>
<rect x="2024.95" width="25.83" height="24.64" fill="#bfff40"/>
<rect x="2050.28" width="25.83" height="24.64" fill="#efff10"/>
<rect x="2075.61" width="25.83" height="24.64" fill="#30ffcf"/>
<rect x="2100.94" width="25.83" height="24.64" fill="#0030ff"/>
<rect x="2126.27" width="25.83" height="24.64" fill="#0070ff"/>
</g>
<g transform="translate(0,1205.56)">
<rect x="1391.70" width="25.83" height="24.64" fill="#8f0000"/>
<rect x="1417.03" width="51.16" height="24.64" fill="#9f0000"/>
<rect x="1467.69" width="25.83" height="24.64" fill="#008fff"/>
<rect x="1493.02" width="25.83" height="24.64" fill="#ff9f00"/>
<rect x="1518.35" width="25.83" height="24.64" fill="#df0000"/>
<rect x="1543.68" width="25.83" height="24.64" fill="#af0000"/>
<rect x="1569.01" width="25.83" height="24.64" fill="#9f0000"/>
<rect x="1594.34" width="51.16" height="24.64" fill="#8f0000"/>
<rect x="1645.00" width="25.83" height="24.64" fill="#9f0000"/>
<rect x="1670.33" width="25.83" height="24.64" fill="#af0000"/>
<rect x="1695.66" width="25.83" height="24.64" fill="#bf0000"/>
<rect x="1720.99" width="25.83" height="24.64" fill="#cf0000"/>
<rect x="1746.32" width="76.49" height="24.64" fill="#ef0000"/>
<rect x="1822.31" width="25.83" height="24.64" fill="#ff2000"/>
<rect x="1847.64" width="25.83" height="24.64" fill="#ffaf00"/>
<rect x="1872.97" width="51.16" height="24.64" fill="#ff8f00"/>
<rect x="1923.63" width="25.83" height="24.64" fill="#ff9f00"/>
<rect x="1948.96" width="25.83" height="24.64" fill="#ffff00"/>
<rect x="1974.29" width="25.83" height="24.64" fill="#00cfff"/>
<rect x="1999.62" width="25.83" height="24.64" fill="#0030ff"/>
<rect x="2024.95" width="25.83" height="24.64" fill="#60ff9f"/>
<rect x="2050.28" width="25.83" height="24.64" fill="#efff10"/>
<rect x="2075.61" width="25.83" height="24.64" fill="#80ff80"/>
<rect x="2100.94" width="51.16" height="24.64" fill="#0060ff"/>
</g>
<g transform="translate(0,1229.70)">
<rect x="1391.70" width="25.83" height="24.64" fill="#8f0000"/>
<rect x="1417.03" width="51.16" height="24.64" fill="#9f0000"/>
<rect x="1467.69" width="25.83" height="24.64" fill="#ffcf00"/>
<rect x="1493.02" width="25.83" height="24.64" fill="#ffef00"/>
<rect x="1518.35" width="25.83" height="24.64" fill="#ef0000"/>
<rect x="1543.68" width="25.83" height="24.64" fill="#bf0000"/>
<rect x="1569.01" width="25.83" height="24.64" fill="#af0000"/>
<rect x="1594.34" width="25.83" height="24.64" fill="#9f0000"/>
<rect x="1619.67" width="51.16" height="24.64" fill="#8f0000"/>
<rect x="1670.33" width="25.83" height="24.64" fill="#af0000"/>
<rect x="1695.66" width="25.83" height="24.64" fill="#bf0000"/>
<rect x="1720.99" width="25.83" height="24.64" fill="#cf0000"/>
<rect x="1746.32" width="25.83" height="24.64" fill="#df0000"/>
<rect x="1771.65" width="51.16" height="24.64" fill="#ef0000"/>
<rect x="1822.31" width="25.83" height="24.64" fill="#ff0000"/>
<rect x="1847.64" width="76.49" height="24.64" fill="#ff7000"/>
<rect x="1923.63" width="25.83" height="24.64" fill="#ff8000"/>
<rect x="1948.96" width="25.83" height="24.64" fill="#ffdf00"/>
<rect x="1974.29" width="25.83" height="24.64" fill="#40ffbf"/>
<rect x="1999.62" width="25.83" height="24.64" fill="#0060ff"/>
<rect x="2024.95" width="25.83" height="24.64" fill="#00efff"/>
<rect x="2050.28" width="25.83" height="24.64" fill="#efff10"/>
<rect x="2075.61" width="25.83" height="24.64" fill="#bfff40"/>
<rect x="2100.94" width="25.83" height="24.64" fill="#00efff"/>
<rect x="2126.27" width="25.83" height="24.64" fill="#0050ff"/>
</g>
<g transform="translate(0,1253.84)">
<rect x="1391.70" width="25.83" height="24.64" fill="#8f0000"/>
<rect x="1417.03" width="51.16" height="24.64" fill="#9f0000"/>
<rect x="1467.69" width="25.83" height="24.64" fill="#ff0000"/>
<rect x="1493.02" width="25.83" height="24.64" fill="#20ffdf"/>
<rect x="1518.35" width="25.83" height="24.64" fill="#ff1000"/>
<rect x="1543.68" width="25.83" height="24.64" fill="#bf0000"/>
<rect x="1569.01" width="25.83" height="24.64" fill="#af0000"/>
<rect x="1594.34" width="51.16" height="24.64" fill="#9f0000"/>
<rect x="1645.00" width="25.83" height="24.64" fill="#8f0000"/>
<rect x="1670.33" width="25.83" height="24.64" fill="#9f0000"/>
<rect x="1695.66" width="25.83" height="24.64" fill="#af0000"/>
<rect x="1720.99" width="25.83" height="24.64" fill="#bf0000"/>
<rect x="1746.32" width="25.83" height="24.64" fill="#cf0000"/>
<rect x="1771.65" width="51.16" height="24.64" fill="#df0000"/>
<rect x="1822.31" width="25.83" height="24.64" fill="#ef0000"/>
<rect x="1847.64" width="25.83" height="24.64" fill="#ff4000"/>
<rect x="1872.97" width="25.83" height="24.64" fill="#ff6000"/>
<rect x="1898.30" width="25.83" height="24.64" fill="#ff5000"/>
<rect x="1923.63" width="25.83" height="24.64" fill="#ff6000"/>
<rect x="1948.96" width="25.83" height="24.64" fill="#ffaf00"/>
<rect x="1974.29" width="25.83" height="24.64" fill="#afff50"/>
<rect x="1999.62" width="51.16" height="24.64" fill="#00afff"/>
<rect x="2050.28" width="25.83" height="24.64" fill="#cfff30"/>
<rect x="2075.61" width="25.83" height="24.64" fill="#efff10"/>
<rect x="2100.94" width="25.83" height="24.64" fill="#60ff9f"/>
<rect x="2126.27" width="25.83" height="24.64" fill="#009fff"/>
</g>
<g transform="translate(0,1277.98)">
<rect x="1391.70" width="25.83" height="24.64" fill="#8f0000"/>
<rect x="1417.03" width="51.16" height="24.64" fill="#9f0000"/>
<rect x="1467.69" width="25.83" height="24.64" fill="#af0000"/>
<rect x="1493.02" width="25.83" height="24.64" fill="#00009f"/>
<rect x="1518.35" width="25.83" height="24.64" fill="#ff4000"/>
<rect x="1543.68" width="25.83" height="24.64" fill="#cf0000"/>
<rect x="1569.01" width="25.83" height="24.64" fill="#af0000"/>
<rect x="1594.34" width="51.16" height="24.64" fill="#9f0000"/>
<rect x="1645.00" width="25.83" height="24.64" fill="#8f0000"/>
<rect x="1670.33" width="25.83" height="24.64" fill="#9f0000"/>
<rect x="1695.66" width="51.16" height="24.64" fill="#af0000"/>
<rect x="1746.32" width="25.83" height="24.64" fill="#bf0000"/>
<rect x="1771.65" width="51.16" height="24.64" fill="#cf0000"/>
<rect x="1822.31" width="25.83" height="24.64" fill="#df0000"/>
<rect x="1847.64" width="25.83" height="24.64" fill="#ff0000"/>
<rect x="1872.97" width="25.83" height="24.64" fill="#ff5000"/>
<rect x="1898.30" width="25.83" height="24.64" fill="#ff3000"/>
<rect x="1923.63" width="25.83" height="24.64" fill="#ff4000"/>
<rect x="1948.96" width="25.83" height="24.64" fill="#ff7000"/>
<rect x="1974.29" width="25.83" height="24.64" fill="#ffdf00"/>
<rect x="1999.62" width="25.83" height="24.64" fill="#40ffbf"/>
<rect x="2024.95" width="25.83" height="24.64" fill="#00cfff"/>
<rect x="2050.28" width="25.83" height="24.64" fill="#8fff70"/>
<rect x="2075.61" width="25.83" height="24.64" fill="#ffef00"/>
<rect x="2100.94" width="25.83" height="24.64" fill="#efff10"/>
<rect x="2126.27" width="25.83" height="24.64" fill="#60ff9f"/>
</g>
<g transform="translate(0,1302.12)">
<rect x="1391.70" width="25.83" height="24.64" fill="#8f0000"/>
<rect x="1417.03" width="76.49" height="24.64" fill="#9f0000"/>
<rect x="1493.02" width="25.83" height="24.64" fill="#50ffaf"/>
<rect x="1518.35" width="25.83" height="24.64" fill="#ff9f00"/>
<rect x="1543.68" width="25.83" height="24.64" fill="#ef0000"/>
<rect x="1569.01" width="51.16" height="24.64" fill="#af0000"/>
<rect x="1619.67" width="25.83" height="24.64" fill="#9f0000"/>
<rect x="1645.00" width="51.16" height="24.64" fill="#8f0000"/>
<rect x="1695.66" width="25.83" height="24.64" fill="#9f0000"/>
<rect x="1720.99" width="51.16" height="24.64" fill="#af0000"/>
<rect x="1771.65" width="25.83" height="24.64" fill="#bf0000"/>
<rect x="1796.98" width="51.16" height="24.64" fill="#cf0000"/>
<rect x="1847.64" width="25.83" height="24.64" fill="#ef0000"/>
<rect x="1872.97" width="25.83" height="24.64" fill="#ff4000"/>
<rect x="1898.30" width="25.83" height="24.64" fill="#ff2000"/>
<rect x="1923.63" width="25.83" height="24.64" fill="#ff3000"/>
<rect x="1948.96" width="25.83" height="24.64" fill="#ff4000"/>
<rect x="1974.29" width="25.83" height="24.64" fill="#ff8f00"/>
<rect x="1999.62" width="25.83" height="24.64" fill="#cfff30"/>
<rect x="2024.95" width="25.83" height="24.64" fill="#30ffcf"/>
<rect x="2050.28" width="25.83" height="24.64" fill="#70ff8f"/>
<rect x="2075.61" width="25.83" height="24.64" fill="#ffdf00"/>
<rect x="2100.94" width="25.83" height="24.64" fill="#ffcf00"/>
<rect x="2126.27" width="25.83" height="24.64" fill="#efff10"/>
</g>
<g transform="translate(0,1326.26)">
<rect x="1391.70" width="25.83" height="24.64" fill="#8f0000"/>
<rect x="1417.03" width="76.49" height="24.64" fill="#9f0000"/>
<rect x="1493.02" width="25.83" height="24.64" fill="#ff1000"/>
<rect x="1518.35" width="25.83" height="24.64" fill="#50ffaf"/>
<rect x="1543.68" width="25.83" height="24.64" fill="#ff2000"/>
<rect x="1569.01" width="25.83" height="24.64" fill="#cf0000"/>
<rect x="1594.34" width="51.16" height="24.64" fill="#af0000"/>
<rect x="1645.00" width="25.83" height="24.64" fill="#9f0000"/>
<rect x="1670.33" width="51.16" height="24.64" fill="#8f0000"/>
<rect x="1720.99" width="25.83" height="24.64" fill="#9f0000"/>
<rect x="1746.32" width="51.16" height="24.64" fill="#af0000"/>
<rect x="1796.98" width="25.83" height="24.64" fill="#bf0000"/>
<rect x="1822.31" width="51.16" height="24.64" fill="#cf0000"/>
<rect x="1872.97" width="51.16" height="24.64" fill="#ff2000"/>
<rect x="1923.63" width="25.83" height="24.64" fill="#ff1000"/>
<rect x="1948.96" width="25.83" height="24.64" fill="#ff2000"/>
<rect x="1974.29" width="25.83" height="24.64" fill="#ff5000"/>
<rect x="1999.62" width="25.83" height="24.64" fill="#ffcf00"/>
<rect x="2024.95" width="25.83" height="24.64" fill="#afff50"/>
<rect x="2050.28" width="25.83" height="24.64" fill="#8fff70"/>
<rect x="2075.61" width="25.83" height="24.64" fill="#ffff00"/>
<rect x="2100.94" width="25.83" height="24.64" fill="#ff9f00"/>
<rect x="2126.27" width="25.83" height="24.64" fill="#ffbf00"/>
</g>
<g transform="translate(0,1350.40)">
<rect x="1391.70" width="25.83" height="24.64" fill="#8f0000"/>
<rect x="1417.03" width="76.49" height="24.64" fill="#9f0000"/>
<rect x="1493.02" width="25.83" height="24.64" fill="#af0000"/>
<rect x="1518.35" width="25.83" height="24.64" fill="#00009f"/>
<rect x="1543.68" width="25.83" height="24.64" fill="#ff8000"/>
<rect x="1569.01" width="25.83" height="24.64" fill="#ef0000"/>
<rect x="1594.34" width="51.16" height="24.64" fill="#af0000"/>
<rect x="1645.00" width="25.83" height="24.64" fill="#9f0000"/>
<rect x="1670.33" width="51.16" height="24.64" fill="#8f0000"/>
<rect x="1720.99" width="25.83" height="24.64" fill="#800000"/>
<rect x="1746.32" width="25.83" height="24.64" fill="#8f0000"/>
<rect x="1771.65" width="51.16" height="24.64" fill="#af0000"/>
<rect x="1822.31" width="25.83" height="24.64" fill="#bf0000"/>
<rect x="1847.64" width="51.16" height="24.64" fill="#cf0000"/>
<rect x="1898.30" width="25.83" height="24.64" fill="#ff2000"/>
<rect x="1923.63" width="51.16" height="24.64" fill="#ff0000"/>
<rect x="1974.29" width="25.83" height="24.64" fill="#ff3000"/>
<rect x="1999.62" width="25.83" height="24.64" fill="#ff8000"/>
<rect x="2024.95" width="25.83" height="24.64" fill="#ffcf00"/>
<rect x="2050.28" width="25.83" height="24.64" fill="#efff10"/>
<rect x="2075.61" width="25.83" height="24.64" fill="#ffff00"/>
<rect x="2100.94" width="25.83" height="24.64" fill="#ff8f00"/>
<rect x="2126.27" width="25.83" height="24.64" fill="#ff8000"/>
</g>
<g transform="translate(0,1374.54)">
<rect x="1391.70" width="25.83" height="24.64" fill="#8f0000"/>
<rect x="1417.03" width="76.49" height="24.64" fill="#9f0000"/>
<rect x="1493.02" width="25.83" height="24.64" fill="#af0000"/>
<rect x="1518.35" width="25.83" height="24.64" fill="#ff8000"/>
<rect x="1543.68" width="25.83" height="24.64" fill="#00cfff"/>
<rect x="1569.01" width="25.83" height="24.64" fill="#ff3000"/>
<rect x="1594.34" width="25.83" height="24.64" fill="#cf0000"/>
<rect x="1619.67" width="25.83" height="24.64" fill="#af0000"/>
<rect x="1645.00" width="51.16" height="24.64" fill="#8f0000"/>
<rect x="1695.66" width="51.16" height="24.64" fill="#800000"/>
<rect x="1746.32" width="25.83" height="24.64" fill="#8f0000"/>
<rect x="1771.65" width="25.83" height="24.64" fill="#9f0000"/>
<rect x="1796.98" width="51.16" height="24.64" fill="#af0000"/>
<rect x="1847.64" width="51.16" height="24.64" fill="#bf0000"/>
<rect x="1898.30" width="25.83" height="24.64" fill="#ff2000"/>
<rect x="1923.63" width="25.83" height="24.64" fill="#ff0000"/>
<rect x="1948.96" width="25.83" height="24.64" fill="#ef0000"/>
<rect x="1974.29" width="25.83" height="24.64" fill="#ff1000"/>
<rect x="1999.62" width="25.83" height="24.64" fill="#ff4000"/>
<rect x="2024.95" width="25.83" height="24.64" fill="#ff8f00"/>
<rect x="2050.28" width="51.16" height="24.64" fill="#ffcf00"/>
<rect x="2100.94" width="25.83" height="24.64" fill="#ff9f00"/>
<rect x="2126.27" width="25.83" height="24.64" fill="#ff6000"/>
</g>
<g transform="translate(0,1398.68)">
<rect x="1391.70" width="25.83" height="24.64" fill="#8f0000"/>
<rect x="1417.03" width="101.82" height="24.64" fill="#9f0000"/>
<rect x="1518.35" width="25.83" height="24.64" fill="#bf0000"/>
<rect x="1543.68" width="25.83" height="24.64" fill="#30ffcf"/>
<rect x="1569.01" width="25.83" height="24.64" fill="#efff10"/>
<rect x="1594.34" width="25.83" height="24.64" fill="#ff1000"/>
<rect x="1619.67" width="25.83" height="24.64" fill="#bf0000"/>
<rect x="1645.00" width="51.16" height="24.64" fill="#9f0000"/>
<rect x="1695.66" width="101.82" height="24.64" fill="#8f0000"/>
<rect x="1796.98" width="51.16" height="24.64" fill="#9f0000"/>
<rect x="1847.64" width="51.16" height="24.64" fill="#af0000"/>
<rect x="1898.30" width="25.83" height="24.64" fill="#9f0000"/>
<rect x="1923.63" width="25.83" height="24.64" fill="#ff2000"/>
<rect x="1948.96" width="51.16" height="24.64" fill="#ef0000"/>
<rect x="1999.62" width="25.83" height="24.64" fill="#ff1000"/>
<rect x="2024.95" width="25.83" height="24.64" fill="#ff4000"/>
<rect x="2050.28" width="25.83" height="24.64" fill="#ff8f00"/>
<rect x="2075.61" width="51.16" height="24.64" fill="#ff9f00"/>
<rect x="2126.27" width="25.83" height="24.64" fill="#ff7000"/>
</g>
<g transform="translate(0,1422.82)">
<rect x="1391.70" width="25.83" height="24.64" fill="#8f0000"/>
<rect x="1417.03" width="127.15" height="24.64" fill="#9f0000"/>
<rect x="1543.68" width="25.83" height="24.64" fill="#ff0000"/>
<rect x="1569.01" width="25.83" height="24.64" fill="#0070ff"/>
<rect x="1594.34" width="25.83" height="24.64" fill="#dfff20"/>
<rect x="1619.67" width="25.83" height="24.64" fill="#ff2000"/>
<rect x="1645.00" width="25.83" height="24.64" fill="#bf0000"/>
<rect x="1670.33" width="25.83" height="24.64" fill="#af0000"/>
<rect x="1695.66" width="25.83" height="24.64" fill="#9f0000"/>
<rect x="1720.99" width="76.49" height="24.64" fill="#8f0000"/>
<rect x="1796.98" width="25.83" height="24.64" fill="#800000"/>
<rect x="1822.31" width="51.16" height="24.64" fill="#8f0000"/>
<rect x="1872.97" width="51.16" height="24.64" fill="#9f0000"/>
<rect x="1923.63" width="25.83" height="24.64" fill="#af0000"/>
<rect x="1948.96" width="76.49" height="24.64" fill="#ef0000"/>
<rect x="2024.95" width="25.83" height="24.64" fill="#ff1000"/>
<rect x="2050.28" width="25.83" height="24.64" fill="#ff3000"/>
<rect x="2075.61" width="25.83" height="24.64" fill="#ff5000"/>
<rect x="2100.94" width="25.83" height="24.64" fill="#ff7000"/>
<rect x="2126.27" width="25.83" height="24.64" fill="#ff6000"/>
</g>
<g transform="translate(0,1446.96)">
<rect x="1391.70" width="25.83" height="24.64" fill="#8f0000"/>
<rect x="1417.03" width="127.15" height="24.64" fill="#9f0000"/>
<rect x="1543.68" width="25.83" height="24.64" fill="#af0000"/>
<rect x="1569.01" width="25.83" height="24.64" fill="#ff4000"/>
<rect x="1594.34" width="25.83" height="24.64" fill="#10ffef"/>
<rect x="1619.67" width="25.83" height="24.64" fill="#8fff70"/>
<rect x="1645.00" width="25.83" height="24.64" fill="#ff7000"/>
<rect x="1670.33" width="25.83" height="24.64" fill="#ff0000"/>
<rect x="1695.66" width="25.83" height="24.64" fill="#cf0000"/>
<rect x="1720.99" width="25.83" height="24.64" fill="#af0000"/>
<rect x="1746.32" width="25.83" height="24.64" fill="#9f0000"/>
<rect x="1771.65" width="25.83" height="24.64" fill="#8f0000"/>
<rect x="1796.98" width="51.16" height="24.64" fill="#800000"/>
<rect x="1847.64" width="101.82" height="24.64" fill="#8f0000"/>
<rect x="1948.96" width="51.16" height="24.64" fill="#df0000"/>
<rect x="1999.62" width="25.83" height="24.64" fill="#cf0000"/>
<rect x="2024.95" width="25.83" height="24.64" fill="#df0000"/>
<rect x="2050.28" width="25.83" height="24.64" fill="#ef0000"/>
<rect x="2075.61" width="51.16" height="24.64" fill="#ff1000"/>
<rect x="2126.27" width="25.83" height="24.64" fill="#ff3000"/>
</g>
<g transform="translate(0,1471.10)">
<rect x="1391.70" width="25.83" height="24.64" fill="#8f0000"/>
<rect x="1417.03" width="152.48" height="24.64" fill="#9f0000"/>
<rect x="1569.01" width="25.83" height="24.64" fill="#af0000"/>
<rect x="1594.34" width="25.83" height="24.64" fill="#ff1000"/>
<rect x="1619.67" width="25.83" height="24.64" fill="#cfff30"/>
<rect x="1645.00" width="25.83" height="24.64" fill="#10ffef"/>
<rect x="1670.33" width="25.83" height="24.64" fill="#ffff00"/>
<rect x="1695.66" width="25.83" height="24.64" fill="#ff7000"/>
<rect x="1720.99" width="25.83" height="24.64" fill="#ff2000"/>
<rect x="1746.32" width="25.83" height="24.64" fill="#df0000"/>
<rect x="1771.65" width="25.83" height="24.64" fill="#bf0000"/>
<rect x="1796.98" width="127.15" height="24.64" fill="#9f0000"/>
<rect x="1923.63" width="25.83" height="24.64" fill="#af0000"/>
<rect x="1948.96" width="101.82" height="24.64" fill="#bf0000"/>
<rect x="2050.28" width="76.49" height="24.64" fill="#cf0000"/>
<rect x="2126.27" width="25.83" height="24.64" fill="#df0000"/>
</g>
<g transform="translate(0,1495.24)">
<rect x="1391.70" width="25.83" height="24.64" fill="#8f0000"/>
<rect x="1417.03" width="177.81" height="24.64" fill="#9f0000"/>
<rect x="1594.34" width="25.83" height="24.64" fill="#af0000"/>
<rect x="1619.67" width="25.83" height="24.64" fill="#ef0000"/>
<rect x="1645.00" width="25.83" height="24.64" fill="#ff6000"/>
<rect x="1670.33" width="25.83" height="24.64" fill="#cfff30"/>
<rect x="1695.66" width="25.83" height="24.64" fill="#70ff8f"/>
<rect x="1720.99" width="25.83" height="24.64" fill="#afff50"/>
<rect x="1746.32" width="25.83" height="24.64" fill="#ffdf00"/>
<rect x="1771.65" width="25.83" height="24.64" fill="#ff8f00"/>
<rect x="1796.98" width="25.83" height="24.64" fill="#ff5000"/>
<rect x="1822.31" width="25.83" height="24.64" fill="#ff3000"/>
<rect x="1847.64" width="25.83" height="24.64" fill="#ff1000"/>
<rect x="1872.97" width="51.16" height="24.64" fill="#ef0000"/>
<rect x="1923.63" width="25.83" height="24.64" fill="#df0000"/>
<rect x="1948.96" width="51.16" height="24.64" fill="#cf0000"/>
<rect x="1999.62" width="25.83" height="24.64" fill="#df0000"/>
<rect x="2024.95" width="25.83" height="24.64" fill="#cf0000"/>
<rect x="2050.28" width="101.82" height="24.64" fill="#af0000"/>
</g>
<g transform="translate(0,1519.38)">
<rect x="1391.70" width="25.83" height="24.64" fill="#8f0000"/>
<rect x="1417.03" width="228.47" height="24.64" fill="#9f0000"/>
<rect x="1645.00" width="25.83" height="24.64" fill="#af0000"/>
<rect x="1670.33" width="25.83" height="24.64" fill="#ef0000"/>
<rect x="1695.66" width="25.83" height="24.64" fill="#ff4000"/>
<rect x="1720.99" width="25.83" height="24.64" fill="#ff8f00"/>
<rect x="1746.32" width="25.83" height="24.64" fill="#ffdf00"/>
<rect x="1771.65" width="51.16" height="24.64" fill="#efff10"/>
<rect x="1822.31" width="25.83" height="24.64" fill="#ffff00"/>
<rect x="1847.64" width="25.83" height="24.64" fill="#ffef00"/>
<rect x="1872.97" width="25.83" height="24.64" fill="#ffbf00"/>
<rect x="1898.30" width="25.83" height="24.64" fill="#ff9f00"/>
<rect x="1923.63" width="25.83" height="24.64" fill="#ff8f00"/>
<rect x="1948.96" width="25.83" height="24.64" fill="#ff7000"/>
<rect x="1974.29" width="25.83" height="24.64" fill="#ff5000"/>
<rect x="1999.62" width="25.83" height="24.64" fill="#ff3000"/>
<rect x="2024.95" width="25.83" height="24.64" fill="#ff1000"/>
<rect x="2050.28" width="51.16" height="24.64" fill="#ff4000"/>
<rect x="2100.94" width="51.16" height="24.64" fill="#ff3000"/>
</g>
<g transform="translate(0,1543.52)">
<rect x="1391.70" width="25.83" height="24.64" fill="#8f0000"/>
<rect x="1417.03" width="279.13" height="24.64" fill="#9f0000"/>
<rect x="1695.66" width="25.83" height="24.64" fill="#af0000"/>
<rect x="1720.99" width="25.83" height="24.64" fill="#cf0000"/>
<rect x="1746.32" width="25.83" height="24.64" fill="#ef0000"/>
<rect x="1771.65" width="25.83" height="24.64" fill="#ff2000"/>
<rect x="1796.98" width="25.83" height="24.64" fill="#ff6000"/>
<rect x="1822.31" width="25.83" height="24.64" fill="#ff8000"/>
<rect x="1847.64" width="25.83" height="24.64" fill="#ff8f00"/>
<rect x="1872.97" width="25.83" height="24.64" fill="#ffaf00"/>
<rect x="1898.30" width="76.49" height="24.64" fill="#ffbf00"/>
<rect x="1974.29" width="25.83" height="24.64" fill="#ffaf00"/>
<rect x="1999.62" width="25.83" height="24.64" fill="#ff9f00"/>
<rect x="2024.95" width="25.83" height="24.64" fill="#ff8f00"/>
<rect x="2050.28" width="25.83" height="24.64" fill="#ff8000"/>
<rect x="2075.61" width="25.83" height="24.64" fill="#ffaf00"/>
<rect x="2100.94" width="25.83" height="24.64" fill="#ffef00"/>
<rect x="2126.27" width="25.83" height="24.64" fill="#ffcf00"/>
</g>
<g transform="translate(0,1567.66)">
<rect x="1391.70" width="25.83" height="24.64" fill="#8f0000"/>
<rect x="1417.03" width="329.79" height="24.64" fill="#9f0000"/>
<rect x="1746.32" width="25.83" height="24.64" fill="#af0000"/>
<rect x="1771.65" width="25.83" height="24.64" fill="#9f0000"/>
<rect x="1796.98" width="51.16" height="24.64" fill="#af0000"/>
<rect x="1847.64" width="25.83" height="24.64" fill="#cf0000"/>
<rect x="1872.97" width="51.16" height="24.64" fill="#ef0000"/>
<rect x="1923.63" width="25.83" height="24.64" fill="#ff0000"/>
<rect x="1948.96" width="25.83" height="24.64" fill="#ff2000"/>
<rect x="1974.29" width="25.83" height="24.64" fill="#ff3000"/>
<rect x="1999.62" width="51.16" height="24.64" fill="#ff5000"/>
<rect x="2050.28" width="25.83" height="24.64" fill="#ff7000"/>
<rect x="2075.61" width="25.83" height="24.64" fill="#ff5000"/>
<rect x="2100.94" width="51.16" height="24.64" fill="#ff6000"/>
</g>
<g transform="translate(0,1591.80)">
<rect x="1391.70" width="25.83" height="24.64" fill="#8f0000"/>
<rect x="1417.03" width="532.43" height="24.64" fill="#9f0000"/>
<rect x="1948.96" width="203.14" height="24.64" fill="#bf0000"/>
</g>
<g transform="translate(0,1615.94)">
<rect x="1391.70" width="25.83" height="24.64" fill="#8f0000"/>
<rect x="1417.03" width="735.07" height="24.64" fill="#9f0000"/>
</g>
<g transform="translate(0,1640.08)">
<rect x="1391.70" width="25.83" height="24.64" fill="#8f0000"/>
<rect x="1417.03" width="735.07" height="24.64" fill="#9f0000"/>
</g>
<g transform="translate(0,1664.22)">
<rect x="1391.70" width="25.83" height="24.64" fill="#8f0000"/>
<rect x="1417.03" width="735.07" height="24.64" fill="#9f0000"/>
</g>
<g transform="translate(0,1688.36)">
<rect x="1391.70" width="25.83" height="24.64" fill="#8f0000"/>
<rect x="1417.03" width="735.07" height="24.64" fill="#9f0000"/>
</g>
<g transform="translate(0,1712.50)">
<rect x="1391.70" width="25.83" height="24.64" fill="#8f0000"/>
<rect x="1417.03" width="735.07" height="24.64" fill="#9f0000"/>
</g>
<g transform="translate(0,1736.64)">
<rect x="1391.70" width="25.83" height="24.64" fill="#8f0000"/>
<rect x="1417.03" width="735.07" height="24.64" fill="#9f0000"/>
</g>
<g transform="translate(0,1760.78)">
<rect x="1391.70" width="25.83" height="24.64" fill="#8f0000"/>
<rect x="1417.03" width="735.07" height="24.64" fill="#9f0000"/>
</g>
<g transform="translate(0,1784.92)">
<rect x="1391.70" width="25.83" height="24.64" fill="#8f0000"/>
<rect x="1417.03" width="735.07" height="24.64" fill="#9f0000"/>
</g>
<g transform="translate(0,1809.06)">
<rect x="1391.70" width="25.83" height="24.64" fill="#8f0000"/>
<rect x="1417.03" width="735.07" height="24.64" fill="#9f0000"/>
</g>
</g>
<path d="M1391.70 1109.00V1833.20M1391.70 1109.00H2151.60M1417.03 1109.00V1833.20M1391.70 1133.14H2151.60M1442.36 1109.00V1833.20M1391.70 1157.28H2151.60M1467.69 1109.00V1833.20M1391.70 1181.42H2151.60M1493.02 1109.00V1833.20M1391.70 1205.56H2151.60M1518.35 1109.00V1833.20M1391.70 1229.70H2151.60M1543.68 1109.00V1833.20M1391.70 1253.84H2151.60M1569.01 1109.00V1833.20M1391.70 1277.98H2151.60M1594.34 1109.00V1833.20M1391.70 1302.12H2151.60M1619.67 1109.00V1833.20M1391.70 1326.26H2151.60M1645.00 1109.00V1833.20M1391.70 1350.40H2151.60M1670.33 1109.00V1833.20M1391.70 1374.54H2151.60M1695.66 1109.00V1833.20M1391.70 1398.68H2151.60M1720.99 1109.00V1833.20M1391.70 1422.82H2151.60M1746.32 1109.00V1833.20M1391.70 1446.96H2151.60M1771.65 1109.00V1833.20M1391.70 1471.10H2151.60M1796.98 1109.00V1833.20M1391.70 1495.24H2151.60M1822.31 1109.00V1833.20M1391.70 1519.38H2151.60M1847.64 1109.00V1833.20M1391.70 1543.52H2151.60M1872.97 1109.00V1833.20M1391.70 1567.66H2151.60M1898.30 1109.00V1833.20M1391.70 1591.80H2151.60M1923.63 1109.00V1833.20M1391.70 1615.94H2151.60M1948.96 1109.00V1833.20M1391.70 1640.08H2151.60M1974.29 1109.00V1833.20M1391.70 1664.22H2151.60M1999.62 1109.00V1833.20M1391.70 1688.36H2151.60M2024.95 1109.00V1833.20M1391.70 1712.50H2151.60M2050.28 1109.00V1833.20M1391.70 1736.64H2151.60M2075.61 1109.00V1833.20M1391.70 1760.78H2151.60M2100.94 1109.00V1833.20M1391.70 1784.92H2151.60M2126.27 1109.00V1833.20M1391.70 1809.06H2151.60M2151.60 1109.00V1833.20M1391.70 1833.20H2151.60" stroke="#000" stroke-width="1.70" fill="none" stroke-linecap="square"/>
<text transform="translate(1594.34,1917.80) scale(1,1.025)" font-size="68.50" text-anchor="middle" fill="#262626" font-family="Liberation Sans, Arial, sans-serif" >0.1</text>
<text transform="translate(1372.10,1664.98) scale(1,1.025)" font-size="68.50" text-anchor="end" fill="#262626" font-family="Liberation Sans, Arial, sans-serif" >0.1</text>
<path d="M1594.34 1833.20v-7M1391.70 1640.08h7" stroke="#262626" stroke-width="1.2"/>
<text transform="translate(1847.64,1917.80) scale(1,1.025)" font-size="68.50" text-anchor="middle" fill="#262626" font-family="Liberation Sans, Arial, sans-serif" >0.2</text>
<text transform="translate(1372.10,1423.58) scale(1,1.025)" font-size="68.50" text-anchor="end" fill="#262626" font-family="Liberation Sans, Arial, sans-serif" >0.2</text>
<path d="M1847.64 1833.20v-7M1391.70 1398.68h7" stroke="#262626" stroke-width="1.2"/>
<text transform="translate(2100.94,1917.80) scale(1,1.025)" font-size="68.50" text-anchor="middle" fill="#262626" font-family="Liberation Sans, Arial, sans-serif" >0.3</text>
<text transform="translate(1372.10,1182.18) scale(1,1.025)" font-size="68.50" text-anchor="end" fill="#262626" font-family="Liberation Sans, Arial, sans-serif" >0.3</text>
<path d="M2100.94 1833.20v-7M1391.70 1157.28h7" stroke="#262626" stroke-width="1.2"/>
<text transform="translate(1773.15,2003.00) scale(1,1.030)" font-size="75.60" text-anchor="middle" fill="#262626" font-family="Liberation Sans, Arial, sans-serif" >L(μm)</text>
<text transform="translate(1252.50,1470.10) rotate(-90) scale(1,1.03)" font-size="75.60" text-anchor="middle" fill="#262626" font-family="Liberation Sans, Arial, sans-serif">W(μm)</text>
<text transform="translate(1771.65,1091.40) scale(1,1.035)" font-size="74.50" text-anchor="middle" fill="#000" font-family="Liberation Sans, Arial, sans-serif" >Ty</text>
<text x="1186.70" y="1121.00" font-size="68.00" text-anchor="start" fill="#000" font-family="Liberation Serif, Times New Roman, serif" >(d)</text>
<g shape-rendering="crispEdges">
<rect x="2184.10" y="1818.17" width="69.00" height="11.83" fill="#00008f"/>
<rect x="2184.10" y="1806.94" width="69.00" height="11.83" fill="#00009f"/>
<rect x="2184.10" y="1795.71" width="69.00" height="11.83" fill="#0000af"/>
<rect x="2184.10" y="1784.48" width="69.00" height="11.83" fill="#0000bf"/>
<rect x="2184.10" y="1773.25" width="69.00" height="11.83" fill="#0000cf"/>
<rect x="2184.10" y="1762.02" width="69.00" height="11.83" fill="#0000df"/>
<rect x="2184.10" y="1750.79" width="69.00" height="11.83" fill="#0000ef"/>
<rect x="2184.10" y="1739.56" width="69.00" height="11.83" fill="#0000ff"/>
<rect x="2184.10" y="1728.33" width="69.00" height="11.83" fill="#0010ff"/>
<rect x="2184.10" y="1717.10" width="69.00" height="11.83" fill="#0020ff"/>
<rect x="2184.10" y="1705.87" width="69.00" height="11.83" fill="#0030ff"/>
<rect x="2184.10" y="1694.64" width="69.00" height="11.83" fill="#0040ff"/>
<rect x="2184.10" y="1683.41" width="69.00" height="11.83" fill="#0050ff"/>
<rect x="2184.10" y="1672.18" width="69.00" height="11.83" fill="#0060ff"/>
<rect x="2184.10" y="1660.95" width="69.00" height="11.83" fill="#0070ff"/>
<rect x="2184.10" y="1649.73" width="69.00" height="11.83" fill="#0080ff"/>
<rect x="2184.10" y="1638.50" width="69.00" height="11.83" fill="#008fff"/>
<rect x="2184.10" y="1627.27" width="69.00" height="11.83" fill="#009fff"/>
<rect x="2184.10" y="1616.04" width="69.00" height="11.83" fill="#00afff"/>
<rect x="2184.10" y="1604.81" width="69.00" height="11.83" fill="#00bfff"/>
<rect x="2184.10" y="1593.58" width="69.00" height="11.83" fill="#00cfff"/>
<rect x="2184.10" y="1582.35" width="69.00" height="11.83" fill="#00dfff"/>
<rect x="2184.10" y="1571.12" width="69.00" height="11.83" fill="#00efff"/>
<rect x="2184.10" y="1559.89" width="69.00" height="11.83" fill="#00ffff"/>
<rect x="2184.10" y="1548.66" width="69.00" height="11.83" fill="#10ffef"/>
<rect x="2184.10" y="1537.43" width="69.00" height="11.83" fill="#20ffdf"/>
<rect x="2184.10" y="1526.20" width="69.00" height="11.83" fill="#30ffcf"/>
<rect x="2184.10" y="1514.97" width="69.00" height="11.83" fill="#40ffbf"/>
<rect x="2184.10" y="1503.74" width="69.00" height="11.83" fill="#50ffaf"/>
<rect x="2184.10" y="1492.51" width="69.00" height="11.83" fill="#60ff9f"/>
<rect x="2184.10" y="1481.28" width="69.00" height="11.83" fill="#70ff8f"/>
<rect x="2184.10" y="1470.05" width="69.00" height="11.83" fill="#80ff80"/>
<rect x="2184.10" y="1458.82" width="69.00" height="11.83" fill="#8fff70"/>
<rect x="2184.10" y="1447.59" width="69.00" height="11.83" fill="#9fff60"/>
<rect x="2184.10" y="1436.36" width="69.00" height="11.83" fill="#afff50"/>
<rect x="2184.10" y="1425.13" width="69.00" height="11.83" fill="#bfff40"/>
<rect x="2184.10" y="1413.90" width="69.00" height="11.83" fill="#cfff30"/>
<rect x="2184.10" y="1402.67" width="69.00" height="11.83" fill="#dfff20"/>
<rect x="2184.10" y="1391.44" width="69.00" height="11.83" fill="#efff10"/>
<rect x="2184.10" y="1380.21" width="69.00" height="11.83" fill="#ffff00"/>
<rect x="2184.10" y="1368.98" width="69.00" height="11.83" fill="#ffef00"/>
<rect x="2184.10" y="1357.75" width="69.00" height="11.83" fill="#ffdf00"/>
<rect x="2184.10" y="1346.52" width="69.00" height="11.83" fill="#ffcf00"/>
<rect x="2184.10" y="1335.29" width="69.00" height="11.83" fill="#ffbf00"/>
<rect x="2184.10" y="1324.06" width="69.00" height="11.83" fill="#ffaf00"/>
<rect x="2184.10" y="1312.83" width="69.00" height="11.83" fill="#ff9f00"/>
<rect x="2184.10" y="1301.60" width="69.00" height="11.83" fill="#ff8f00"/>
<rect x="2184.10" y="1290.38" width="69.00" height="11.83" fill="#ff8000"/>
<rect x="2184.10" y="1279.15" width="69.00" height="11.83" fill="#ff7000"/>
<rect x="2184.10" y="1267.92" width="69.00" height="11.83" fill="#ff6000"/>
<rect x="2184.10" y="1256.69" width="69.00" height="11.83" fill="#ff5000"/>
<rect x="2184.10" y="1245.46" width="69.00" height="11.83" fill="#ff4000"/>
<rect x="2184.10" y="1234.23" width="69.00" height="11.83" fill="#ff3000"/>
<rect x="2184.10" y="1223.00" width="69.00" height="11.83" fill="#ff2000"/>
<rect x="2184.10" y="1211.77" width="69.00" height="11.83" fill="#ff1000"/>
<rect x="2184.10" y="1200.54" width="69.00" height="11.83" fill="#ff0000"/>
<rect x="2184.10" y="1189.31" width="69.00" height="11.83" fill="#ef0000"/>
<rect x="2184.10" y="1178.08" width="69.00" height="11.83" fill="#df0000"/>
<rect x="2184.10" y="1166.85" width="69.00" height="11.83" fill="#cf0000"/>
<rect x="2184.10" y="1155.62" width="69.00" height="11.83" fill="#bf0000"/>
<rect x="2184.10" y="1144.39" width="69.00" height="11.83" fill="#af0000"/>
<rect x="2184.10" y="1133.16" width="69.00" height="11.83" fill="#9f0000"/>
<rect x="2184.10" y="1121.93" width="69.00" height="11.83" fill="#8f0000"/>
<rect x="2184.10" y="1110.70" width="69.00" height="11.83" fill="#800000"/>
</g>
<rect x="2184.10" y="1110.70" width="69.00" height="718.70" fill="none" stroke="#262626" stroke-width="1.2"/>
<path d="M2253.1 1249.20h-7" stroke="#262626" stroke-width="1.2"/>
<path d="M2253.1 1398.80h-7" stroke="#262626" stroke-width="1.2"/>
<path d="M2253.1 1548.40h-7" stroke="#262626" stroke-width="1.2"/>
<path d="M2253.1 1698.00h-7" stroke="#262626" stroke-width="1.2"/>
<text transform="translate(2270.70,1270.98) scale(1,1.020)" font-size="61.70" text-anchor="start" fill="#262626" font-family="Liberation Sans, Arial, sans-serif" >0.9</text>
<text transform="translate(2270.70,1420.58) scale(1,1.020)" font-size="61.70" text-anchor="start" fill="#262626" font-family="Liberation Sans, Arial, sans-serif" >0.8</text>
<text transform="translate(2270.70,1570.18) scale(1,1.020)" font-size="61.70" text-anchor="start" fill="#262626" font-family="Liberation Sans, Arial, sans-serif" >0.7</text>
<text transform="translate(2270.70,1719.78) scale(1,1.020)" font-size="61.70" text-anchor="start" fill="#262626" font-family="Liberation Sans, Arial, sans-serif" >0.6</text>
</svg></body></html>
